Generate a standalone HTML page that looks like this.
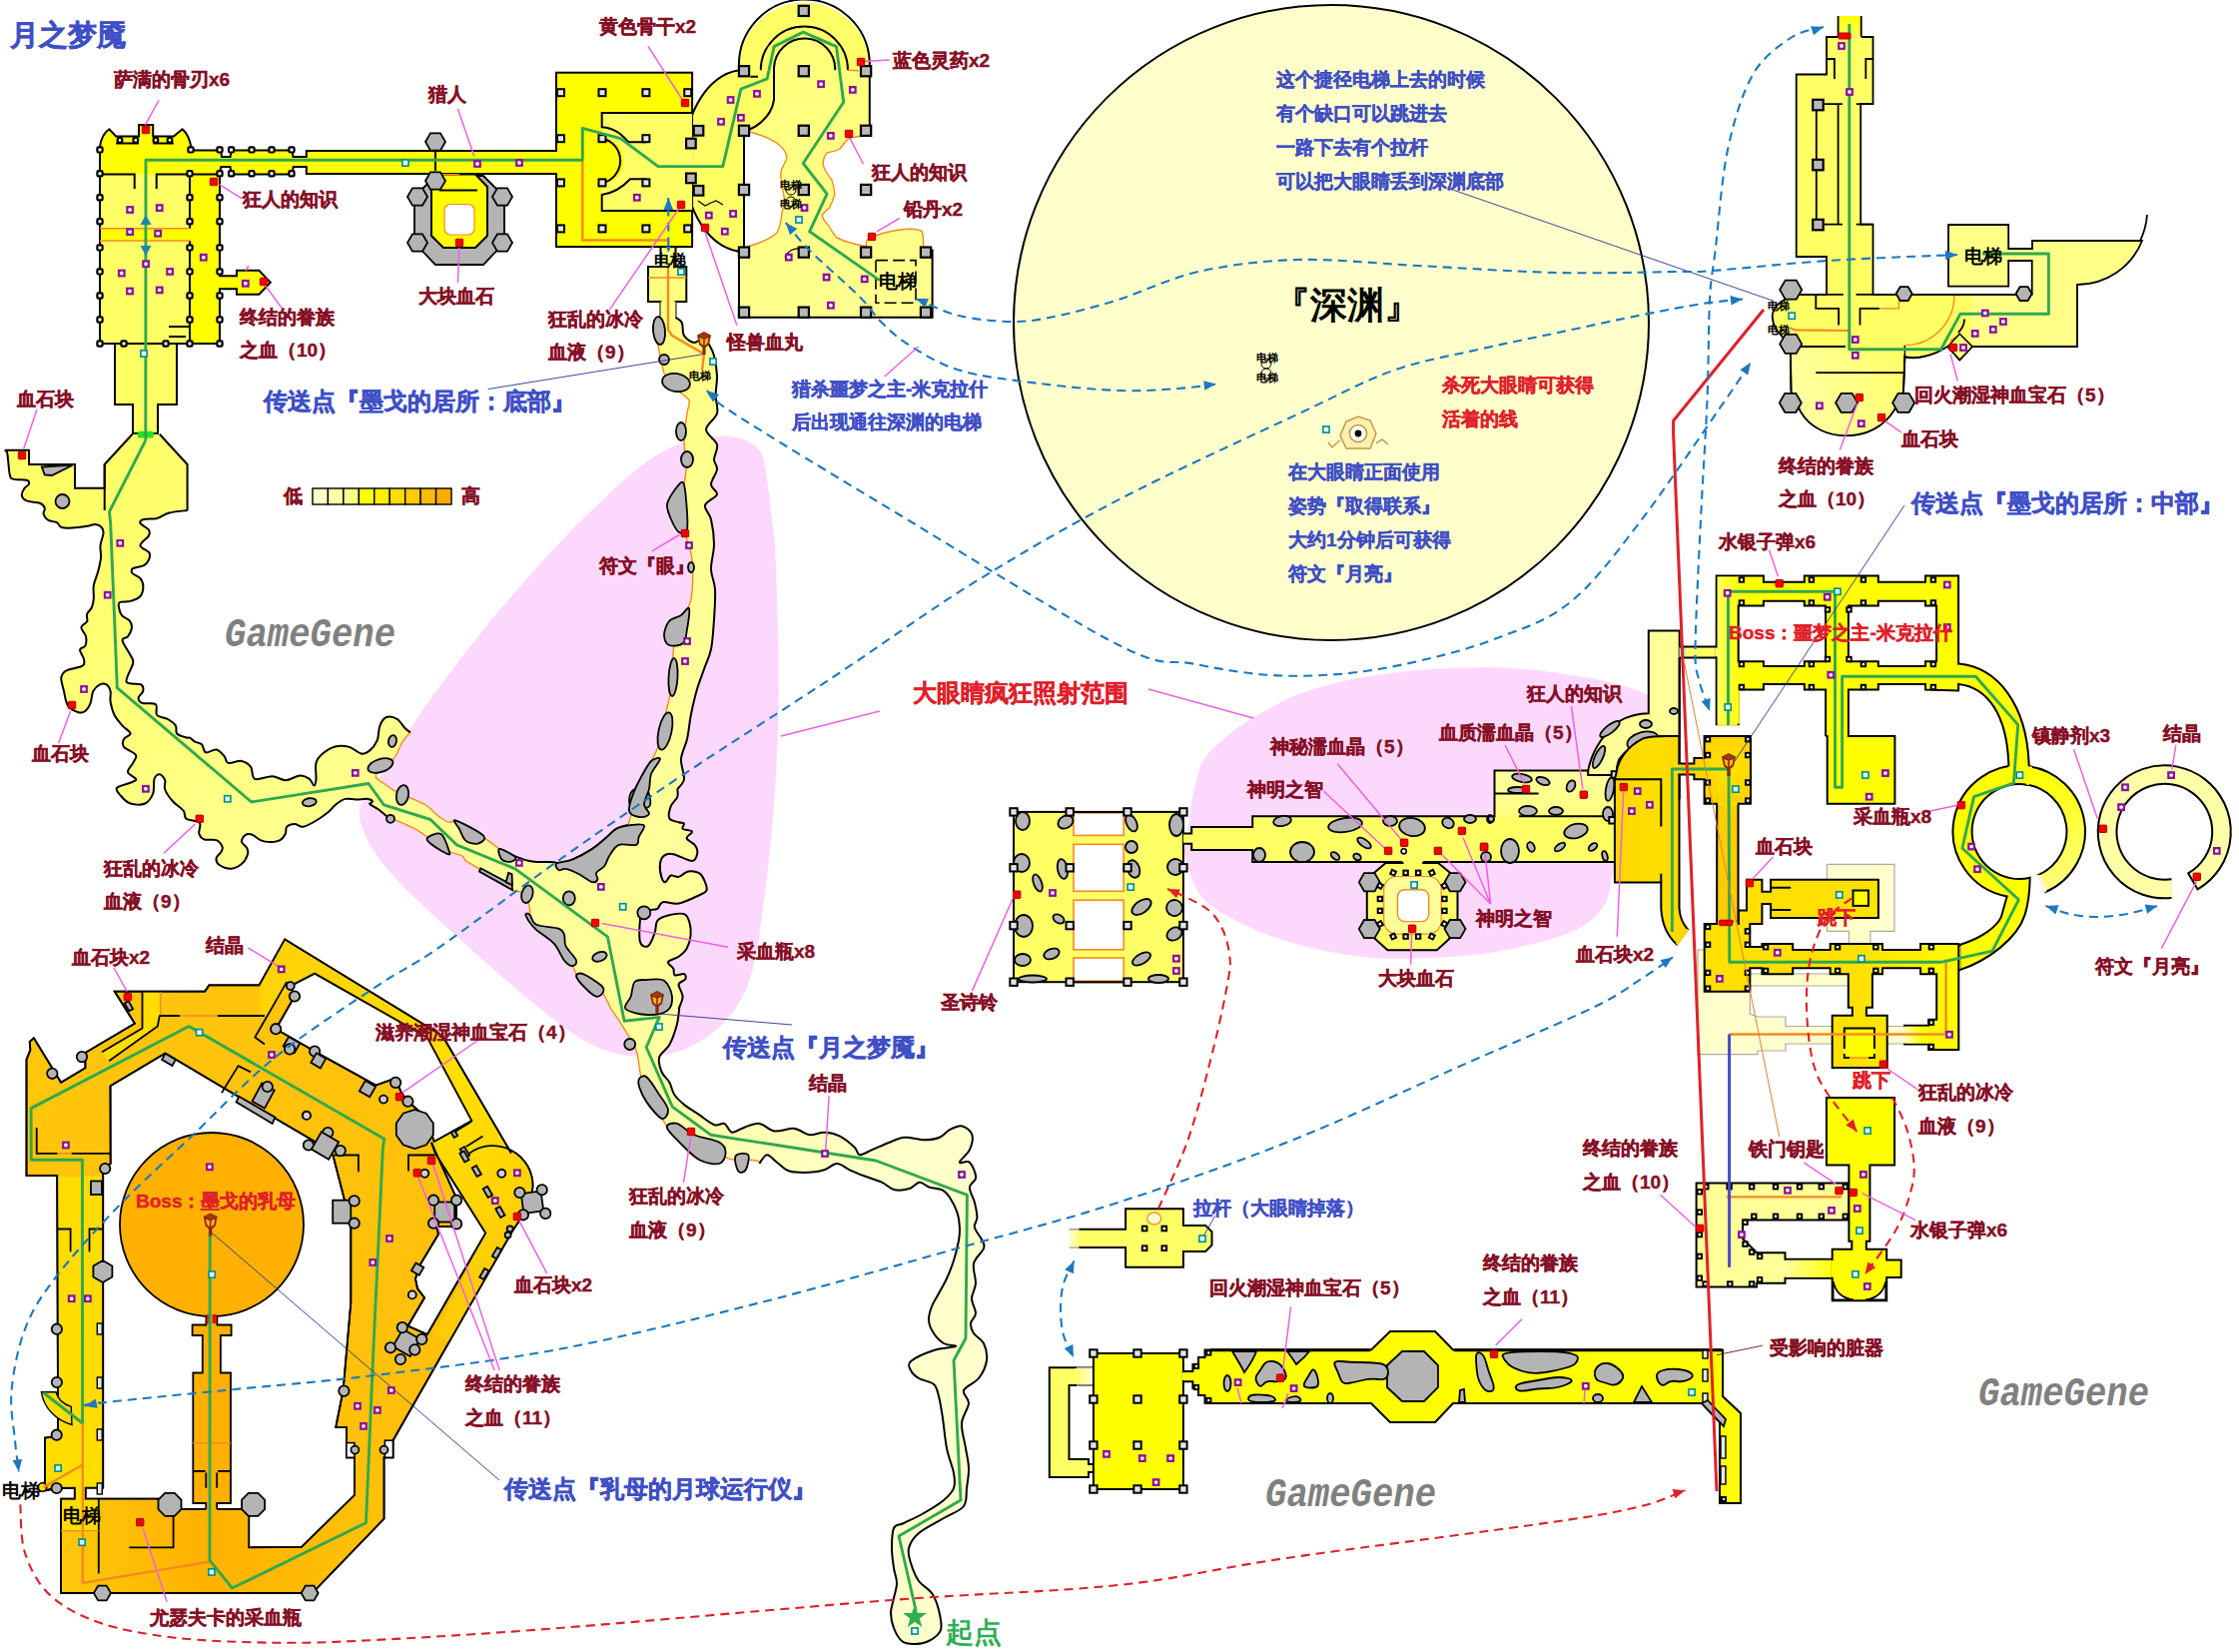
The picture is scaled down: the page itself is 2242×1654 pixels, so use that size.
<!DOCTYPE html>
<html><head><meta charset="utf-8"><title>月之梦魇</title>
<style>
html,body{margin:0;padding:0;background:#fff;}
body{width:2242px;height:1654px;overflow:hidden;font-family:"Liberation Sans",sans-serif;}
svg{display:block;position:absolute;left:0;top:0}
text{font-family:"Liberation Sans",sans-serif;font-weight:bold}
.lb{fill:#861026;font-size:19px;stroke:#861026;stroke-width:.45px}
.bl{fill:#3f4fc6;font-size:19px;stroke:#3f4fc6;stroke-width:.45px}
.bb{fill:#3f4fc6;font-size:24px;stroke:#3f4fc6;stroke-width:.55px}
.rd{fill:#e0202a;font-size:19px;stroke:#e0202a;stroke-width:.45px}
.w{stroke:#000;stroke-width:2;fill:none;stroke-linejoin:miter}
.y1{fill:#ffff00;stroke:#000;stroke-width:2}
.y2{fill:#ffff66;stroke:#000;stroke-width:2}
.y3{fill:#ffff99;stroke:#000;stroke-width:1.6}
.g{fill:#b4b4b4;stroke:#000;stroke-width:1.8}
.gp{stroke:#2fa84f;stroke-width:2.9;fill:none;stroke-linejoin:round}
.or{stroke:#f58a1f;stroke-width:2;fill:none}
.bd{stroke:#1c78c0;stroke-width:2.1;fill:none;stroke-dasharray:9 6}
.rdd{stroke:#e0202a;stroke-width:2.1;fill:none;stroke-dasharray:9 6}
.mg{stroke:#ee60e6;stroke-width:1.5;fill:none}
.nv{stroke:#27308f;stroke-width:0.9;fill:none}
</style></head><body>
<svg width="2242" height="1654" viewBox="0 0 2242 1654">
<!-- 00_base.svg -->
<rect x="0" y="0" width="2242" height="1654" fill="#ffffff"/>
<!-- pink blob 1 -->
<path fill="#fdd8fd" d="M716,437 C726,435 750,438 760,450 C768,460 770,500 775.6,540 C778,580 780,660 779.7,700 C779,740 777,800 770,860 C766,900 762,920 760,940 C757,960 752,978 748,988 C742,1002 736,1012 728,1020 C718,1032 705,1042 692,1047.5 C680,1053 670,1056 660,1057.5 C645,1059 632,1058 620,1055.5 C608,1053 598,1049 588,1043.5 C572,1035 560,1025 548,1015.5 C530,1002 515,988 500,975.6 C486,964 472,951 460,939.6 C442,924 426,909 412,895.6 C400,884 388,871 380,859.7 C372,849 367,840 364,831.7 C361,824 359,818 360,811.7 C361,805 364,800 368,795.7 C378,782 388,766 396,751.7 C402,742 406,736 412,727.8 C420,716 430,700 440,687.8 C452,672 466,653 480,635.8 C492,620 506,604 520,587.9 C532,574 546,558 560,543.9 C572,531 586,517 600,503.9 C612,492 626,479 640,468 C652,459 666,450 680,444 C692,439 704,437 716,437 Z"/>
<!-- pink blob 2 -->
<path fill="#fdd8fd" d="M1186,853 L1190,828 C1192,805 1196,785 1203,765 C1208,755 1213,750 1220,744.7 C1230,735 1242,726 1255,718.4 C1268,711 1282,703 1295,697 C1310,691 1328,686 1345,682 C1362,678 1382,675 1400,673.3 C1415,671.5 1430,670 1446,669.6 C1462,668.6 1480,668 1496,668.3 C1512,668.5 1530,670 1546,672 C1562,674 1580,676.5 1596,679.6 C1612,683 1628,687 1641,692 C1648,695 1652,697 1656,700 L1656,740 L1625,760 L1616,865 C1614,880 1612,893 1608.6,903 C1602,914 1594,922 1583.5,928 C1572,934 1560,938.5 1546,942 C1530,946.5 1512,950.5 1496,953.3 C1480,956 1462,957.6 1446,958.3 C1425,959.6 1404,960 1383,959.5 C1366,958.6 1350,956.5 1333,953.3 C1316,950 1300,946 1283,940.7 C1268,936 1254,930 1240,923 C1228,917 1217,910 1208,903 C1201,897 1196,888 1193,878 C1190,870 1187,862 1186,853 Z"/>
<!-- abyss circle -->
<circle cx="1333" cy="323" r="318" fill="#ffffcc" stroke="#000" stroke-width="2"/>

<!-- 10_tl.svg -->
<path class="y2" d="M115,344 L115,405 L133,405 L133,434 L158,434 L158,405 L177,405 L177,344 Z"/>
<path class="y1" d="M100,344 L100,147 C101,139 104,133 109.4,129.2 L116.1,136.5 L139,136.5 L139,125 L153.2,125 L153.2,136.5 L173.9,136.5 L182.6,129.2 C187,133 190,139 191.3,147 L191.3,150.4 L221,150.4 L222,157 L230.6,157 L231.6,150.4 L292.6,150.4 L293.5,157 L306.8,157 L306.8,151 L557,151 L557,174 L306.8,174 L306.8,167 L293.7,167 L292.6,174.4 L231.6,174.4 L230.5,167 L221.3,167 L220,174.4 L220,276.2 L237,276.2 L237,270.8 L259.4,270.8 L270.8,282.7 L259.4,294.7 L237,294.7 L237,289.2 L220,289.2 L220,344 Z"/>
<rect x="100" y="174.4" width="90" height="54.4" fill="#ffff66"/>
<rect x="100" y="241.1" width="90" height="102.9" fill="#ffff66"/>
<path class="w" d="M100,174.4 L134.7,174.4 L134.7,189 M156.7,189 L156.7,174.4 L220,174.4 M190,174.4 L190,228.8 M190,241.1 L190,344 M100,147 L100,344 L220,344 M116.1,143.5 L139,143.5 M153.2,143.5 L173.9,143.5 M169,327 L190,327 M169,337 L186,337"/>
<path class="or" style="stroke-width:1.5" d="M100,228.8 L190,228.8 M100,241.1 L190,241.1"/>
<rect x="97.4" y="147.3" width="5.2" height="5.2" rx="1.2" fill="#fff" stroke="#000" stroke-width="2.2"/>
<rect x="97.4" y="171.2" width="5.2" height="5.2" rx="1.2" fill="#fff" stroke="#000" stroke-width="2.2"/>
<rect x="187.4" y="171.2" width="5.2" height="5.2" rx="1.2" fill="#fff" stroke="#000" stroke-width="2.2"/>
<rect x="217.4" y="171.2" width="5.2" height="5.2" rx="1.2" fill="#fff" stroke="#000" stroke-width="2.2"/>
<rect x="97.4" y="195.2" width="5.2" height="5.2" rx="1.2" fill="#fff" stroke="#000" stroke-width="2.2"/>
<rect x="187.4" y="195.2" width="5.2" height="5.2" rx="1.2" fill="#fff" stroke="#000" stroke-width="2.2"/>
<rect x="217.4" y="195.2" width="5.2" height="5.2" rx="1.2" fill="#fff" stroke="#000" stroke-width="2.2"/>
<rect x="97.4" y="219.2" width="5.2" height="5.2" rx="1.2" fill="#fff" stroke="#000" stroke-width="2.2"/>
<rect x="187.4" y="219.2" width="5.2" height="5.2" rx="1.2" fill="#fff" stroke="#000" stroke-width="2.2"/>
<rect x="217.4" y="219.2" width="5.2" height="5.2" rx="1.2" fill="#fff" stroke="#000" stroke-width="2.2"/>
<rect x="97.4" y="245.3" width="5.2" height="5.2" rx="1.2" fill="#fff" stroke="#000" stroke-width="2.2"/>
<rect x="187.4" y="245.3" width="5.2" height="5.2" rx="1.2" fill="#fff" stroke="#000" stroke-width="2.2"/>
<rect x="217.4" y="245.3" width="5.2" height="5.2" rx="1.2" fill="#fff" stroke="#000" stroke-width="2.2"/>
<rect x="97.4" y="269.3" width="5.2" height="5.2" rx="1.2" fill="#fff" stroke="#000" stroke-width="2.2"/>
<rect x="187.4" y="269.3" width="5.2" height="5.2" rx="1.2" fill="#fff" stroke="#000" stroke-width="2.2"/>
<rect x="217.4" y="269.3" width="5.2" height="5.2" rx="1.2" fill="#fff" stroke="#000" stroke-width="2.2"/>
<rect x="97.4" y="293.4" width="5.2" height="5.2" rx="1.2" fill="#fff" stroke="#000" stroke-width="2.2"/>
<rect x="187.4" y="293.4" width="5.2" height="5.2" rx="1.2" fill="#fff" stroke="#000" stroke-width="2.2"/>
<rect x="217.4" y="293.4" width="5.2" height="5.2" rx="1.2" fill="#fff" stroke="#000" stroke-width="2.2"/>
<rect x="97.4" y="317.4" width="5.2" height="5.2" rx="1.2" fill="#fff" stroke="#000" stroke-width="2.2"/>
<rect x="187.4" y="317.4" width="5.2" height="5.2" rx="1.2" fill="#fff" stroke="#000" stroke-width="2.2"/>
<rect x="217.4" y="317.4" width="5.2" height="5.2" rx="1.2" fill="#fff" stroke="#000" stroke-width="2.2"/>
<rect x="97.4" y="341.4" width="5.2" height="5.2" rx="1.2" fill="#fff" stroke="#000" stroke-width="2.2"/>
<rect x="187.4" y="341.4" width="5.2" height="5.2" rx="1.2" fill="#fff" stroke="#000" stroke-width="2.2"/>
<rect x="217.4" y="341.4" width="5.2" height="5.2" rx="1.2" fill="#fff" stroke="#000" stroke-width="2.2"/>
<rect x="188.4" y="147.3" width="5.2" height="5.2" rx="1.2" fill="#fff" stroke="#000" stroke-width="2.2"/>
<rect x="217.4" y="147.3" width="5.2" height="5.2" rx="1.2" fill="#fff" stroke="#000" stroke-width="2.2"/>
<rect x="229.0" y="147.3" width="5.2" height="5.2" rx="1.2" fill="#fff" stroke="#000" stroke-width="2.2"/>
<rect x="229.0" y="171.2" width="5.2" height="5.2" rx="1.2" fill="#fff" stroke="#000" stroke-width="2.2"/>
<rect x="249.4" y="147.3" width="5.2" height="5.2" rx="1.2" fill="#fff" stroke="#000" stroke-width="2.2"/>
<rect x="249.4" y="171.2" width="5.2" height="5.2" rx="1.2" fill="#fff" stroke="#000" stroke-width="2.2"/>
<rect x="269.4" y="147.3" width="5.2" height="5.2" rx="1.2" fill="#fff" stroke="#000" stroke-width="2.2"/>
<rect x="269.4" y="171.2" width="5.2" height="5.2" rx="1.2" fill="#fff" stroke="#000" stroke-width="2.2"/>
<rect x="289.4" y="147.3" width="5.2" height="5.2" rx="1.2" fill="#fff" stroke="#000" stroke-width="2.2"/>
<rect x="289.4" y="171.2" width="5.2" height="5.2" rx="1.2" fill="#fff" stroke="#000" stroke-width="2.2"/>
<rect x="117.7" y="138.0" width="4.6" height="4.6" rx="1.2" fill="#fff" stroke="#000" stroke-width="2.2"/>
<rect x="133.5" y="138.0" width="4.6" height="4.6" rx="1.2" fill="#fff" stroke="#000" stroke-width="2.2"/>
<rect x="153.6" y="138.0" width="4.6" height="4.6" rx="1.2" fill="#fff" stroke="#000" stroke-width="2.2"/>
<rect x="167.7" y="138.0" width="4.6" height="4.6" rx="1.2" fill="#fff" stroke="#000" stroke-width="2.2"/>
<rect x="121.4" y="341.4" width="5.2" height="5.2" rx="1.2" fill="#fff" stroke="#000" stroke-width="2.2"/>
<rect x="163.4" y="341.4" width="5.2" height="5.2" rx="1.2" fill="#fff" stroke="#000" stroke-width="2.2"/>
<path class="g" d="M436,176 L484,176 L505,197 L505,243 L484,265 L436,265 L415,243 L415,197 Z"/>
<path class="y1" d="M440,174.5 L476,174.5 L488,187 L488,236 L476,248 L444,248 L432,236 L432,187 Z"/>
<rect x="445" y="204.5" width="30" height="30.5" rx="6" fill="#fff" stroke="#f58a1f" stroke-width="1.2"/>
<path class="w" d="M440,190.5 L478,190.5"/><path class="or" style="stroke-width:1.4" d="M440,174.6 L460,174.6"/>
<polygon class="g" points="446.0,142.0 441.0,150.7 431.0,150.7 426.0,142.0 431.0,133.3 441.0,133.3"/>
<polygon class="g" points="446.0,181.0 441.0,189.7 431.0,189.7 426.0,181.0 431.0,172.3 441.0,172.3"/>
<polygon class="g" points="428.0,197.0 423.0,205.7 413.0,205.7 408.0,197.0 413.0,188.3 423.0,188.3"/>
<polygon class="g" points="513.0,197.0 508.0,205.7 498.0,205.7 493.0,197.0 498.0,188.3 508.0,188.3"/>
<polygon class="g" points="428.0,243.0 423.0,251.7 413.0,251.7 408.0,243.0 413.0,234.3 423.0,234.3"/>
<polygon class="g" points="513.0,243.0 508.0,251.7 498.0,251.7 493.0,243.0 498.0,234.3 508.0,234.3"/>
<path class="w" d="M436,152 L436,171"/>
<!-- 11_sq.svg -->
<path fill="#ffff66" d="M870.8,68 A64.5,64.5 0 0 0 740,68 L745,70 A60,91 0 0 0 745,252 L745,131 C752.7,130 772,120 775,100 L775,68 A30.5,30.5 0 0 1 836,68 Z"/>
<defs><linearGradient id="lgB" x1="0" y1="0" x2="0" y2="1"><stop offset="0" stop-color="#ffff7a"/><stop offset="1" stop-color="#ffff90"/></linearGradient></defs>
<path fill="url(#lgB)" d="M775,68 A30.5,30.5 0 0 1 836,68 L870.8,68 L870.8,131 L859.3,136.8 L850.8,138 C846,142 843,146 841,149 C836,152 830,152 827.8,153.2 C825,157 824,160 824.3,165.4 C826,172 830,176 833,180.4 C835,186 836,190 835.6,195.4 C834,201 832,205 830.6,208 C828,211 824,213 823,215.5 C824,220 827,223 829.4,225.5 C832,230 835,235 838,238 C844,241 850,243 855.7,244.3 L867,246.8 L868,240.5 C874,237 880,234.5 885.7,233 C894,231 902,229.5 910.8,229.3 C916,229.2 921,230 923.3,231.8 C924.5,236 924.8,242 924.6,250.6 L933.6,250.6 L933.6,317.7 L740,317.7 L740,250.6 L748,246.8 C752,246 757,244.5 760.5,243 C768,240 774,237 778,233 C781,227 782.5,220 783,213 C784,208 785.5,204 785.5,200.5 C784.5,192 782,182 781.8,172.9 C783,167 787,162 788,157.9 C787,152 784,148 780.5,145.3 C774,140 765,136 753,132.8 L745,131 C752.7,130 772,120 775,100 Z"/>
<path class="w" d="M870.8,131 L870.8,62 A64.5,64.5 0 0 0 740,68 M745,70 A60,91 0 0 0 745,252 M745,131 L745,252 M761.8,70.2 A43,43 0 0 1 849,70.2 M745,131 C752.7,130 772,120 775,100 L775,68 A30.5,30.5 0 0 1 836.2,70.2 M751.5,76.7 L759,76.7 M748,250.6 L740,250.6 L740,317.7 L933.6,317.7 L933.6,250.6 L924.6,250.6"/>
<path class="or" style="stroke-width:1.4" d="M870.8,131 L859.3,136.8 L850.8,138 C846,142 843,146 841,149 C836,152 830,152 827.8,153.2 C825,157 824,160 824.3,165.4 C826,172 830,176 833,180.4 C835,186 836,190 835.6,195.4 C834,201 832,205 830.6,208 C828,211 824,213 823,215.5 C824,220 827,223 829.4,225.5 C832,230 835,235 838,238 C844,241 850,243 855.7,244.3 L867,246.8 L868,240.5 C874,237 880,234.5 885.7,233 C894,231 902,229.5 910.8,229.3 C916,229.2 921,230 923.3,231.8 C924.5,236 924.8,242 924.6,250.6 M748,246.8 C752,246 757,244.5 760.5,243 C768,240 774,237 778,233 C781,227 782.5,220 783,213 C784,208 785.5,204 785.5,200.5 C784.5,192 782,182 781.8,172.9 C783,167 787,162 788,157.9 C787,152 784,148 780.5,145.3 C774,140 765,136 753,132.8 L745,131 M849,70.2 L860,70.8"/>
<rect x="877" y="260.6" width="40" height="42.6" fill="none" stroke="#000" stroke-width="1.6" stroke-dasharray="12 5"/>
<circle cx="792" cy="190" r="5" fill="none" stroke="#000" stroke-width="1"/><circle cx="792" cy="202" r="5" fill="none" stroke="#000" stroke-width="1"/>
<path class="w" style="stroke-width:1.2" d="M786,258 C789,251 795,248 801,249 M699,201 L706,206 L712,203 L717,201 L724,205"/>
<rect x="739.9" y="66.1" width="10.2" height="10.2" fill="#b8b8b8" stroke="#000" stroke-width="2.2"/>
<rect x="739.9" y="125.7" width="10.2" height="10.2" fill="#b8b8b8" stroke="#000" stroke-width="2.2"/>
<rect x="739.9" y="184.9" width="10.2" height="10.2" fill="#b8b8b8" stroke="#000" stroke-width="2.2"/>
<rect x="799.7" y="66.1" width="10.2" height="10.2" fill="#b8b8b8" stroke="#000" stroke-width="2.2"/>
<rect x="799.7" y="125.7" width="10.2" height="10.2" fill="#b8b8b8" stroke="#000" stroke-width="2.2"/>
<rect x="799.7" y="184.9" width="10.2" height="10.2" fill="#b8b8b8" stroke="#000" stroke-width="2.2"/>
<rect x="862.0" y="66.1" width="10.2" height="10.2" fill="#b8b8b8" stroke="#000" stroke-width="2.2"/>
<rect x="862.0" y="125.7" width="10.2" height="10.2" fill="#b8b8b8" stroke="#000" stroke-width="2.2"/>
<rect x="862.0" y="184.9" width="10.2" height="10.2" fill="#b8b8b8" stroke="#000" stroke-width="2.2"/>
<rect x="799.7" y="5.8" width="10.2" height="10.2" fill="#b8b8b8" stroke="#000" stroke-width="2.2"/>
<rect x="739.9" y="247.5" width="10.2" height="10.2" fill="#b8b8b8" stroke="#000" stroke-width="2.2"/>
<rect x="739.9" y="307.6" width="10.2" height="10.2" fill="#b8b8b8" stroke="#000" stroke-width="2.2"/>
<rect x="799.7" y="247.5" width="10.2" height="10.2" fill="#b8b8b8" stroke="#000" stroke-width="2.2"/>
<rect x="799.7" y="307.6" width="10.2" height="10.2" fill="#b8b8b8" stroke="#000" stroke-width="2.2"/>
<rect x="862.0" y="247.5" width="10.2" height="10.2" fill="#b8b8b8" stroke="#000" stroke-width="2.2"/>
<rect x="862.0" y="307.6" width="10.2" height="10.2" fill="#b8b8b8" stroke="#000" stroke-width="2.2"/>
<rect x="921.9" y="247.5" width="10.2" height="10.2" fill="#b8b8b8" stroke="#000" stroke-width="2.2"/>
<rect x="921.9" y="307.6" width="10.2" height="10.2" fill="#b8b8b8" stroke="#000" stroke-width="2.2"/>
<path fill="#ffff80" d="M661.5,247 L676.5,247 L676.5,266.9 L687.3,266.9 L687.3,302 L676.5,302 L676.5,319 L661.5,319 L661.5,302 L649,302 L649,266.9 L661.5,266.9 Z"/>
<path class="w" d="M661.5,247 L661.5,266.9 L649,266.9 L649,302 L661.5,302 L661.5,318 M676.5,247 L676.5,266.9 L687.3,266.9 L687.3,302 L676.5,302 L676.5,318"/>
<path class="or" style="stroke-width:1.4" d="M649,278 L687.3,278"/>
<rect x="557" y="72.7" width="136.1" height="174.4" class="y1" style="stroke-width:2"/>
<rect x="602.7" y="112.9" width="90.4" height="98.2" fill="#ffff66"/>
<path fill="#ffff00" d="M601,138 L603,138 A22,23 0 0 1 603,184 L601,184 Z"/>
<path stroke="#ffff00" stroke-width="3" d="M557,152 L557,173"/><path stroke="#ffff66" stroke-width="3" d="M693.1,144 L693.1,178"/>
<path class="w" style="stroke-width:2" d="M693,112.9 L602.7,112.9 L602.7,127.2 C615,128 622,134 629.3,142.3 L646.9,142.3 M603,138.7 A22,22.5 0 0 1 603,183 M646.9,179.3 L631.1,179.3 C624,187 616,193 602.7,195 L602.7,211.1 L693,211.1"/>
<rect x="558.0" y="89.2" width="7" height="7" fill="#e4e4e4" stroke="#000" stroke-width="2"/>
<rect x="599.5" y="89.2" width="7" height="7" fill="#e4e4e4" stroke="#000" stroke-width="2"/>
<rect x="643.4" y="89.2" width="7" height="7" fill="#e4e4e4" stroke="#000" stroke-width="2"/>
<rect x="685.2" y="89.2" width="7" height="7" fill="#e4e4e4" stroke="#000" stroke-width="2"/>
<rect x="558.0" y="135.2" width="7" height="7" fill="#e4e4e4" stroke="#000" stroke-width="2"/>
<rect x="599.5" y="135.2" width="7" height="7" fill="#e4e4e4" stroke="#000" stroke-width="2"/>
<rect x="643.4" y="135.2" width="7" height="7" fill="#e4e4e4" stroke="#000" stroke-width="2"/>
<rect x="558.0" y="179.4" width="7" height="7" fill="#e4e4e4" stroke="#000" stroke-width="2"/>
<rect x="599.5" y="179.4" width="7" height="7" fill="#e4e4e4" stroke="#000" stroke-width="2"/>
<rect x="643.4" y="179.4" width="7" height="7" fill="#e4e4e4" stroke="#000" stroke-width="2"/>
<rect x="558.0" y="225.4" width="7" height="7" fill="#e4e4e4" stroke="#000" stroke-width="2"/>
<rect x="599.5" y="225.4" width="7" height="7" fill="#e4e4e4" stroke="#000" stroke-width="2"/>
<rect x="643.4" y="225.4" width="7" height="7" fill="#e4e4e4" stroke="#000" stroke-width="2"/>
<rect x="685.2" y="225.4" width="7" height="7" fill="#e4e4e4" stroke="#000" stroke-width="2"/>
<rect x="694.7" y="126.0" width="9.6" height="9.6" fill="#b8b8b8" stroke="#000" stroke-width="2.2"/>
<rect x="687.1" y="138.8" width="9.6" height="9.6" fill="#b8b8b8" stroke="#000" stroke-width="2.2"/>
<rect x="687.1" y="173.6" width="9.6" height="9.6" fill="#b8b8b8" stroke="#000" stroke-width="2.2"/>
<rect x="694.7" y="186.0" width="9.6" height="9.6" fill="#b8b8b8" stroke="#000" stroke-width="2.2"/>
<!-- 12_cave.svg -->
<defs><linearGradient id="cgA" gradientUnits="userSpaceOnUse" x1="100" y1="450" x2="470" y2="850"><stop offset="0" stop-color="#ffff66"/><stop offset="0.5" stop-color="#ffff80"/><stop offset="1" stop-color="#ffff99"/></linearGradient><linearGradient id="cgC" gradientUnits="userSpaceOnUse" x1="620" y1="1020" x2="900" y2="1200"><stop offset="0" stop-color="#ffff99"/><stop offset="1" stop-color="#ffffcc"/></linearGradient></defs>
<path fill="url(#cgA)" d="M132.5,434.8 L104.7,465.0 L104.7,488.7 L75.0,488.7 L75.0,465.0 L29.0,465.0 L29.0,450.8 L4.8,450.8 L7.3,454.0 L9.7,474.8 L13.3,479.6 L26.6,480.8 L29.0,484.5 L24.2,489.3 L21.8,496.0 L26.6,501.4 L40.0,503.8 L44.8,508.7 L43.6,514.7 L48.4,520.8 L56.9,523.2 L61.7,528.0 L72.6,528.6 L87.1,526.8 L95.6,525.0 L101.7,528.0 L103.5,534.0 L100.5,546.2 L101.0,558.3 L98.0,572.8 L93.8,586.0 L93.8,599.4 L92.0,608.0 L87.1,615.0 L87.1,622.4 L81.3,628.0 L86.0,637.3 L85.3,646.6 L80.0,650.6 L84.0,660.0 L82.6,666.6 L66.6,671.3 L61.3,678.6 L64.0,692.0 L68.0,706.6 L78.6,713.2 L85.3,712.0 L90.6,704.0 L93.3,692.0 L100.0,685.3 L106.6,685.3 L110.6,692.0 L110.6,702.6 L114.6,716.0 L122.6,726.6 L130.6,734.5 L124.0,740.0 L124.0,747.9 L136.0,755.9 L133.2,763.8 L128.0,773.2 L136.0,781.2 L117.3,788.5 L121.2,797.0 L130.6,804.5 L145.2,804.5 L153.2,794.5 L154.5,780.0 L160.0,775.2 L165.2,781.2 L165.2,790.5 L173.2,802.5 L183.8,811.8 L186.5,819.8 L199.8,823.8 L199.3,834.5 L204.6,840.5 L216.6,841.1 L222.6,847.8 L221.3,853.1 L216.6,859.1 L219.3,865.8 L231.3,869.8 L241.9,865.1 L247.9,855.8 L247.3,849.1 L241.9,842.5 L245.9,835.8 L252.6,835.8 L260.6,841.1 L269.9,843.1 L280.5,841.1 L285.9,834.5 L287.2,827.8 L295.2,825.1 L303.2,827.8 L315.1,822.5 L328.5,813.2 L336.5,805.2 L345.8,799.9 L356.4,800.5 L368.4,799.9 L373.1,802.5 L370.4,805.2 L379.1,810.5 L387.0,817.2 L397.7,821.8 L408.3,826.5 L419.0,831.8 L428.3,838.5 L440.0,849.9 L451.0,853.1 L463.0,857.1 L466.6,861.9 L480.0,869.9 L496.0,880.0 L513.2,891.2 L522.5,893.8 L529.2,904.5 L530.5,913.8 L526.5,916.5 L535.9,929.8 L554.5,944.4 L565.1,961.7 L573.1,967.1 L577.1,975.1 L586.5,989.7 L597.1,997.7 L603.8,995.0 L611.7,1010.0 L679.6,1010.0 L683.6,997.7 L679.6,985.7 L686.3,980.4 L685.0,975.1 L675.7,976.4 L674.3,969.7 L669.0,963.1 L679.6,957.8 L687.6,949.8 L691.6,936.4 L690.3,923.1 L685.0,915.1 L669.0,916.5 L658.3,921.8 L655.7,933.8 L649.0,947.1 L641.0,943.1 L641.0,920.5 L644.8,913.8 L650.3,911.2 L658.3,909.8 L663.7,903.2 L679.6,904.5 L699.6,896.5 L707.6,891.2 L704.9,880.5 L699.6,873.9 L689.0,872.5 L679.6,877.9 L671.7,876.5 L666.3,883.2 L662.3,877.9 L661.0,864.6 L665.0,856.6 L674.3,855.2 L693.0,861.9 L698.3,853.9 L695.6,845.9 L687.6,839.3 L693.0,832.6 L683.6,829.9 L685.0,824.6 L679.6,823.3 L670.3,819.3 L671.7,807.3 L678.3,798.0 L678.3,790.0 L685.0,780.0 L682.0,760.0 L688.0,740.0 L692.0,715.0 L698.0,690.0 L705.0,670.0 L712.0,650.0 L715.0,620.0 L716.0,590.0 L712.0,570.0 L715.0,545.0 L712.0,520.0 L706.0,506.0 L718.0,495.0 L712.0,485.0 L718.0,470.0 L715.0,460.0 L718.0,445.0 L707.0,430.0 L718.0,414.0 L716.6,396.0 L718.0,376.0 L715.0,356.0 L710.0,345.0 L705.0,338.0 L695.0,343.0 L685.0,336.0 L682.8,323.0 L676.5,318.0 L676.5,302.0 L661.5,302.0 L661.5,318.0 L656.5,323.0 L658.0,340.0 L660.0,351.0 L663.0,365.0 L667.0,378.0 L680.0,392.0 L690.0,401.0 L688.0,414.0 L685.0,440.0 L687.0,470.0 L683.0,500.0 L685.0,530.0 L693.0,560.0 L692.0,600.0 L682.0,620.0 L675.0,645.0 L672.0,690.0 L665.0,720.0 L660.0,745.0 L648.0,770.0 L635.7,790.0 L631.0,800.0 L633.0,810.0 L629.0,826.0 L617.1,829.9 L606.4,839.3 L593.1,849.9 L573.1,860.6 L557.2,864.6 L554.5,863.2 L533.2,862.6 L517.2,857.9 L500.0,850.0 L484.0,838.0 L470.0,827.8 L456.3,821.8 L449.6,823.2 L439.0,817.2 L427.0,806.5 L409.7,798.5 L397.7,793.2 L385.7,785.2 L376.4,775.9 L395.0,758.6 L403.0,742.6 L411.0,733.3 L405.7,729.3 L397.7,720.0 L387.0,718.0 L380.4,726.6 L377.7,741.3 L369.7,751.9 L361.7,754.6 L349.8,747.9 L336.5,747.3 L323.1,754.6 L316.5,763.9 L316.5,779.9 L314.5,786.5 L309.8,779.9 L300.5,776.6 L285.9,781.2 L272.5,777.2 L255.2,779.9 L251.2,767.9 L241.9,761.9 L228.6,763.9 L224.6,757.2 L216.6,750.6 L206.0,753.3 L202.0,745.3 L195.3,742.6 L190.0,738.6 L186.5,738.5 L177.2,734.5 L175.9,726.6 L167.9,720.0 L157.2,716.0 L155.9,705.2 L142.6,704.0 L138.6,698.6 L143.2,692.0 L141.2,685.3 L126.6,682.6 L133.2,664.0 L130.6,656.0 L122.6,641.3 L128.0,637.3 L132.0,628.0 L129.5,621.2 L122.2,616.4 L119.2,609.0 L119.8,603.0 L130.7,601.9 L140.4,597.0 L143.4,587.3 L140.4,578.9 L132.5,574.0 L133.1,569.2 L144.0,566.2 L148.9,560.7 L149.5,553.5 L140.4,546.2 L148.9,536.5 L148.9,530.5 L140.4,523.8 L144.0,520.0 L157.3,519.0 L169.5,513.5 L187.6,511.0 L187.6,465.0 L159.8,434.8 Z"/>
<path fill="url(#cgC)" d="M611.7,1010.0 L617.6,1018.4 L630.2,1038.5 L637.7,1053.5 L641.4,1076.0 L647.7,1103.6 L662.7,1120.0 L667.7,1127.4 L680.3,1143.7 L700.3,1161.2 L722.9,1158.7 L735.4,1161.2 L750.4,1161.2 L759.2,1162.5 L760.4,1165.0 L768.0,1156.2 L778.0,1163.7 L790.5,1172.5 L810.6,1173.8 L825.6,1171.3 L838.1,1165.0 L850.7,1171.3 L865.7,1177.5 L883.2,1183.8 L895.8,1191.3 L910.8,1190.0 L920.8,1183.8 L930.8,1188.8 L943.4,1191.3 L950.9,1198.8 L958.4,1213.9 L960.9,1228.9 L960.0,1242.0 L955.0,1262.0 L948.0,1280.0 L940.0,1295.0 L933.0,1308.0 L930.0,1322.0 L935.0,1335.0 L945.0,1345.0 L957.0,1348.0 L935.0,1352.0 L912.0,1363.0 L912.0,1372.0 L920.0,1380.0 L935.0,1386.0 L940.0,1398.0 L944.0,1420.0 L948.0,1450.0 L955.0,1475.0 L955.0,1490.0 L945.0,1502.0 L925.0,1515.0 L905.0,1525.0 L895.0,1530.0 L893.0,1550.0 L895.0,1570.0 L898.0,1585.0 L895.0,1600.0 L892.0,1615.0 L895.0,1630.0 L903.0,1643.0 L915.0,1646.0 L930.0,1643.0 L942.0,1632.0 L940.0,1612.0 L933.0,1595.0 L920.0,1583.0 L912.0,1565.0 L910.0,1550.0 L920.0,1535.0 L945.0,1520.0 L965.0,1508.0 L968.0,1490.0 L970.0,1470.0 L967.0,1450.0 L963.0,1425.0 L970.0,1405.0 L965.0,1392.0 L980.0,1380.0 L988.0,1362.0 L985.0,1345.0 L975.0,1335.0 L972.0,1325.0 L977.0,1315.0 L973.0,1300.0 L977.0,1285.0 L975.0,1265.0 L985.0,1250.0 L983.5,1242.0 L975.9,1228.9 L978.4,1218.9 L975.9,1203.8 L970.9,1188.8 L977.2,1178.8 L970.9,1163.7 L960.9,1163.7 L970.9,1151.2 L973.4,1136.2 L963.4,1127.4 L950.9,1131.2 L940.9,1138.7 L925.8,1141.2 L905.8,1138.7 L890.7,1143.7 L873.2,1151.2 L860.7,1156.2 L855.7,1148.7 L840.6,1137.4 L825.6,1133.7 L810.6,1136.2 L795.5,1129.9 L775.5,1132.4 L760.4,1124.9 L745.4,1128.7 L732.9,1133.7 L725.4,1124.9 L715.4,1126.2 L700.3,1116.2 L685.3,1106.1 L675.3,1096.0 L670.3,1083.6 L662.7,1073.5 L660.2,1058.5 L670.3,1046.0 L677.8,1025.9 L680.3,1008.4 Z"/>
<path class="w"  d="M132.5,434.8 L104.7,465.0 L104.7,488.7 L75.0,488.7 L75.0,465.0 L29.0,465.0 L29.0,450.8 L4.8,450.8"/>
<path class="w"  d="M187.6,511.0 L187.6,465.0 L159.8,434.8"/>
<path class="w"  d="M4.8,450.8 C5.2,451.3 6.5,450.0 7.3,454.0 C8.1,458.0 8.7,470.5 9.7,474.8 C10.7,479.1 10.5,478.6 13.3,479.6 C16.1,480.6 24.0,480.0 26.6,480.8 C29.2,481.6 29.4,483.1 29.0,484.5 C28.6,485.9 25.4,487.4 24.2,489.3 C23.0,491.2 21.4,494.0 21.8,496.0 C22.2,498.0 23.6,500.1 26.6,501.4 C29.6,502.7 37.0,502.6 40.0,503.8 C43.0,505.0 44.2,506.9 44.8,508.7 C45.4,510.5 43.0,512.7 43.6,514.7 C44.2,516.7 46.2,519.4 48.4,520.8 C50.6,522.2 54.7,522.0 56.9,523.2 C59.1,524.4 59.1,527.1 61.7,528.0 C64.3,528.9 68.4,528.8 72.6,528.6 C76.8,528.4 83.3,527.4 87.1,526.8 C90.9,526.2 93.2,524.8 95.6,525.0 C98.0,525.2 100.4,526.5 101.7,528.0 C103.0,529.5 103.7,531.0 103.5,534.0 C103.3,537.0 100.9,542.2 100.5,546.2 C100.1,550.2 101.4,553.9 101.0,558.3 C100.6,562.7 99.2,568.2 98.0,572.8 C96.8,577.4 94.5,581.6 93.8,586.0 C93.1,590.4 94.1,595.7 93.8,599.4 C93.5,603.1 93.1,605.4 92.0,608.0 C90.9,610.6 87.9,612.6 87.1,615.0 C86.3,617.4 88.1,620.2 87.1,622.4 C86.1,624.6 81.5,625.5 81.3,628.0 C81.1,630.5 85.3,634.2 86.0,637.3 C86.7,640.4 86.3,644.4 85.3,646.6 C84.3,648.8 80.2,648.4 80.0,650.6 C79.8,652.8 83.6,657.3 84.0,660.0 C84.4,662.7 85.5,664.7 82.6,666.6 C79.7,668.5 70.1,669.3 66.6,671.3 C63.0,673.3 61.7,675.1 61.3,678.6 C60.9,682.1 62.9,687.3 64.0,692.0 C65.1,696.7 65.6,703.1 68.0,706.6 C70.4,710.1 75.7,712.3 78.6,713.2 C81.5,714.1 83.3,713.5 85.3,712.0 C87.3,710.5 89.3,707.3 90.6,704.0 C91.9,700.7 91.7,695.1 93.3,692.0 C94.9,688.9 97.8,686.4 100.0,685.3 C102.2,684.2 104.8,684.2 106.6,685.3 C108.4,686.4 109.9,689.1 110.6,692.0 C111.3,694.9 109.9,698.6 110.6,702.6 C111.3,706.6 112.6,712.0 114.6,716.0 C116.6,720.0 119.9,723.5 122.6,726.6 C125.3,729.7 130.4,732.3 130.6,734.5 C130.8,736.7 125.1,737.8 124.0,740.0 C122.9,742.2 122.0,745.2 124.0,747.9 C126.0,750.5 134.5,753.2 136.0,755.9 C137.5,758.5 134.5,760.9 133.2,763.8 C131.9,766.7 127.5,770.3 128.0,773.2 C128.5,776.1 137.8,778.7 136.0,781.2 C134.2,783.8 119.8,785.9 117.3,788.5 C114.8,791.1 119.0,794.3 121.2,797.0 C123.4,799.7 126.6,803.2 130.6,804.5 C134.6,805.8 141.4,806.2 145.2,804.5 C149.0,802.8 151.6,798.6 153.2,794.5 C154.8,790.4 153.4,783.2 154.5,780.0 C155.6,776.8 158.2,775.0 160.0,775.2 C161.8,775.4 164.3,778.7 165.2,781.2 C166.1,783.8 163.9,787.0 165.2,790.5 C166.5,794.0 170.1,799.0 173.2,802.5 C176.3,806.0 181.6,808.9 183.8,811.8 C186.0,814.7 183.8,817.8 186.5,819.8 C189.2,821.8 197.7,821.3 199.8,823.8 C201.9,826.2 198.5,831.7 199.3,834.5 C200.1,837.3 201.7,839.4 204.6,840.5 C207.5,841.6 213.6,839.9 216.6,841.1 C219.6,842.3 221.8,845.8 222.6,847.8 C223.4,849.8 222.3,851.2 221.3,853.1 C220.3,855.0 216.9,857.0 216.6,859.1 C216.3,861.2 216.9,864.0 219.3,865.8 C221.8,867.6 227.5,869.9 231.3,869.8 C235.1,869.7 239.1,867.4 241.9,865.1 C244.7,862.8 247.0,858.5 247.9,855.8 C248.8,853.1 248.3,851.3 247.3,849.1 C246.3,846.9 242.1,844.7 241.9,842.5 C241.7,840.3 244.1,836.9 245.9,835.8 C247.7,834.7 250.1,834.9 252.6,835.8 C255.1,836.7 257.7,839.9 260.6,841.1 C263.5,842.3 266.6,843.1 269.9,843.1 C273.2,843.1 277.8,842.5 280.5,841.1 C283.2,839.7 284.8,836.7 285.9,834.5 C287.0,832.3 285.6,829.4 287.2,827.8 C288.8,826.2 292.5,825.1 295.2,825.1 C297.9,825.1 299.9,828.2 303.2,827.8 C306.5,827.4 310.9,824.9 315.1,822.5 C319.3,820.1 324.9,816.1 328.5,813.2 C332.1,810.3 333.6,807.4 336.5,805.2 C339.4,803.0 342.5,800.7 345.8,799.9 C349.1,799.1 352.6,800.5 356.4,800.5 C360.2,800.5 365.6,799.6 368.4,799.9 C371.2,800.2 372.8,801.6 373.1,802.5 C373.4,803.4 369.4,803.9 370.4,805.2 C371.4,806.5 376.3,808.5 379.1,810.5 C381.9,812.5 385.7,816.1 387.0,817.2 "/>
<path class="or" style="stroke-width:1.4" d="M387.0,817.2 C388.8,818.0 394.1,820.2 397.7,821.8 C401.2,823.3 404.8,824.8 408.3,826.5 C411.9,828.2 415.7,829.8 419.0,831.8 C422.3,833.8 424.8,835.5 428.3,838.5 C431.8,841.5 436.2,847.5 440.0,849.9 C443.8,852.3 447.2,851.9 451.0,853.1 C454.8,854.3 460.4,855.6 463.0,857.1 C465.6,858.6 463.8,859.8 466.6,861.9 C469.4,864.0 475.1,866.9 480.0,869.9 C484.9,872.9 490.5,876.5 496.0,880.0 C501.5,883.5 508.8,888.9 513.2,891.2 C517.6,893.5 519.8,891.6 522.5,893.8 C525.2,896.0 527.9,901.2 529.2,904.5 C530.5,907.8 531.0,911.8 530.5,913.8 C530.0,915.8 525.6,913.8 526.5,916.5 C527.4,919.2 531.2,925.1 535.9,929.8 C540.6,934.4 549.6,939.1 554.5,944.4 C559.4,949.7 562.0,957.9 565.1,961.7 C568.2,965.5 571.1,964.9 573.1,967.1 C575.1,969.3 574.9,971.3 577.1,975.1 C579.3,978.9 583.2,985.9 586.5,989.7 C589.8,993.5 594.2,996.8 597.1,997.7 C600.0,998.6 601.4,993.0 603.8,995.0 C606.2,997.0 610.4,1007.5 611.7,1010.0 "/>
<path class="w"  d="M679.6,1010.0 C680.3,1008.0 683.6,1001.8 683.6,997.7 C683.6,993.7 679.2,988.6 679.6,985.7 C680.0,982.8 685.4,982.2 686.3,980.4 C687.2,978.6 686.8,975.8 685.0,975.1 C683.2,974.4 677.5,977.3 675.7,976.4 C673.9,975.5 675.4,971.9 674.3,969.7 C673.2,967.5 668.1,965.1 669.0,963.1 C669.9,961.1 676.5,960.0 679.6,957.8 C682.7,955.6 685.6,953.4 687.6,949.8 C689.6,946.2 691.2,940.8 691.6,936.4 C692.0,932.0 691.4,926.6 690.3,923.1 C689.2,919.6 688.5,916.2 685.0,915.1 C681.5,914.0 673.5,915.4 669.0,916.5 C664.5,917.6 660.5,918.9 658.3,921.8 C656.1,924.7 657.2,929.6 655.7,933.8 C654.2,938.0 651.5,945.5 649.0,947.1 C646.5,948.7 642.3,947.5 641.0,943.1 C639.7,938.7 640.4,925.4 641.0,920.5 C641.6,915.6 643.2,915.3 644.8,913.8 C646.3,912.2 648.0,911.9 650.3,911.2 C652.5,910.5 656.1,911.1 658.3,909.8 C660.5,908.5 660.2,904.1 663.7,903.2 C667.2,902.3 673.6,905.6 679.6,904.5 C685.6,903.4 694.9,898.7 699.6,896.5 C704.3,894.3 706.7,893.9 707.6,891.2 C708.5,888.5 706.2,883.4 704.9,880.5 C703.6,877.6 702.2,875.2 699.6,873.9 C697.0,872.6 692.3,871.8 689.0,872.5 C685.7,873.2 682.5,877.2 679.6,877.9 C676.7,878.6 673.9,875.6 671.7,876.5 C669.5,877.4 667.9,883.0 666.3,883.2 C664.7,883.4 663.2,881.0 662.3,877.9 C661.4,874.8 660.5,868.1 661.0,864.6 C661.5,861.1 662.8,858.2 665.0,856.6 C667.2,855.0 669.6,854.3 674.3,855.2 C679.0,856.1 689.0,862.1 693.0,861.9 C697.0,861.7 697.9,856.6 698.3,853.9 C698.7,851.2 697.4,848.3 695.6,845.9 C693.8,843.5 688.0,841.5 687.6,839.3 C687.2,837.1 693.7,834.2 693.0,832.6 C692.3,831.0 684.9,831.2 683.6,829.9 C682.3,828.6 685.7,825.7 685.0,824.6 C684.3,823.5 682.1,824.2 679.6,823.3 C677.1,822.4 671.6,822.0 670.3,819.3 C669.0,816.6 670.4,810.8 671.7,807.3 C673.0,803.8 677.2,800.9 678.3,798.0 C679.4,795.1 678.3,791.3 678.3,790.0 "/>
<path class="w"  d="M678.3,790.0 C679.4,788.3 684.4,785.0 685.0,780.0 C685.6,775.0 681.5,766.7 682.0,760.0 C682.5,753.3 686.3,747.5 688.0,740.0 C689.7,732.5 690.3,723.3 692.0,715.0 C693.7,706.7 695.8,697.5 698.0,690.0 C700.2,682.5 702.7,676.7 705.0,670.0 C707.3,663.3 710.3,658.3 712.0,650.0 C713.7,641.7 714.3,630.0 715.0,620.0 C715.7,610.0 716.5,598.3 716.0,590.0 C715.5,581.7 712.2,577.5 712.0,570.0 C711.8,562.5 715.0,553.3 715.0,545.0 C715.0,536.7 713.5,526.5 712.0,520.0 C710.5,513.5 705.0,510.2 706.0,506.0 C707.0,501.8 717.0,498.5 718.0,495.0 C719.0,491.5 712.0,489.2 712.0,485.0 C712.0,480.8 717.5,474.2 718.0,470.0 C718.5,465.8 715.0,464.2 715.0,460.0 C715.0,455.8 719.3,450.0 718.0,445.0 C716.7,440.0 707.0,435.2 707.0,430.0 C707.0,424.8 716.4,419.7 718.0,414.0 C719.6,408.3 716.6,402.3 716.6,396.0 C716.6,389.7 718.3,382.7 718.0,376.0 C717.7,369.3 716.3,361.2 715.0,356.0 C713.7,350.8 711.7,348.0 710.0,345.0 C708.3,342.0 707.5,338.3 705.0,338.0 C702.5,337.7 698.3,343.3 695.0,343.0 C691.7,342.7 687.0,339.3 685.0,336.0 C683.0,332.7 684.2,326.0 682.8,323.0 C681.4,320.0 677.5,318.8 676.5,318.0 "/>
<path class="or" style="stroke-width:1.4" d="M661.5,318.0 C660.7,318.8 657.1,319.3 656.5,323.0 C655.9,326.7 657.4,335.3 658.0,340.0 C658.6,344.7 659.2,346.8 660.0,351.0 C660.8,355.2 661.8,360.5 663.0,365.0 C664.2,369.5 664.2,373.5 667.0,378.0 C669.8,382.5 676.2,388.2 680.0,392.0 C683.8,395.8 688.7,397.3 690.0,401.0 C691.3,404.7 688.8,407.5 688.0,414.0 C687.2,420.5 685.2,430.7 685.0,440.0 C684.8,449.3 687.3,460.0 687.0,470.0 C686.7,480.0 683.3,490.0 683.0,500.0 C682.7,510.0 683.3,520.0 685.0,530.0 C686.7,540.0 691.8,548.3 693.0,560.0 C694.2,571.7 693.8,590.0 692.0,600.0 C690.2,610.0 684.8,612.5 682.0,620.0 C679.2,627.5 676.7,633.3 675.0,645.0 C673.3,656.7 673.7,677.5 672.0,690.0 C670.3,702.5 667.0,710.8 665.0,720.0 C663.0,729.2 662.8,736.7 660.0,745.0 C657.2,753.3 652.0,762.5 648.0,770.0 C644.0,777.5 638.5,785.0 635.7,790.0 C632.9,795.0 631.5,796.7 631.0,800.0 C630.5,803.3 633.3,805.7 633.0,810.0 C632.7,814.3 629.7,823.3 629.0,826.0 "/>
<path class="w"  d="M629.0,826.0 C627.0,826.6 620.9,827.7 617.1,829.9 C613.3,832.1 610.4,836.0 606.4,839.3 C602.4,842.6 598.6,846.3 593.1,849.9 C587.6,853.5 579.1,858.1 573.1,860.6 C567.1,863.1 559.9,863.9 557.2,864.6 "/>
<path class="w"  d="M557.2,864.6 C556.8,864.4 558.5,863.5 554.5,863.2 C550.5,862.9 539.4,863.5 533.2,862.6 C527.0,861.7 522.7,860.0 517.2,857.9 C511.7,855.8 502.9,851.3 500.0,850.0 "/>
<path class="or" style="stroke-width:1.4" d="M500.0,850.0 C497.3,848.0 489.0,841.7 484.0,838.0 C479.0,834.3 474.6,830.5 470.0,827.8 C465.4,825.1 459.7,822.6 456.3,821.8 C452.9,821.0 452.5,824.0 449.6,823.2 C446.7,822.4 442.8,820.0 439.0,817.2 C435.2,814.4 431.9,809.6 427.0,806.5 C422.1,803.4 414.6,800.7 409.7,798.5 C404.8,796.3 401.7,795.4 397.7,793.2 C393.7,791.0 389.2,788.1 385.7,785.2 C382.1,782.3 374.8,780.3 376.4,775.9 C377.9,771.5 390.6,764.1 395.0,758.6 C399.4,753.1 400.3,746.8 403.0,742.6 C405.7,738.4 409.7,734.8 411.0,733.3 "/>
<path class="w"  d="M411.0,733.3 C410.1,732.6 407.9,731.5 405.7,729.3 C403.5,727.1 400.8,721.9 397.7,720.0 C394.6,718.1 389.9,716.9 387.0,718.0 C384.1,719.1 381.9,722.7 380.4,726.6 C378.8,730.5 379.5,737.1 377.7,741.3 C375.9,745.5 372.4,749.7 369.7,751.9 C367.0,754.1 365.0,755.3 361.7,754.6 C358.4,753.9 354.0,749.1 349.8,747.9 C345.6,746.7 340.9,746.2 336.5,747.3 C332.1,748.4 326.4,751.8 323.1,754.6 C319.8,757.4 317.6,759.7 316.5,763.9 C315.4,768.1 316.8,776.1 316.5,779.9 C316.2,783.7 315.6,786.5 314.5,786.5 C313.4,786.5 312.1,781.5 309.8,779.9 C307.5,778.2 304.5,776.4 300.5,776.6 C296.5,776.8 290.6,781.1 285.9,781.2 C281.2,781.3 277.6,777.4 272.5,777.2 C267.4,777.0 258.8,781.5 255.2,779.9 C251.6,778.3 253.4,770.9 251.2,767.9 C249.0,764.9 245.7,762.6 241.9,761.9 C238.1,761.2 231.5,764.7 228.6,763.9 C225.7,763.1 226.6,759.4 224.6,757.2 C222.6,755.0 219.7,751.2 216.6,750.6 C213.5,750.0 208.4,754.2 206.0,753.3 C203.6,752.4 203.8,747.1 202.0,745.3 C200.2,743.5 197.3,743.7 195.3,742.6 C193.3,741.5 191.5,739.3 190.0,738.6 C188.5,737.9 188.6,739.2 186.5,738.5 C184.4,737.8 179.0,736.5 177.2,734.5 C175.4,732.5 177.4,729.0 175.9,726.6 C174.4,724.2 171.0,721.8 167.9,720.0 C164.8,718.2 159.2,718.5 157.2,716.0 C155.2,713.5 158.3,707.2 155.9,705.2 C153.5,703.2 145.5,705.1 142.6,704.0 C139.7,702.9 138.5,700.6 138.6,698.6 C138.7,696.6 142.8,694.2 143.2,692.0 C143.6,689.8 144.0,686.9 141.2,685.3 C138.4,683.7 127.9,686.1 126.6,682.6 C125.3,679.1 132.5,668.4 133.2,664.0 C133.9,659.6 132.4,659.8 130.6,656.0 C128.8,652.2 123.0,644.4 122.6,641.3 C122.2,638.2 126.4,639.5 128.0,637.3 C129.6,635.1 131.8,630.7 132.0,628.0 C132.2,625.3 131.1,623.1 129.5,621.2 C127.9,619.3 123.9,618.4 122.2,616.4 C120.5,614.4 119.6,611.2 119.2,609.0 C118.8,606.8 117.9,604.2 119.8,603.0 C121.7,601.8 127.3,602.9 130.7,601.9 C134.1,600.9 138.3,599.4 140.4,597.0 C142.5,594.6 143.4,590.3 143.4,587.3 C143.4,584.3 142.2,581.1 140.4,578.9 C138.6,576.7 133.7,575.6 132.5,574.0 C131.3,572.4 131.2,570.5 133.1,569.2 C135.0,567.9 141.4,567.6 144.0,566.2 C146.6,564.8 148.0,562.8 148.9,560.7 C149.8,558.6 150.9,555.9 149.5,553.5 C148.1,551.1 140.5,549.0 140.4,546.2 C140.3,543.4 147.5,539.1 148.9,536.5 C150.3,533.9 150.3,532.6 148.9,530.5 C147.5,528.4 141.2,525.5 140.4,523.8 C139.6,522.0 141.2,520.8 144.0,520.0 C146.8,519.2 153.1,520.1 157.3,519.0 C161.6,517.9 164.4,514.8 169.5,513.5 C174.6,512.2 184.6,511.4 187.6,511.0 "/>
<path class="or" style="stroke-width:1.4" d="M611.7,1010.0 C612.7,1011.4 614.5,1013.6 617.6,1018.4 C620.7,1023.1 626.9,1032.7 630.2,1038.5 C633.6,1044.3 635.8,1047.2 637.7,1053.5 C639.6,1059.8 639.7,1067.7 641.4,1076.0 C643.1,1084.3 644.2,1096.3 647.7,1103.6 C651.2,1110.9 659.4,1116.0 662.7,1120.0 C666.0,1124.0 664.8,1123.5 667.7,1127.4 C670.6,1131.4 674.9,1138.1 680.3,1143.7 C685.7,1149.3 693.2,1158.7 700.3,1161.2 C707.4,1163.7 717.0,1158.7 722.9,1158.7 C728.8,1158.7 730.8,1160.8 735.4,1161.2 C740.0,1161.6 746.4,1161.0 750.4,1161.2 C754.4,1161.4 757.5,1161.9 759.2,1162.5 C760.9,1163.1 760.2,1164.6 760.4,1165.0 "/>
<path class="w"  d="M760.4,1165.0 C761.7,1163.5 765.1,1156.4 768.0,1156.2 C770.9,1156.0 774.2,1161.0 778.0,1163.7 C781.8,1166.4 785.1,1170.8 790.5,1172.5 C795.9,1174.2 804.8,1174.0 810.6,1173.8 C816.5,1173.6 821.0,1172.8 825.6,1171.3 C830.2,1169.8 833.9,1165.0 838.1,1165.0 C842.3,1165.0 846.1,1169.2 850.7,1171.3 C855.3,1173.4 860.3,1175.4 865.7,1177.5 C871.1,1179.6 878.2,1181.5 883.2,1183.8 C888.2,1186.1 891.2,1190.3 895.8,1191.3 C900.4,1192.3 906.6,1191.2 910.8,1190.0 C915.0,1188.8 917.5,1184.0 920.8,1183.8 C924.1,1183.6 927.0,1187.5 930.8,1188.8 C934.6,1190.0 940.0,1189.6 943.4,1191.3 C946.8,1193.0 948.4,1195.0 950.9,1198.8 C953.4,1202.6 956.7,1208.9 958.4,1213.9 C960.1,1218.9 960.6,1224.2 960.9,1228.9 C961.2,1233.6 961.0,1236.5 960.0,1242.0 C959.0,1247.5 957.0,1255.7 955.0,1262.0 C953.0,1268.3 950.5,1274.5 948.0,1280.0 C945.5,1285.5 942.5,1290.3 940.0,1295.0 C937.5,1299.7 934.7,1303.5 933.0,1308.0 C931.3,1312.5 929.7,1317.5 930.0,1322.0 C930.3,1326.5 932.5,1331.2 935.0,1335.0 C937.5,1338.8 941.3,1342.8 945.0,1345.0 C948.7,1347.2 958.7,1346.8 957.0,1348.0 C955.3,1349.2 942.5,1349.5 935.0,1352.0 C927.5,1354.5 915.8,1359.7 912.0,1363.0 C908.2,1366.3 910.7,1369.2 912.0,1372.0 C913.3,1374.8 916.2,1377.7 920.0,1380.0 C923.8,1382.3 931.7,1383.0 935.0,1386.0 C938.3,1389.0 938.5,1392.3 940.0,1398.0 C941.5,1403.7 942.7,1411.3 944.0,1420.0 C945.3,1428.7 946.2,1440.8 948.0,1450.0 C949.8,1459.2 953.8,1468.3 955.0,1475.0 C956.2,1481.7 956.7,1485.5 955.0,1490.0 C953.3,1494.5 950.0,1497.8 945.0,1502.0 C940.0,1506.2 931.7,1511.2 925.0,1515.0 C918.3,1518.8 910.0,1522.5 905.0,1525.0 C900.0,1527.5 897.0,1525.8 895.0,1530.0 C893.0,1534.2 893.0,1543.3 893.0,1550.0 C893.0,1556.7 894.2,1564.2 895.0,1570.0 C895.8,1575.8 898.0,1580.0 898.0,1585.0 C898.0,1590.0 896.0,1595.0 895.0,1600.0 C894.0,1605.0 892.0,1610.0 892.0,1615.0 C892.0,1620.0 893.2,1625.3 895.0,1630.0 C896.8,1634.7 899.7,1640.3 903.0,1643.0 C906.3,1645.7 910.5,1646.0 915.0,1646.0 C919.5,1646.0 925.5,1645.3 930.0,1643.0 C934.5,1640.7 940.3,1637.2 942.0,1632.0 C943.7,1626.8 941.5,1618.2 940.0,1612.0 C938.5,1605.8 936.3,1599.8 933.0,1595.0 C929.7,1590.2 923.5,1588.0 920.0,1583.0 C916.5,1578.0 913.7,1570.5 912.0,1565.0 C910.3,1559.5 908.7,1555.0 910.0,1550.0 C911.3,1545.0 914.2,1540.0 920.0,1535.0 C925.8,1530.0 937.5,1524.5 945.0,1520.0 C952.5,1515.5 961.2,1513.0 965.0,1508.0 C968.8,1503.0 967.2,1496.3 968.0,1490.0 C968.8,1483.7 970.2,1476.7 970.0,1470.0 C969.8,1463.3 968.2,1457.5 967.0,1450.0 C965.8,1442.5 962.5,1432.5 963.0,1425.0 C963.5,1417.5 969.7,1410.5 970.0,1405.0 C970.3,1399.5 963.3,1396.2 965.0,1392.0 C966.7,1387.8 976.2,1385.0 980.0,1380.0 C983.8,1375.0 987.2,1367.8 988.0,1362.0 C988.8,1356.2 987.2,1349.5 985.0,1345.0 C982.8,1340.5 977.2,1338.3 975.0,1335.0 C972.8,1331.7 971.7,1328.3 972.0,1325.0 C972.3,1321.7 976.8,1319.2 977.0,1315.0 C977.2,1310.8 973.0,1305.0 973.0,1300.0 C973.0,1295.0 976.7,1290.8 977.0,1285.0 C977.3,1279.2 973.7,1270.8 975.0,1265.0 C976.3,1259.2 983.6,1253.8 985.0,1250.0 C986.4,1246.2 985.0,1245.5 983.5,1242.0 C982.0,1238.5 976.8,1232.8 975.9,1228.9 C975.0,1225.1 978.4,1223.1 978.4,1218.9 C978.4,1214.7 977.1,1208.8 975.9,1203.8 C974.6,1198.8 970.7,1193.0 970.9,1188.8 C971.1,1184.6 977.2,1183.0 977.2,1178.8 C977.2,1174.6 973.6,1166.2 970.9,1163.7 C968.2,1161.2 960.9,1165.8 960.9,1163.7 C960.9,1161.6 968.8,1155.8 970.9,1151.2 C973.0,1146.6 974.6,1140.2 973.4,1136.2 C972.1,1132.2 967.1,1128.2 963.4,1127.4 C959.6,1126.6 954.6,1129.3 950.9,1131.2 C947.1,1133.1 945.1,1137.0 940.9,1138.7 C936.7,1140.4 931.6,1141.2 925.8,1141.2 C919.9,1141.2 911.6,1138.3 905.8,1138.7 C899.9,1139.1 896.1,1141.6 890.7,1143.7 C885.3,1145.8 878.2,1149.1 873.2,1151.2 C868.2,1153.3 863.6,1156.6 860.7,1156.2 C857.8,1155.8 859.1,1151.8 855.7,1148.7 C852.4,1145.6 845.6,1139.9 840.6,1137.4 C835.6,1134.9 830.6,1133.9 825.6,1133.7 C820.6,1133.5 815.6,1136.8 810.6,1136.2 C805.6,1135.6 801.4,1130.5 795.5,1129.9 C789.6,1129.3 781.4,1133.2 775.5,1132.4 C769.6,1131.6 765.4,1125.5 760.4,1124.9 C755.4,1124.3 750.0,1127.2 745.4,1128.7 C740.8,1130.2 736.2,1134.3 732.9,1133.7 C729.6,1133.1 728.3,1126.2 725.4,1124.9 C722.5,1123.7 719.6,1127.7 715.4,1126.2 C711.2,1124.8 705.3,1119.6 700.3,1116.2 C695.3,1112.8 689.5,1109.5 685.3,1106.1 C681.1,1102.7 677.8,1099.8 675.3,1096.0 C672.8,1092.2 672.4,1087.3 670.3,1083.6 C668.2,1079.8 664.4,1077.7 662.7,1073.5 C661.0,1069.3 658.9,1063.1 660.2,1058.5 C661.5,1053.9 667.4,1051.4 670.3,1046.0 C673.2,1040.6 676.1,1032.2 677.8,1025.9 C679.5,1019.6 679.9,1011.3 680.3,1008.4 "/>
<path class="w" d="M104.7,465 L104.7,511 M133,434.8 L133,405 M158,434.8 L158,405"/>
<rect x="138" y="431.8" width="15.7" height="6.7" rx="1.5" fill="#22e022"/>
<path class="g" d="M41.8,467.5 L72.6,465.7 L52.0,476.0 L44.8,475.4 Z"/>
<ellipse class="g" cx="62.5" cy="502" rx="7" ry="7" transform="rotate(0 62.5 502)"/>
<ellipse class="g" cx="393" cy="742" rx="4" ry="6" transform="rotate(10 393 742)"/>
<ellipse class="g" cx="381" cy="766.5" rx="13" ry="6.5" transform="rotate(-18 381 766.5)"/>
<ellipse class="g" cx="403" cy="796" rx="6" ry="10" transform="rotate(10 403 796)"/>
<ellipse class="g" cx="309.8" cy="803.2" rx="7" ry="4" transform="rotate(-8 309.8 803.2)"/>
<ellipse class="g" cx="391" cy="819.8" rx="4" ry="4" transform="rotate(0 391 819.8)"/>
<path class="g" d="M428.3,838.5 C430.1,836.9 438.1,832.9 441.6,835.1 C445.2,837.3 448.5,848.5 449.6,851.8 C450.7,855.1 451.4,856.3 448.3,855.1 C445.2,853.9 434.3,847.3 431.0,844.5 C427.7,841.7 426.5,840.1 428.3,838.5 "/>
<path class="g" d="M456.0,821.3 C460.0,822.4 480.2,832.7 484.0,836.6 C487.8,840.5 481.5,843.7 478.6,844.6 C475.7,845.5 469.7,844.3 466.6,841.9 C463.5,839.5 461.8,833.4 460.0,830.0 C458.2,826.6 452.0,820.2 456.0,821.3 "/>
<path class="g" d="M500.0,850.0 C502.2,849.5 513.9,855.8 515.9,857.9 C517.9,860.0 514.1,862.1 511.9,862.6 C509.7,863.1 504.6,862.7 502.6,860.6 C500.6,858.5 497.8,850.5 500.0,850.0 "/>
<path class="g" d="M557.2,864.6 C559.4,862.8 567.1,863.1 573.1,860.6 C579.1,858.1 587.6,853.5 593.1,849.9 C598.6,846.3 602.4,842.6 606.4,839.3 C610.4,836.0 612.7,832.1 617.1,829.9 C621.5,827.7 628.4,826.4 633.0,825.9 C637.6,825.4 643.9,824.6 645.0,826.6 C646.1,828.6 641.0,834.7 639.7,837.9 C638.4,841.1 640.3,844.6 637.0,845.9 C633.7,847.2 624.1,844.1 619.7,845.9 C615.3,847.7 612.8,853.0 610.4,856.6 C608.0,860.2 607.3,864.3 605.1,867.2 C602.9,870.1 598.2,871.7 597.1,873.9 C596.0,876.1 599.1,879.0 598.4,880.5 C597.7,882.0 596.2,884.1 593.1,883.2 C590.0,882.3 584.2,877.4 579.8,875.2 C575.4,873.0 569.8,870.6 566.5,869.9 C563.2,869.2 561.3,872.1 559.8,871.2 C558.2,870.3 555.0,866.4 557.2,864.6 "/>
<path class="g" d="M635.7,790.0 C638.6,788.7 645.3,787.1 647.7,790.0 C650.1,792.9 652.8,804.2 650.3,807.3 C647.8,810.4 636.3,810.1 633.0,808.6 C629.7,807.1 629.9,801.1 630.4,798.0 C630.9,794.9 632.8,791.3 635.7,790.0 "/>
<path class="g" d="M481.3,869.2 L512.6,885.9 L513.2,891.2 L480.0,872.5 Z"/>
<path class="g" d="M506.6,883.2 L509.2,873.9 L512.6,875.2 L513.0,886.0 Z"/>
<ellipse class="g" cx="527.9" cy="895.2" rx="5.5" ry="9" transform="rotate(15 527.9 895.2)"/>
<path class="g" d="M526.5,916.5 C525.6,914.2 528.7,914.2 530.5,915.8 C532.3,917.3 532.3,923.5 537.2,925.8 C542.1,928.1 555.1,928.0 559.8,929.8 C564.4,931.6 564.0,933.5 565.1,936.4 C566.2,939.3 564.5,942.9 566.5,947.1 C568.5,951.3 576.0,958.4 577.1,961.7 C578.2,965.0 575.1,967.1 573.1,967.1 C571.1,967.1 568.2,965.5 565.1,961.7 C562.0,957.9 559.4,949.7 554.5,944.4 C549.6,939.1 540.6,934.4 535.9,929.8 C531.2,925.1 527.4,918.8 526.5,916.5 "/>
<path class="g" d="M577.1,977.7 C576.6,975.3 579.6,973.6 583.8,975.1 C588.0,976.6 599.1,983.9 602.4,987.0 C605.7,990.1 604.7,991.9 603.8,993.7 C602.9,995.5 600.0,998.4 597.1,997.7 C594.2,997.0 589.8,993.0 586.5,989.7 C583.2,986.4 577.6,980.1 577.1,977.7 "/>
<ellipse class="g" cx="569.8" cy="899.4" rx="6" ry="7" transform="rotate(0 569.8 899.4)"/>
<ellipse class="g" cx="600.4" cy="957.8" rx="7.5" ry="4.5" transform="rotate(-20 600.4 957.8)"/>
<ellipse class="g" cx="644.8" cy="913.8" rx="6.5" ry="6.5" transform="rotate(0 644.8 913.8)"/>
<path class="g" d="M626.4,1010.0 C623.7,1007.0 630.2,1002.2 631.7,997.7 C633.2,993.2 633.0,985.8 635.7,983.0 C638.4,980.2 642.8,981.2 647.7,981.0 C652.6,980.8 660.8,978.9 665.0,981.7 C669.2,984.5 672.5,992.7 673.0,997.7 C673.5,1002.8 672.2,1009.0 668.0,1012.0 C663.8,1015.0 654.9,1016.3 648.0,1016.0 C641.1,1015.7 629.1,1013.0 626.4,1010.0 "/>
<ellipse class="g" cx="660" cy="331" rx="6" ry="14" transform="rotate(-5 660 331)"/>
<ellipse class="g" cx="665" cy="360" rx="5" ry="5" transform="rotate(0 665 360)"/>
<ellipse class="g" cx="677" cy="383" rx="14" ry="9" transform="rotate(10 677 383)"/>
<ellipse class="g" cx="682" cy="432" rx="5" ry="9" transform="rotate(0 682 432)"/>
<ellipse class="g" cx="688" cy="460" rx="6" ry="8" transform="rotate(0 688 460)"/>
<path class="g" d="M684.0,483.0 C685.8,484.7 686.3,492.2 687.0,500.0 C687.7,507.8 689.2,524.5 688.0,530.0 C686.8,535.5 682.7,534.7 680.0,533.0 C677.3,531.3 674.0,524.7 672.0,520.0 C670.0,515.3 667.3,510.0 668.0,505.0 C668.7,500.0 673.3,493.7 676.0,490.0 C678.7,486.3 682.2,481.3 684.0,483.0 "/>
<ellipse class="g" cx="692" cy="568" rx="3" ry="5" transform="rotate(0 692 568)"/>
<path class="g" d="M690.0,609.0 C691.0,611.3 689.0,624.2 688.0,630.0 C687.0,635.8 687.0,641.3 684.0,644.0 C681.0,646.7 673.2,647.3 670.0,646.0 C666.8,644.7 665.0,640.0 665.0,636.0 C665.0,632.0 667.2,625.3 670.0,622.0 C672.8,618.7 678.7,618.2 682.0,616.0 C685.3,613.8 689.0,606.7 690.0,609.0 "/>
<ellipse class="g" cx="674" cy="678" rx="4.5" ry="19" transform="rotate(3 674 678)"/>
<ellipse class="g" cx="666" cy="732" rx="6.5" ry="19" transform="rotate(12 666 732)"/>
<path class="g" d="M661.0,760.0 C661.0,762.2 653.8,770.0 652.0,775.0 C650.2,780.0 651.2,785.0 650.0,790.0 C648.8,795.0 645.0,800.8 645.0,805.0 C645.0,809.2 650.8,812.8 650.0,815.0 C649.2,817.2 643.3,818.5 640.0,818.0 C636.7,817.5 631.0,815.8 630.0,812.0 C629.0,808.2 632.0,800.7 634.0,795.0 C636.0,789.3 639.0,783.5 642.0,778.0 C645.0,772.5 648.8,765.0 652.0,762.0 C655.2,759.0 661.0,757.8 661.0,760.0 "/>
<ellipse class="g" cx="630.7" cy="1045.5" rx="5.5" ry="5.5" transform="rotate(0 630.7 1045.5)"/>
<path class="g" d="M640.2,1079.8 C641.5,1078.1 644.4,1075.8 647.7,1078.5 C651.0,1081.2 656.7,1090.6 660.2,1096.0 C663.8,1101.4 668.6,1107.0 669.0,1111.0 C669.4,1115.0 666.2,1121.1 662.7,1119.9 C659.2,1118.7 651.5,1108.8 647.7,1103.6 C644.0,1098.4 641.5,1092.6 640.2,1088.6 C639.0,1084.6 639.0,1081.5 640.2,1079.8 "/>
<path class="g" d="M667.7,1128.7 C667.3,1125.6 673.2,1123.7 677.8,1124.9 C682.4,1126.2 688.2,1133.1 695.3,1136.2 C702.4,1139.3 715.2,1140.8 720.4,1143.7 C725.6,1146.6 726.6,1150.2 726.6,1153.7 C726.6,1157.2 724.8,1163.8 720.4,1165.0 C716.0,1166.2 707.0,1164.8 700.3,1161.2 C693.6,1157.7 685.7,1149.1 680.3,1143.7 C674.9,1138.3 668.1,1131.8 667.7,1128.7 "/>
<path class="g" d="M736.6,1157.5 C738.3,1154.8 747.5,1153.9 749.2,1156.2 C750.9,1158.5 748.4,1168.6 746.7,1171.3 C745.0,1174.0 740.9,1174.8 739.2,1172.5 C737.5,1170.2 734.9,1160.2 736.6,1157.5 "/>
<!-- 13_orange.svg -->
<defs><linearGradient id="ogA" gradientUnits="userSpaceOnUse" x1="60" y1="1000" x2="520" y2="1300"><stop offset="0" stop-color="#ffc60c"/><stop offset="1" stop-color="#ffbf0a"/></linearGradient><linearGradient id="ogB" gradientUnits="userSpaceOnUse" x1="60" y1="1540" x2="380" y2="1540"><stop offset="0" stop-color="#ffc80c"/><stop offset="0.45" stop-color="#ffb200"/><stop offset="1" stop-color="#ffc208"/></linearGradient></defs>
<path fill="url(#ogA)" fill-rule="evenodd" stroke="#000" stroke-width="1.8" stroke-linejoin="miter" d="M114.7,992.6 L205.2,992.6 L209.3,986.4 L259.5,986.4 L285.2,940.4 L443.2,1037.2 L511.4,1153.7 L512.5,1152.1 L517.2,1155.0 L521.4,1158.6 L525.1,1162.7 L528.2,1167.2 L530.6,1172.2 L532.3,1177.4 L533.3,1182.9 L533.5,1188.4 L532.3,1195.0 L521.1,1220.5 L512.8,1233.0 L393.5,1442.2 L393.5,1459.3 L384.5,1459.3 L384.5,1520.6 L315.0,1592.5 L315.0,1595.0 L61.0,1595.0 L61.0,1500.6 L74.8,1500.6 L74.8,1489.7 L56.7,1490.0 L47.0,1492.0 L40.0,1493.0 L38.0,1488.0 L45.0,1484.0 L45.0,1439.6 L58.1,1438.0 L57.2,1177.0 L26.5,1177.0 L26.5,1061.0 L30.4,1051.1 L29.7,1042.8 L33.9,1039.3 L61.1,1083.8 L85.4,1069.2 L85.4,1053.9 L134.9,1024.7 Z M110.5,1087.3 L165.5,1054.6 L274.8,1119.3 L320.0,1145.8 L333.2,1155.8 L351.3,1226.1 L351.3,1304.0 L343.6,1392.3 L336.2,1429.1 L346.9,1429.1 L346.9,1459.3 L355.0,1459.3 L355.0,1496.9 L301.9,1548.9 L249.2,1549.3 L249.2,1510.8 L179.5,1510.8 L170.0,1500.6 L85.7,1500.6 L85.7,1489.7 L103.2,1489.7 L103.2,1170.0 L110.7,1165.0 Z M290.8,987.1 L315.1,974.6 L427.8,1038.6 L472.4,1122.1 L434.8,1143.0 L426.0,1118.0 L408.4,1102.7 L401.4,1092.9 L395.8,1079.7 L376.3,1086.6 L324.8,1058.1 L315.0,1052.5 L276.2,1030.2 L295.0,997.5 Z M432.0,1143.9 L436.2,1155.1 L486.3,1234.4 L427.8,1336.1 L408.4,1327.7 L425.1,1299.2 L418.0,1290.0 L416.0,1280.4 L420.2,1267.1 L439.0,1235.8 L437.0,1228.0 L457.0,1228.0 L457.1,1199.6 Z"/>
<path fill="url(#ogB)" d="M61,1533 L98.8,1533 L98.8,1501.5 L169,1501.5 L179.5,1511.7 L249.2,1511.7 L249.2,1550 L301.9,1550 L355,1497.5 L355,1460 L383.6,1460 L383.6,1520.3 L314.6,1592 L314.6,1594.1 L61.9,1594.1 Z"/>
<defs><linearGradient id="ogL" gradientUnits="userSpaceOnUse" x1="285" y1="960" x2="500" y2="1300"><stop offset="0" stop-color="#ffd208"/><stop offset="0.5" stop-color="#ffe000"/><stop offset="1" stop-color="#ffca08"/></linearGradient></defs>
<path fill="url(#ogL)" d="M285.2,941.6 L442.5,1037.9 L510.5,1154.0 L512.5,1152.1 L517.2,1155.0 L521.4,1158.6 L525.1,1162.7 L528.2,1167.2 L530.6,1172.2 L532.3,1177.4 L533.3,1182.9 L533.5,1188.4 L531.0,1195.0 L520.0,1220.5 L511.7,1233.6 L450.0,1343.0 L436.0,1336.0 L485.2,1234.4 L437.0,1155.6 L434.0,1144.0 L471.4,1122.5 L427.2,1039.4 L315.1,975.8 L290.8,988.1 L265.5,1017.5 L260.0,1016.0 L260.0,987.5 Z"/>
<path fill="#ffdd00" d="M58.1,1178 L102.3,1178 L102.3,1489 L85,1489 L85,1500 L98,1500 L98,1532 L61.9,1532 L61.9,1501.5 L75.7,1501.5 L75.7,1489 L58,1489 L46,1484 L46,1440.5 L59,1439 Z"/>
<path fill="#ffdd00" d="M143.4,993.5 L159.8,993.5 L159.8,1017 L157,1028 L109,1063 L102.5,1054 L143.4,1030 Z"/>
<path fill="none" stroke="#000" stroke-width="1.8" d="M114.7,992.6 L205.2,992.6 L209.3,986.4 L259.5,986.4 L285.2,940.4 L443.2,1037.2 L511.4,1153.7 L512.5,1152.1 L517.2,1155.0 L521.4,1158.6 L525.1,1162.7 L528.2,1167.2 L530.6,1172.2 L532.3,1177.4 L533.3,1182.9 L533.5,1188.4 L532.3,1195.0 L521.1,1220.5 L512.8,1233.0 L393.5,1442.2 L393.5,1459.3 L384.5,1459.3 L384.5,1520.6 L315.0,1592.5 L315.0,1595.0 L61.0,1595.0 L61.0,1500.6 L74.8,1500.6 L74.8,1489.7 L56.7,1490.0 L47.0,1492.0 L40.0,1493.0 L38.0,1488.0 L45.0,1484.0 L45.0,1439.6 L58.1,1438.0 L57.2,1177.0 L26.5,1177.0 L26.5,1061.0 L30.4,1051.1 L29.7,1042.8 L33.9,1039.3 L61.1,1083.8 L85.4,1069.2 L85.4,1053.9 L134.9,1024.7 Z M110.5,1087.3 L165.5,1054.6 L274.8,1119.3 L320.0,1145.8 L333.2,1155.8 L351.3,1226.1 L351.3,1304.0 L343.6,1392.3 L336.2,1429.1 L346.9,1429.1 L346.9,1459.3 L355.0,1459.3 L355.0,1496.9 L301.9,1548.9 L249.2,1549.3 L249.2,1510.8 L179.5,1510.8 L170.0,1500.6 L85.7,1500.6 L85.7,1489.7 L103.2,1489.7 L103.2,1170.0 L110.7,1165.0 Z M290.8,987.1 L315.1,974.6 L427.8,1038.6 L472.4,1122.1 L434.8,1143.0 L426.0,1118.0 L408.4,1102.7 L401.4,1092.9 L395.8,1079.7 L376.3,1086.6 L324.8,1058.1 L315.0,1052.5 L276.2,1030.2 L295.0,997.5 Z M432.0,1143.9 L436.2,1155.1 L486.3,1234.4 L427.8,1336.1 L408.4,1327.7 L425.1,1299.2 L418.0,1290.0 L416.0,1280.4 L420.2,1267.1 L439.0,1235.8 L437.0,1228.0 L457.0,1228.0 L457.1,1199.6 Z"/>
<circle cx="212" cy="1226" r="92" fill="#ffb000" stroke="#000" stroke-width="1.8"/>
<path fill="#ffb000" d="M206.4,1316 L206.4,1326.5 L192.6,1326.5 L192.6,1337 L202.8,1337 L202.8,1374.5 L193.3,1374.5 L193.3,1505 L206.3,1505 L206.3,1512 L217.2,1512 L217.2,1505 L231,1505 L231,1374.5 L220.9,1374.5 L220.9,1337 L231.6,1337 L231.6,1326.5 L217.4,1326.5 L217.4,1316 Z"/>
<path fill="none" stroke="#000" stroke-width="1.8" d="M206.4,1317 L206.4,1326.5 L192.6,1326.5 L192.6,1337 L202.8,1337 L202.8,1374.5 L193.3,1374.5 L193.3,1505 L206.3,1505 L206.3,1511 M217.2,1511 L217.2,1505 L231,1505 L231,1374.5 L220.9,1374.5 L220.9,1337 L231.6,1337 L231.6,1326.5 L217.4,1326.5 L217.4,1317"/>
<rect x="206.5" y="1316" width="4" height="9" fill="#e01010"/><rect x="212.5" y="1316" width="4.5" height="9" fill="#e01010"/>
<path class="w" style="stroke-width:1.8" d="M142.5,993.3 L142.5,1029.5 L102.1,1053.2 M159.9,1016.3 L157.8,1027.5 L109.1,1062.3 M159.9,1017.0 L180.0,1017.0 M217.7,1017.0 L265.0,1017.0 M287.3,982.9 L255.3,1038.6 L265.0,1045.5 M251.1,1073.4 L238.6,1067.1 L221.9,1094.3 M36.7,1129.1 L36.7,1154.8 L57.6,1154.8 M71.5,1154.8 L110.5,1154.8 M57.2,1230.5 L70.6,1230.5 L70.6,1253.3 M102.9,1230.5 L89.5,1230.5 L89.5,1253.3 M334.6,1156.5 L358.9,1156.5 L358.9,1173.2 M409.0,1172.5 L409.0,1156.5 L435.5,1156.5 M98.8,1500.6 L98.8,1575.4 M129.3,1549.3 L173.6,1549.3 L173.6,1516.6 M193.3,1473.0 L205.6,1473.0 M218.0,1473.0 L231.0,1473.0 M206.3,1474.4 L206.3,1489.7 M217.2,1474.4 L217.2,1489.7 M452.9,1134.7 L472.0,1123.0 M466.8,1147.9 L483.5,1137.5"/>
<path class="or" style="stroke-width:1.4" d="M180,1017 L217.7,1017 M160.6,993.3 L160.6,1016.3 M57.6,1154.8 L71.5,1154.8 M61,1532.6 L98.8,1532.6 M193.3,1444.7 L231,1444.7"/>
<path class="w" style="stroke-width:1.8" d="M469.6,1155 A39.5,39.5 0 0 1 512.5,1152"/>
<rect x="346.9" y="1444.6" width="8.1" height="14.7" fill="#fff" stroke="#000" stroke-width="1.6"/><rect x="385.4" y="1442.2" width="8.1" height="17.1" fill="#fff" stroke="#000" stroke-width="1.6"/>
<path fill="#ffdd00" stroke="#000" stroke-width="1.4" d="M41.4,1393.8 L56,1393.8 C58,1401 63,1406 71.2,1408.3 L72,1426.5 C56,1422 44,1410 41.4,1393.8 Z"/>
<polygon class="g" points="239.3,1097.8 275.5,1118.6 272.7,1124.9 236.5,1103.3"/>
<polygon class="g" points="262.2,1084.5 274.8,1091.5 265,1109.6 252.5,1102.6"/>
<circle cx="267.8" cy="1088" r="5.2" class="g" style="stroke-width:1.8"/>
<rect x="163.0" y="1057.4" width="12" height="7" class="g" transform="rotate(30 169 1060.9)"/>
<rect x="126.7" y="1002.8" width="4.5" height="9" class="g" transform="rotate(-30 128.9 1007.3)"/>
<circle cx="82" cy="1058.1" r="5.2" class="g" style="stroke-width:1.8"/>
<circle cx="52.3" cy="1074.8" r="5.2" class="g" style="stroke-width:1.8"/>
<circle cx="295" cy="997.5" r="5.2" class="g" style="stroke-width:1.8"/>
<circle cx="276.2" cy="1030.2" r="5.2" class="g" style="stroke-width:1.8"/>
<circle cx="315.1" cy="1052.5" r="5.2" class="g" style="stroke-width:1.8"/>
<circle cx="308.9" cy="1146.5" r="5.2" class="g" style="stroke-width:1.8"/>
<circle cx="396.1" cy="1083.9" r="5.2" class="g" style="stroke-width:1.8"/>
<circle cx="408.4" cy="1102.7" r="5.2" class="g" style="stroke-width:1.8"/>
<circle cx="328.3" cy="1134" r="5.2" class="g" style="stroke-width:1.8"/>
<circle cx="340.8" cy="1152.1" r="5.2" class="g" style="stroke-width:1.8"/>
<circle cx="105.2" cy="1170" r="5.2" class="g" style="stroke-width:1.8"/>
<circle cx="56.9" cy="1330.7" r="5.2" class="g" style="stroke-width:1.8"/>
<circle cx="56.9" cy="1384" r="5.2" class="g" style="stroke-width:1.8"/>
<circle cx="56.7" cy="1436.7" r="5.2" class="g" style="stroke-width:1.8"/>
<circle cx="56.7" cy="1490" r="5.2" class="g" style="stroke-width:1.8"/>
<circle cx="344.4" cy="1392.6" r="5.2" class="g" style="stroke-width:1.8"/>
<circle cx="290.8" cy="987.1" r="4" class="g" style="stroke-width:1.8"/>
<rect x="285.5" y="1040.5" width="13" height="11" class="g" transform="rotate(30 292 1046)"/>
<circle cx="290.1" cy="1050.4" r="5.2" class="g" style="stroke-width:1.8"/>
<circle cx="306.8" cy="1116.6" r="4" fill="#d0d0d0" stroke="#000" stroke-width="1.8"/>
<circle cx="384" cy="1100.6" r="4" fill="#d0d0d0" stroke="#000" stroke-width="1.8"/>
<circle cx="307" cy="1116.9" r="4" fill="#d0d0d0" stroke="#000" stroke-width="1.8"/>
<circle cx="425.3" cy="1174.8" r="4" fill="#d0d0d0" stroke="#000" stroke-width="1.8"/>
<circle cx="502.3" cy="1174.8" r="4" fill="#d0d0d0" stroke="#000" stroke-width="1.8"/>
<circle cx="412.8" cy="1296.4" r="4" fill="#d0d0d0" stroke="#000" stroke-width="1.8"/>
<rect x="313.3" y="1056.4" width="11" height="11" class="g" transform="rotate(30 318.8 1061.9)"/>
<rect x="362.0" y="1084.1" width="12" height="12" class="g" transform="rotate(30 368 1090.1)"/>
<polygon class="g" points="433.8,1136.5 426.8,1146.3 415.3,1150.0 403.8,1146.3 396.8,1136.5 396.8,1124.5 403.8,1114.7 415.3,1111.0 426.8,1114.7 433.8,1124.5"/>
<rect x="315.5" y="1137.0" width="20" height="20" class="g" transform="rotate(30 325.5 1147)"/>
<rect x="435.2" y="1203.5" width="20" height="20" class="g" transform="rotate(0 445.2 1213.5)"/>
<circle cx="434.1" cy="1201.7" r="5.2" class="g" style="stroke-width:1.8"/>
<circle cx="457.1" cy="1201.7" r="5.2" class="g" style="stroke-width:1.8"/>
<circle cx="434.1" cy="1224.7" r="5.2" class="g" style="stroke-width:1.8"/>
<circle cx="457.1" cy="1225.4" r="5.2" class="g" style="stroke-width:1.8"/>
<rect x="523.0" y="1193.8" width="20" height="20" class="g" transform="rotate(-8 533 1203.8)"/>
<circle cx="520.4" cy="1194" r="5.2" class="g" style="stroke-width:1.8"/>
<circle cx="542.7" cy="1191.3" r="5.2" class="g" style="stroke-width:1.8"/>
<circle cx="546.2" cy="1214.9" r="5.2" class="g" style="stroke-width:1.8"/>
<circle cx="523.9" cy="1216.3" r="5.2" class="g" style="stroke-width:1.8"/>
<rect x="397.0" y="1334.4" width="20" height="20" class="g" transform="rotate(30 407 1344.4)"/>
<circle cx="402.8" cy="1329.1" r="5.2" class="g" style="stroke-width:1.8"/>
<circle cx="422.3" cy="1340.9" r="5.2" class="g" style="stroke-width:1.8"/>
<circle cx="391" cy="1349.3" r="5.2" class="g" style="stroke-width:1.8"/>
<circle cx="415.3" cy="1351.4" r="5.2" class="g" style="stroke-width:1.8"/>
<circle cx="401" cy="1361" r="5.2" class="g" style="stroke-width:1.8"/>
<rect x="333.2" y="1201.7" width="18.1" height="23" class="g"/>
<circle cx="354.7" cy="1202.4" r="5.2" class="g" style="stroke-width:1.8"/>
<circle cx="354.7" cy="1224.7" r="5.2" class="g" style="stroke-width:1.8"/>
<rect x="462.9" y="1148.7" width="5" height="10" class="g" transform="rotate(-30 465.4 1153.7)"/>
<rect x="474.8" y="1167.5" width="5" height="10" class="g" transform="rotate(-30 477.3 1172.5)"/>
<rect x="485.9" y="1188.4" width="5" height="10" class="g" transform="rotate(-30 488.4 1193.4)"/>
<rect x="498.4" y="1208.5" width="5" height="10" class="g" transform="rotate(-30 500.9 1213.5)"/>
<rect x="495.0" y="1249.6" width="5" height="10" class="g" transform="rotate(30 497.5 1254.6)"/>
<rect x="482.4" y="1270.5" width="5" height="10" class="g" transform="rotate(30 484.9 1275.5)"/>
<rect x="453.0" y="1132.4" width="4" height="6" class="g" transform="rotate(-30 455 1135.4)"/>
<rect x="462.5" y="1153.0" width="5" height="10" class="g" transform="rotate(-30 465 1158)"/>
<rect x="413.6" y="1266.1" width="9" height="9" class="g" transform="rotate(30 418.1 1270.6)"/>
<circle cx="510.7" cy="1230.3" r="3" class="g" style="stroke-width:1.8"/>
<circle cx="508.6" cy="1236.5" r="3" class="g" style="stroke-width:1.8"/>
<rect x="91" y="1182.5" width="11" height="13.5" class="g"/>
<polygon class="g" points="112.4,1278.5 102.9,1284.0 93.4,1278.5 93.4,1267.5 102.9,1262.0 112.4,1267.5"/>
<rect x="97.3" y="1325" width="5" height="11" fill="#e8e8e8" stroke="#000" stroke-width="1.4"/>
<rect x="97.3" y="1379" width="5" height="11" fill="#e8e8e8" stroke="#000" stroke-width="1.4"/>
<rect x="97.3" y="1431" width="5" height="11" fill="#e8e8e8" stroke="#000" stroke-width="1.4"/>
<rect x="97.3" y="1485" width="5" height="11" fill="#e8e8e8" stroke="#000" stroke-width="1.4"/>
<polygon class="g" points="181.5,1511.2 174.8,1517.9 165.2,1517.9 158.5,1511.2 158.5,1501.6 165.2,1494.9 174.8,1494.9 181.5,1501.6"/>
<polygon class="g" points="265.1,1511.2 258.4,1517.9 248.8,1517.9 242.1,1511.2 242.1,1501.6 248.8,1494.9 258.4,1494.9 265.1,1501.6"/>
<polygon class="g" points="110.9,1595.0 106.7,1602.4 98.2,1602.4 93.9,1595.0 98.2,1587.6 106.7,1587.6"/>
<polygon class="g" points="318.6,1595.0 314.4,1602.4 305.9,1602.4 301.6,1595.0 305.9,1587.6 314.4,1587.6"/>
<circle cx="355.4" cy="1451.6" r="4" class="g" style="stroke-width:1.8"/>
<circle cx="384.5" cy="1451.6" r="4" class="g" style="stroke-width:1.8"/>
<circle cx="42.5" cy="1489" r="4.2" fill="#ffdd00" stroke="#000" stroke-width="1.6"/>
<!-- 14_tr.svg -->
<defs><linearGradient id="trS" x1="0" y1="0" x2="0" y2="1"><stop offset="0" stop-color="#ffff00"/><stop offset="1" stop-color="#ffff66"/></linearGradient><linearGradient id="trL" gradientUnits="userSpaceOnUse" x1="1800" y1="400" x2="1910" y2="350"><stop offset="0" stop-color="#ffffa0"/><stop offset="1" stop-color="#ffff66"/></linearGradient></defs>
<path fill="#ffff88" stroke="#000" stroke-width="1.8" d="M1951,225 L2011.2,225 L2011.2,249 L2035,249 L2035,241 L2145,241 A70,70 0 0 1 2080,285 L2080,347 L1975,347 L1962.3,360.4 L1950.3,347 L1940,347 L1940,294.8 L2034.7,294.8 L2034.7,261 L2011.2,261 L2011.2,286.7 L1951,286.7 Z"/>
<path class="w" style="stroke-width:1.8" d="M2150,215 A70,70 0 0 1 2143,241"/>
<path fill="url(#trL)" stroke="#000" stroke-width="1.8" d="M1792.8,347 L1793.5,392 L1802.9,412 C1812,428 1830,436.5 1849.8,436.2 C1868,436 1886,428 1896.7,410.7 L1906,392 L1907.4,357.1 C1915,360 1935,358 1950.3,346.4 L1950,340 L1800,340 Z"/>
<path fill="#ffff66" stroke="#000" stroke-width="1.8" d="M1840.6,37 L1829,37 L1829,74.5 L1798.7,74.5 L1798.7,257 L1829,257 L1829,294.8 L1802.9,294.8 C1788,297 1775,305 1774.7,316.9 C1775,328 1782,334 1792,345.5 L1803,347 L1907.4,347 L1907.4,357.1 C1920,360 1938,355 1950.3,346.4 L1962.3,334.3 L1975,347 L1960,347 L1960,294.8 L1875.5,294.8 L1875.5,224.6 L1863.2,224.6 L1863.2,104.2 L1875.5,104.2 L1875.5,37 L1863.7,37"/>
<rect x="1840.6" y="16" width="23.1" height="22" fill="url(#trS)"/><path class="w" style="stroke-width:1.8" d="M1840.6,16 L1840.6,37 M1863.7,16 L1863.7,37"/>
<rect x="1908.4" y="296" width="66" height="50" fill="#ffff66"/>
<path fill="#ffff66" d="M1908.3,346 L1950,346 C1938,354 1920,358.5 1908.3,356 Z"/>
<rect x="1848" y="340" width="58.5" height="14" fill="#ffff66"/>
<path class="w" style="stroke-width:1.8" d="M1829,59 L1836.9,59 L1836.9,79 M1875.5,59 L1868.3,59 L1868.3,79 M1818.8,105 L1818.8,225 M1840.6,104.2 L1840.6,224.6 M1826.8,104.2 L1844.9,104.2 M1858.7,104.2 L1875.5,104.2 M1826.8,224.6 L1844.9,224.6 M1858.7,224.6 L1875.5,224.6 M1802.9,294.8 L1845.8,294.8 M1858.5,294.8 L2034.7,294.8 M1818.3,294.8 L1818.3,308.9 L1841.1,308.9 L1841.1,325.6 M1862.5,325.6 L1862.5,308.9 L1881.9,308.9 M1803,347 L1847,347 M1818.3,373.2 L1907.4,373.2 M1967,319.6 C1967,325 1964,330 1961,333 M1792.8,347 L1793.5,392 M1907.4,357.1 L1906,392 M1975,347 L2080,347"/>
<path class="or" style="stroke-width:1.4" d="M1881.9,308.9 L1901.4,308.9 L1901.4,300.1 M1957,296.1 A50,50 0 0 1 1907.4,345.7 M1953,341 C1957,339 1960,337 1962.3,334.3"/>
<path class="or" style="stroke-width:2.2" d="M1792.2,328.3 L1797.5,330.3 L1852.5,331"/>
<polygon points="1962.3,334.3 1975,347 1962.3,360.4 1950.3,347" fill="#ffff80" stroke="#000" stroke-width="1.6"/>
<rect x="1815.2" y="99.8" width="10.5" height="10.5" fill="#b8b8b8" stroke="#000" stroke-width="2.2"/>
<rect x="1815.2" y="159.8" width="10.5" height="10.5" fill="#b8b8b8" stroke="#000" stroke-width="2.2"/>
<rect x="1815.2" y="219.8" width="10.5" height="10.5" fill="#b8b8b8" stroke="#000" stroke-width="2.2"/>
<polygon class="g" points="1804.2,290.1 1798.7,299.6 1787.7,299.6 1782.2,290.1 1787.7,280.6 1798.7,280.6"/>
<polygon class="g" points="1804.2,344.4 1798.7,353.9 1787.7,353.9 1782.2,344.4 1787.7,334.9 1798.7,334.9"/>
<polygon class="g" points="1914.7,294.1 1910.7,301.0 1902.7,301.0 1898.7,294.1 1902.7,287.2 1910.7,287.2"/>
<polygon class="g" points="2034.6,294.1 2030.6,301.0 2022.6,301.0 2018.6,294.1 2022.6,287.2 2030.6,287.2"/>
<polygon class="g" points="1803.8,403.3 1798.3,412.8 1787.3,412.8 1781.8,403.3 1787.3,393.8 1798.3,393.8"/>
<polygon class="g" points="1860.1,403.3 1854.6,412.8 1843.6,412.8 1838.1,403.3 1843.6,393.8 1854.6,393.8"/>
<polygon class="g" points="1917.1,403.3 1911.6,412.8 1900.6,412.8 1895.1,403.3 1900.6,393.8 1911.6,393.8"/>
<!-- 15_mid.svg -->
<rect x="1015" y="812.9" width="169.9" height="170.3" fill="#ffff66" stroke="#000" stroke-width="2"/>
<rect x="1075" y="813.9" width="50.2" height="22.5" fill="#fff" stroke="#f58a1f" stroke-width="1.6"/>
<rect x="1075" y="845.3" width="50.2" height="47.0" fill="#fff" stroke="#f58a1f" stroke-width="1.6"/>
<rect x="1075" y="901.2" width="50.2" height="49.6" fill="#fff" stroke="#f58a1f" stroke-width="1.6"/>
<rect x="1075" y="959" width="50.2" height="23.2" fill="#fff" stroke="#f58a1f" stroke-width="1.6"/>
<path class="w" style="stroke-width:2" d="M1071,812.9 L1129,812.9 M1071,983.2 L1129,983.2"/>
<ellipse class="g" cx="1024" cy="822" rx="7" ry="9" transform="rotate(0 1024 822)"/>
<ellipse class="g" cx="1067" cy="823" rx="8" ry="6" transform="rotate(-30 1067 823)"/>
<ellipse class="g" cx="1133" cy="824" rx="5" ry="9" transform="rotate(-25 1133 824)"/>
<ellipse class="g" cx="1178" cy="826" rx="7" ry="11" transform="rotate(0 1178 826)"/>
<ellipse class="g" cx="1133" cy="848" rx="6" ry="6" transform="rotate(0 1133 848)"/>
<ellipse class="g" cx="1023" cy="864" rx="8" ry="9" transform="rotate(0 1023 864)"/>
<ellipse class="g" cx="1064" cy="870" rx="5" ry="10" transform="rotate(-10 1064 870)"/>
<ellipse class="g" cx="1135" cy="870" rx="6" ry="9" transform="rotate(-20 1135 870)"/>
<ellipse class="g" cx="1177" cy="868" rx="8" ry="8" transform="rotate(0 1177 868)"/>
<ellipse class="g" cx="1039" cy="884" rx="4" ry="9" transform="rotate(-20 1039 884)"/>
<ellipse class="g" cx="1143" cy="908" rx="11" ry="6" transform="rotate(-35 1143 908)"/>
<ellipse class="g" cx="1176" cy="909" rx="8" ry="8" transform="rotate(20 1176 909)"/>
<ellipse class="g" cx="1025" cy="927" rx="9" ry="11" transform="rotate(0 1025 927)"/>
<ellipse class="g" cx="1060" cy="920" rx="6" ry="4" transform="rotate(30 1060 920)"/>
<ellipse class="g" cx="1176" cy="935" rx="8" ry="6" transform="rotate(-30 1176 935)"/>
<ellipse class="g" cx="1053" cy="955" rx="8" ry="5" transform="rotate(-20 1053 955)"/>
<ellipse class="g" cx="1024" cy="961" rx="8" ry="6" transform="rotate(0 1024 961)"/>
<ellipse class="g" cx="1143" cy="960" rx="10" ry="5" transform="rotate(-30 1143 960)"/>
<ellipse class="g" cx="1034" cy="980" rx="14" ry="3.5" transform="rotate(0 1034 980)"/>
<ellipse class="g" cx="1160" cy="980" rx="10" ry="4" transform="rotate(0 1160 980)"/>
<rect x="1011.3" y="809.2" width="7.4" height="7.4" fill="#e4e4e4" stroke="#000" stroke-width="2"/>
<rect x="1011.3" y="865.1" width="7.4" height="7.4" fill="#e4e4e4" stroke="#000" stroke-width="2"/>
<rect x="1011.3" y="922.9" width="7.4" height="7.4" fill="#e4e4e4" stroke="#000" stroke-width="2"/>
<rect x="1011.3" y="979.5" width="7.4" height="7.4" fill="#e4e4e4" stroke="#000" stroke-width="2"/>
<rect x="1067.5" y="809.2" width="7.4" height="7.4" fill="#e4e4e4" stroke="#000" stroke-width="2"/>
<rect x="1067.5" y="865.1" width="7.4" height="7.4" fill="#e4e4e4" stroke="#000" stroke-width="2"/>
<rect x="1067.5" y="922.9" width="7.4" height="7.4" fill="#e4e4e4" stroke="#000" stroke-width="2"/>
<rect x="1067.5" y="979.5" width="7.4" height="7.4" fill="#e4e4e4" stroke="#000" stroke-width="2"/>
<rect x="1125.3" y="809.2" width="7.4" height="7.4" fill="#e4e4e4" stroke="#000" stroke-width="2"/>
<rect x="1125.3" y="865.1" width="7.4" height="7.4" fill="#e4e4e4" stroke="#000" stroke-width="2"/>
<rect x="1125.3" y="922.9" width="7.4" height="7.4" fill="#e4e4e4" stroke="#000" stroke-width="2"/>
<rect x="1125.3" y="979.5" width="7.4" height="7.4" fill="#e4e4e4" stroke="#000" stroke-width="2"/>
<rect x="1181.2" y="809.2" width="7.4" height="7.4" fill="#e4e4e4" stroke="#000" stroke-width="2"/>
<rect x="1181.2" y="865.1" width="7.4" height="7.4" fill="#e4e4e4" stroke="#000" stroke-width="2"/>
<rect x="1181.2" y="922.9" width="7.4" height="7.4" fill="#e4e4e4" stroke="#000" stroke-width="2"/>
<rect x="1181.2" y="979.5" width="7.4" height="7.4" fill="#e4e4e4" stroke="#000" stroke-width="2"/>
<defs><linearGradient id="mcU" x1="0" y1="0" x2="0" y2="1"><stop offset="0" stop-color="#ffffa0"/><stop offset="1" stop-color="#ffff80"/></linearGradient></defs>
<path fill="url(#mcU)" d="M1496.5,771.6 L1590.2,770.8 L1616.9,775 L1616.9,818 L1496.5,818 Z"/>
<path fill="#ffff66" d="M1184.9,834.5 L1193.2,834.5 L1193.2,828.1 L1254.2,828.1 L1254.2,817.3 L1496.5,817.3 L1496.5,817.3 L1616.9,817.3 L1616.9,862.9 L1425.1,862.9 L1425.1,866.0 L1404.5,866.0 L1404.5,862.9 L1254.2,862.9 L1254.2,851.0 L1193.2,851.0 L1193.2,844.7 L1184.9,844.7 Z"/>
<path class="w" style="stroke-width:2" d="M1184.9,834.5 L1193.2,834.5 L1193.2,828.1 L1254.2,828.1 L1254.2,817.3 L1496.5,817.3 L1496.5,771.6 L1590.2,771.6 M1184.9,844.7 L1193.2,844.7 L1193.2,851 L1254.2,851 L1254.2,862.9 L1404.5,862.9 M1425.1,862.9 L1616.9,862.9 M1520.9,817.2 L1615.3,817.2 M1495.7,794.4 L1540.6,794.4"/>
<path fill="#ffff99" stroke="#000" stroke-width="2" d="M1590.2,771.6 C1594,752 1604,736 1621.6,722 C1632,716 1642,714.2 1650.8,714.2 L1650.8,631.6 L1681.7,631.6 L1681.7,737 L1668.9,737 C1650,737 1632,745 1621.6,759.8 C1619,765 1618.5,770 1618.5,776 L1590.2,776 Z"/>
<ellipse class="g" cx="1284" cy="822" rx="9" ry="5" transform="rotate(-10 1284 822)"/>
<ellipse class="g" cx="1347" cy="826" rx="17" ry="7" transform="rotate(-8 1347 826)"/>
<ellipse class="g" cx="1392" cy="822" rx="7" ry="5" transform="rotate(0 1392 822)"/>
<ellipse class="g" cx="1414" cy="828" rx="13" ry="9" transform="rotate(10 1414 828)"/>
<ellipse class="g" cx="1450" cy="824" rx="6" ry="5" transform="rotate(30 1450 824)"/>
<ellipse class="g" cx="1472" cy="820" rx="6" ry="4" transform="rotate(0 1472 820)"/>
<ellipse class="g" cx="1492" cy="820" rx="3" ry="4" transform="rotate(0 1492 820)"/>
<ellipse class="g" cx="1261" cy="856" rx="6" ry="7" transform="rotate(0 1261 856)"/>
<ellipse class="g" cx="1304" cy="853" rx="12" ry="10" transform="rotate(0 1304 853)"/>
<ellipse class="g" cx="1366" cy="844" rx="8" ry="3.5" transform="rotate(35 1366 844)"/>
<ellipse class="g" cx="1337" cy="857" rx="5" ry="3" transform="rotate(40 1337 857)"/>
<ellipse class="g" cx="1359" cy="858" rx="4" ry="3" transform="rotate(30 1359 858)"/>
<ellipse class="g" cx="1488" cy="858" rx="5" ry="5" transform="rotate(0 1488 858)"/>
<ellipse class="g" cx="1512" cy="852" rx="9" ry="12" transform="rotate(0 1512 852)"/>
<ellipse class="g" cx="1524" cy="779" rx="10" ry="4" transform="rotate(10 1524 779)"/>
<ellipse class="g" cx="1520" cy="791" rx="10" ry="3" transform="rotate(0 1520 791)"/>
<ellipse class="g" cx="1545" cy="782" rx="7" ry="3.5" transform="rotate(20 1545 782)"/>
<ellipse class="g" cx="1573" cy="787" rx="4" ry="6" transform="rotate(25 1573 787)"/>
<ellipse class="g" cx="1530" cy="812" rx="9" ry="5" transform="rotate(0 1530 812)"/>
<ellipse class="g" cx="1558" cy="812" rx="7" ry="4" transform="rotate(0 1558 812)"/>
<ellipse class="g" cx="1493" cy="820" rx="3" ry="3" transform="rotate(0 1493 820)"/>
<ellipse class="g" cx="1578" cy="832" rx="12" ry="7" transform="rotate(-15 1578 832)"/>
<ellipse class="g" cx="1533" cy="848" rx="3.5" ry="5" transform="rotate(-25 1533 848)"/>
<ellipse class="g" cx="1562" cy="848" rx="6" ry="3" transform="rotate(-35 1562 848)"/>
<ellipse class="g" cx="1595" cy="848" rx="5" ry="3" transform="rotate(-40 1595 848)"/>
<ellipse class="g" cx="1607" cy="857" rx="2.5" ry="5" transform="rotate(-15 1607 857)"/>
<ellipse class="g" cx="1610" cy="815" rx="5" ry="7" transform="rotate(0 1610 815)"/>
<ellipse class="g" cx="1601" cy="758" rx="4" ry="12" transform="rotate(25 1601 758)"/>
<ellipse class="g" cx="1612" cy="730" rx="12" ry="4" transform="rotate(-38 1612 730)"/>
<ellipse class="g" cx="1612" cy="790" rx="4" ry="12" transform="rotate(10 1612 790)"/>
<ellipse class="g" cx="1645" cy="742" rx="16" ry="9" transform="rotate(-15 1645 742)"/>
<ellipse class="g" cx="1648" cy="725" rx="6" ry="4" transform="rotate(0 1648 725)"/>
<ellipse class="g" cx="1676" cy="712" rx="4" ry="3" transform="rotate(0 1676 712)"/>
<circle cx="1405.7" cy="852.3" r="2.6" fill="#fff" stroke="#000" stroke-width="1.6"/>
<rect x="1613.7" y="772.2" width="6.5" height="6.5" fill="#e4e4e4" stroke="#000" stroke-width="2"/>
<rect x="1611.3" y="818.0" width="6.5" height="6.5" fill="#e4e4e4" stroke="#000" stroke-width="2"/>
<path fill="#ffff66" stroke="#000" stroke-width="2" d="M1404.5,862.9 L1404.5,864 L1387.6,864 L1368.8,880 L1368.8,932.6 L1389.4,951.3 L1438.8,951.3 L1459.5,932.6 L1459.5,880 L1440.1,864 L1425.1,864 L1425.1,862.9"/>
<rect x="1385.7" y="877.5" width="57.5" height="57.6" rx="13" fill="#ffff99" stroke="#f58a1f" stroke-width="1.2"/>
<rect x="1399.5" y="890.7" width="31.2" height="31.9" rx="7" fill="#fff" stroke="#f58a1f" stroke-width="1.4"/>
<polygon class="g" points="1381.8,883.2 1376.5,892.3 1366.0,892.3 1360.8,883.2 1366.0,874.1 1376.5,874.1"/>
<polygon class="g" points="1467.5,883.2 1462.2,892.3 1451.8,892.3 1446.5,883.2 1451.8,874.1 1462.2,874.1"/>
<polygon class="g" points="1381.8,930.1 1376.5,939.2 1366.0,939.2 1360.8,930.1 1366.0,921.0 1376.5,921.0"/>
<polygon class="g" points="1467.5,930.1 1462.2,939.2 1451.8,939.2 1446.5,930.1 1451.8,921.0 1462.2,921.0"/>
<rect x="1392.9" y="871.6" width="4.4" height="4.4" fill="#fff" stroke="#000" stroke-width="2" transform="rotate(25 1395.1 873.8)"/>
<rect x="1392.9" y="935.4" width="4.4" height="4.4" fill="#fff" stroke="#000" stroke-width="2" transform="rotate(-25 1395.1 937.6)"/>
<rect x="1405.4" y="871.6" width="4.4" height="4.4" fill="#fff" stroke="#000" stroke-width="2" transform="rotate(0 1407.6 873.8)"/>
<rect x="1405.4" y="935.4" width="4.4" height="4.4" fill="#fff" stroke="#000" stroke-width="2" transform="rotate(0 1407.6 937.6)"/>
<rect x="1417.9" y="871.6" width="4.4" height="4.4" fill="#fff" stroke="#000" stroke-width="2" transform="rotate(0 1420.1 873.8)"/>
<rect x="1417.9" y="935.4" width="4.4" height="4.4" fill="#fff" stroke="#000" stroke-width="2" transform="rotate(0 1420.1 937.6)"/>
<rect x="1431.6" y="871.6" width="4.4" height="4.4" fill="#fff" stroke="#000" stroke-width="2" transform="rotate(-25 1433.8 873.8)"/>
<rect x="1431.6" y="935.4" width="4.4" height="4.4" fill="#fff" stroke="#000" stroke-width="2" transform="rotate(25 1433.8 937.6)"/>
<rect x="1379.7" y="884.7" width="4.4" height="4.4" fill="#fff" stroke="#000" stroke-width="2" transform="rotate(30 1381.9 886.9)"/>
<rect x="1444.2" y="884.7" width="4.4" height="4.4" fill="#fff" stroke="#000" stroke-width="2" transform="rotate(-30 1446.4 886.9)"/>
<rect x="1379.7" y="897.8" width="4.4" height="4.4" fill="#fff" stroke="#000" stroke-width="2" transform="rotate(0 1381.9 900)"/>
<rect x="1444.2" y="897.8" width="4.4" height="4.4" fill="#fff" stroke="#000" stroke-width="2" transform="rotate(0 1446.4 900)"/>
<rect x="1379.7" y="909.7" width="4.4" height="4.4" fill="#fff" stroke="#000" stroke-width="2" transform="rotate(0 1381.9 911.9)"/>
<rect x="1444.2" y="909.7" width="4.4" height="4.4" fill="#fff" stroke="#000" stroke-width="2" transform="rotate(0 1446.4 911.9)"/>
<rect x="1379.7" y="922.9" width="4.4" height="4.4" fill="#fff" stroke="#000" stroke-width="2" transform="rotate(-30 1381.9 925.1)"/>
<rect x="1444.2" y="922.9" width="4.4" height="4.4" fill="#fff" stroke="#000" stroke-width="2" transform="rotate(30 1446.4 925.1)"/>
<defs><linearGradient id="orR" gradientUnits="userSpaceOnUse" x1="1617" y1="0" x2="1682" y2="0"><stop offset="0" stop-color="#ffd400"/><stop offset="0.6" stop-color="#ffe000"/><stop offset="1" stop-color="#ffd800"/></linearGradient></defs>
<path fill="url(#orR)" stroke="#000" stroke-width="2" d="M1616.9,780.3 L1618.5,774 C1620,760 1630,747 1645.3,739.3 C1652,737.5 1660,737 1668.9,737 L1681.5,737 L1681.5,909.3 C1682,918 1685,925 1690,930.6 L1679,945.5 C1668,936 1664,922 1663.3,909.3 L1663.3,883.4 L1616.9,883.4 Z"/>
<path class="w" style="stroke-width:2" d="M1616.9,780.3 L1663.3,780.3 L1663.3,827.5 M1663.3,874.7 L1663.3,883.4"/>
<path d="M1679,945.5 L1690,930.6" stroke="#ffd800" stroke-width="2.6"/>
<defs><radialGradient id="lnB" gradientUnits="userSpaceOnUse" cx="1730" cy="770" r="45"><stop offset="0" stop-color="#ffe400"/><stop offset="1" stop-color="#ffcc00"/></radialGradient></defs>
<path fill="url(#lnB)" stroke="#000" stroke-width="2" d="M1706.6,737 L1753,737 L1753,804.7 L1740.5,804.7 L1740.5,925 L1719.2,925 L1719.2,804.7 L1706.6,804.7 L1706.6,780.3 L1696.4,780.3 L1696.4,775.5 L1681.5,775.5 L1681.5,764.5 L1696.4,764.5 L1696.4,759 L1706.6,759 Z"/>
<path stroke="#ffd800" stroke-width="3" d="M1681.5,765.5 L1681.5,774.5"/>
<path stroke="#ffe000" stroke-width="2.4" d="M1720.2,804.7 L1739.5,804.7"/>
<rect x="1707.8" y="738.0" width="4.4" height="4.4" fill="#fff" stroke="#000" stroke-width="2" transform="rotate(0 1710 740.2)"/>
<rect x="1707.8" y="753.8" width="4.4" height="4.4" fill="#fff" stroke="#000" stroke-width="2" transform="rotate(0 1710 756)"/>
<rect x="1707.8" y="781.3" width="4.4" height="4.4" fill="#fff" stroke="#000" stroke-width="2" transform="rotate(0 1710 783.5)"/>
<rect x="1707.8" y="799.4" width="4.4" height="4.4" fill="#fff" stroke="#000" stroke-width="2" transform="rotate(0 1710 801.6)"/>
<rect x="1748.0" y="738.0" width="4.4" height="4.4" fill="#fff" stroke="#000" stroke-width="2" transform="rotate(0 1750.2 740.2)"/>
<rect x="1748.0" y="753.8" width="4.4" height="4.4" fill="#fff" stroke="#000" stroke-width="2" transform="rotate(0 1750.2 756)"/>
<rect x="1748.0" y="781.3" width="4.4" height="4.4" fill="#fff" stroke="#000" stroke-width="2" transform="rotate(0 1750.2 783.5)"/>
<rect x="1748.0" y="799.4" width="4.4" height="4.4" fill="#fff" stroke="#000" stroke-width="2" transform="rotate(0 1750.2 801.6)"/>
<rect x="1723" y="921.5" width="13" height="5.5" fill="#e01010"/>
<!-- 16_rb.svg -->
<rect x="1681.7" y="647.4" width="37" height="11" fill="#ffff66"/><rect x="1681.7" y="647.4" width="6" height="11" fill="#a0f0d0"/>
<path class="w" style="stroke-width:2" d="M1681.7,647.4 L1718.7,647.4 M1681.7,658.4 L1718.7,658.4 M1681.7,658.4 L1681.7,764.5 M1681.7,775.5 L1681.7,800"/>
<defs><linearGradient id="rbL" gradientUnits="userSpaceOnUse" x1="1718" y1="0" x2="1745" y2="0"><stop offset="0" stop-color="#ffff66"/><stop offset="1" stop-color="#ffff00"/></linearGradient></defs>
<path fill="#ffff00" stroke="#000" stroke-width="2" d="M1718.7,576.5 L1765.9,576.5 L1765.9,582.8 L1806.8,582.8 L1806.8,576.5 L1880.8,576.5 L1880.8,582.8 L1928.0,582.8 L1928.0,576.5 L1961.1,576.5 L1961.1,691.4 L1928.0,690.6 L1928.0,685.1 L1880.8,685.1 L1880.8,690.6 L1850.9,690.6 L1850.9,737.1 L1897.4,737.1 L1897.4,804.8 L1829.7,804.8 L1829.7,737.1 L1828.1,736.3 L1828.1,690.6 L1806.8,690.6 L1806.8,685.1 L1765.9,685.1 L1765.9,690.6 L1740.7,690.6 L1740.7,725.3 L1718.7,725.3 Z"/>
<rect x="1719.7" y="577.5" width="22" height="147" fill="url(#rbL)"/>
<path stroke="#ffff30" stroke-width="2.4" d="M1719.7,725.3 L1739.7,725.3"/><path stroke="#ffff66" stroke-width="2.6" d="M1718.7,648.6 L1718.7,657.2"/>
<path fill="#fff" stroke="#000" stroke-width="2" d="M1740.7,606.4 L1765.9,606.4 L1765.9,601.7 L1806.8,601.7 L1806.8,606.4 L1828.1,606.4 L1828.1,662.3 L1806.8,662.3 L1806.8,667.0 L1765.9,667.0 L1765.9,662.3 L1740.7,662.3 Z M1850.9,606.4 L1880.8,606.4 L1880.8,601.7 L1928.0,601.7 L1928.0,606.4 L1939.1,606.4 L1939.1,662.3 L1928.0,662.3 L1928.0,667.0 L1880.8,667.0 L1880.8,662.3 L1850.9,662.3 Z"/>
<rect x="1741.7" y="578.3" width="4.4" height="4.4" fill="#fff" stroke="#000" stroke-width="2" transform="rotate(0 1743.9 580.5)"/>
<rect x="1811.7" y="578.3" width="4.4" height="4.4" fill="#fff" stroke="#000" stroke-width="2" transform="rotate(0 1813.9 580.5)"/>
<rect x="1863.7" y="578.3" width="4.4" height="4.4" fill="#fff" stroke="#000" stroke-width="2" transform="rotate(0 1865.9 580.5)"/>
<rect x="1933.7" y="578.3" width="4.4" height="4.4" fill="#fff" stroke="#000" stroke-width="2" transform="rotate(0 1935.9 580.5)"/>
<rect x="1741.7" y="601.3" width="4.4" height="4.4" fill="#fff" stroke="#000" stroke-width="2" transform="rotate(0 1743.9 603.5)"/>
<rect x="1741.7" y="662.8" width="4.4" height="4.4" fill="#fff" stroke="#000" stroke-width="2" transform="rotate(0 1743.9 665)"/>
<rect x="1741.7" y="685.8" width="4.4" height="4.4" fill="#fff" stroke="#000" stroke-width="2" transform="rotate(0 1743.9 688)"/>
<rect x="1811.7" y="601.3" width="4.4" height="4.4" fill="#fff" stroke="#000" stroke-width="2" transform="rotate(0 1813.9 603.5)"/>
<rect x="1811.7" y="662.8" width="4.4" height="4.4" fill="#fff" stroke="#000" stroke-width="2" transform="rotate(0 1813.9 665)"/>
<rect x="1811.7" y="685.8" width="4.4" height="4.4" fill="#fff" stroke="#000" stroke-width="2" transform="rotate(0 1813.9 688)"/>
<rect x="1863.7" y="601.3" width="4.4" height="4.4" fill="#fff" stroke="#000" stroke-width="2" transform="rotate(0 1865.9 603.5)"/>
<rect x="1863.7" y="662.8" width="4.4" height="4.4" fill="#fff" stroke="#000" stroke-width="2" transform="rotate(0 1865.9 665)"/>
<rect x="1863.7" y="685.8" width="4.4" height="4.4" fill="#fff" stroke="#000" stroke-width="2" transform="rotate(0 1865.9 688)"/>
<rect x="1933.7" y="601.3" width="4.4" height="4.4" fill="#fff" stroke="#000" stroke-width="2" transform="rotate(0 1935.9 603.5)"/>
<rect x="1933.7" y="662.8" width="4.4" height="4.4" fill="#fff" stroke="#000" stroke-width="2" transform="rotate(0 1935.9 665)"/>
<rect x="1933.7" y="685.8" width="4.4" height="4.4" fill="#fff" stroke="#000" stroke-width="2" transform="rotate(0 1935.9 688)"/>
<rect x="1827.8" y="608.2" width="4.4" height="4.4" fill="#fff" stroke="#000" stroke-width="2" transform="rotate(0 1830 610.4)"/>
<rect x="1827.8" y="657.8" width="4.4" height="4.4" fill="#fff" stroke="#000" stroke-width="2" transform="rotate(0 1830 660)"/>
<rect x="1849.3" y="608.2" width="4.4" height="4.4" fill="#fff" stroke="#000" stroke-width="2" transform="rotate(0 1851.5 610.4)"/>
<rect x="1849.3" y="657.8" width="4.4" height="4.4" fill="#fff" stroke="#000" stroke-width="2" transform="rotate(0 1851.5 660)"/>
<defs><linearGradient id="rg1" gradientUnits="userSpaceOnUse" x1="2030" y1="770" x2="2062" y2="890"><stop offset="0" stop-color="#ffff00"/><stop offset="0.3" stop-color="#ffff20"/><stop offset="1" stop-color="#ffff80"/></linearGradient></defs>
<path fill="url(#rg1)" stroke="#000" stroke-width="2" d="M2028.9,766.9 A66,66 0 0 1 2048.2,893.1 L2040.9,876.1 A47.5,47.5 0 0 0 2027.0,785.3"/>
<path stroke="#fff" stroke-width="2.6" d="M2048.2,893.1 L2040.9,876.1"/>
<path fill="#ffff00" stroke="#000" stroke-width="2" d="M2033.5,767.5 A66,66 0 1 0 2009.7,897.4 L2003.8,918.4 C1999,928 1985,939 1962.4,946 L1962.4,971.1 C1990,962 2020,940 2027.6,915.9 C2031,905 2032.5,892 2032.7,878.8 A47.5,47.5 0 1 1 2030.2,785.7 Z"/>
<path stroke="#ffff00" stroke-width="3.2" d="M2033.5,767.5 L2030.2,785.7"/>
<path stroke="#ffff00" stroke-width="3" d="M1961.8,947.5 L1961.8,969.8"/>
<path fill="#ffff00" d="M1961.1,664.6 C2000,668 2030,705 2031.7,767.1 L2031.7,771 L2011.4,771 L2011.4,767.1 C2010,715 1990,688 1961.1,684.9 Z"/>
<path class="w" style="stroke-width:2" d="M1961.1,664.6 C2000,668 2030,705 2031.7,767.1 M2011.4,767.1 C2010,715 1990,688 1961.1,684.9"/>
<path stroke="#ffff00" stroke-width="3" d="M1961.1,665.8 L1961.1,683.8"/>
<path fill="#ffffa8" stroke="#000" stroke-width="2" d="M2200.6,890.4 A66.5,66.5 0 1 0 2175.8,898.8 L2175.8,879.9 A47.9,47.9 0 1 1 2191.2,874.3 Z"/>
<path stroke="#fff" stroke-width="2.8" d="M2175.8,899.8 L2175.8,878.9"/>
<path fill="#ffffcc" stroke="#aaa" stroke-width="1.2" d="M1829.4,865.4 L1897,865.4 L1897,932.4 L1872.9,932.4 L1872.9,946 L1851.5,946 L1851.5,932.4 L1829.4,932.4 Z"/>
<path fill="#ffffcc" stroke="#aaa" stroke-width="1.2" d="M1700,951 L1752.3,951 L1752.3,975 L1850.8,975 L1850.8,987 L1752.3,987 L1752.3,1015 L1760,1018 L1788,1018 L1788,1027.5 L1834.7,1027.5 L1834.7,1045 L1788,1045 L1788,1052 L1760,1052 L1760,1055.6 L1700,1055.6 Z"/>
<rect x="1889.7" y="1027.5" width="20" height="17.5" fill="#ffffcc"/><path stroke="#aaa" stroke-width="1.2" d="M1889.7,1027.5 L1908,1027.5 M1889.7,1045 L1908,1045"/>
<defs><linearGradient id="armR" gradientUnits="userSpaceOnUse" x1="1905" y1="0" x2="1925" y2="0"><stop offset="0" stop-color="#ffffcc"/><stop offset="1" stop-color="#ffff00"/></linearGradient></defs>
<defs><linearGradient id="lrG" gradientUnits="userSpaceOnUse" x1="1860" y1="0" x2="1962" y2="0"><stop offset="0" stop-color="#ffe000"/><stop offset="0.6" stop-color="#fff000"/><stop offset="1" stop-color="#ffff00"/></linearGradient></defs>
<path fill="url(#lrG)" stroke="#000" stroke-width="2" d="M1719.2,925.0 L1706.7,925.0 L1706.7,992.7 L1752.3,992.7 L1752.3,969.2 L1764.4,969.2 L1764.4,975.2 L1795.2,975.2 L1795.2,969.2 L1832.7,969.2 L1832.7,975.2 L1850.8,975.2 L1850.8,1008.7 L1854.8,1008.7 L1854.8,1016.8 L1834.7,1016.8 L1834.7,1069.0 L1889.7,1069.0 L1889.7,1016.8 L1868.9,1016.8 L1868.9,1008.7 L1874.9,1008.7 L1874.9,975.2 L1885.0,975.2 L1885.0,969.2 L1923.1,969.2 L1923.1,975.2 L1939.2,975.2 L1939.2,1020.8 L1931.2,1020.8 L1931.2,1026.8 L1907.1,1026.8 L1907.1,1045.6 L1931.2,1045.6 L1931.2,1050.9 L1961.3,1050.9 L1961.3,945.1 L1923.1,945.1 L1923.1,951.1 L1885.0,951.1 L1885.0,945.1 L1832.7,945.1 L1832.7,951.1 L1795.2,951.1 L1795.2,945.1 L1764.4,945.1 L1764.4,948.0 L1752.3,948.0 L1752.3,925.0 L1764.4,925.0 L1764.4,904.9 L1773.1,904.9 L1773.1,919.0 L1880.9,919.0 L1880.9,880.8 L1773.1,880.8 L1773.1,892.8 L1764.4,892.8 L1764.4,880.8 L1749.0,880.8 L1749.0,911.6 L1740.9,911.6 L1740.9,925.0 Z"/>
<rect x="1906" y="1027.8" width="26" height="16.8" fill="url(#armR)"/>
<path stroke="#ffe000" stroke-width="2.6" d="M1720.2,925 L1739.9,925"/>
<rect x="1855.5" y="891.5" width="15.4" height="15.4" fill="#ffff00" stroke="#000" stroke-width="2"/>
<rect x="1846.8" y="1029.5" width="30.1" height="29.5" fill="#ffff00"/><path class="w" style="stroke-width:2" d="M1846.8,1050 L1846.8,1029.5 L1876.9,1029.5 L1876.9,1050 M1846.8,1055 L1846.8,1059 L1852,1059 M1871,1059 L1876.9,1059 L1876.9,1055"/><path class="or" style="stroke-width:1.4" d="M1852,1059 L1871,1059"/>
<path class="w" style="stroke-width:2" d="M1773.1,888.8 L1793.2,888.8 M1773.1,910.9 L1793.2,910.9"/>
<rect x="1747.7" y="930.2" width="4.4" height="4.4" fill="#fff" stroke="#000" stroke-width="2" transform="rotate(0 1749.9 932.4)"/>
<rect x="1747.7" y="943.6" width="4.4" height="4.4" fill="#fff" stroke="#000" stroke-width="2" transform="rotate(0 1749.9 945.8)"/>
<rect x="1765.9" y="946.0" width="4.4" height="4.4" fill="#fff" stroke="#000" stroke-width="2" transform="rotate(0 1768.1 948.2)"/>
<rect x="1837.9" y="946.0" width="4.4" height="4.4" fill="#fff" stroke="#000" stroke-width="2" transform="rotate(0 1840.1 948.2)"/>
<rect x="1876.1" y="946.0" width="4.4" height="4.4" fill="#fff" stroke="#000" stroke-width="2" transform="rotate(0 1878.3 948.2)"/>
<rect x="1931.7" y="946.0" width="4.4" height="4.4" fill="#fff" stroke="#000" stroke-width="2" transform="rotate(0 1933.9 948.2)"/>
<rect x="1765.9" y="969.7" width="4.4" height="4.4" fill="#fff" stroke="#000" stroke-width="2" transform="rotate(0 1768.1 971.9)"/>
<rect x="1837.9" y="969.7" width="4.4" height="4.4" fill="#fff" stroke="#000" stroke-width="2" transform="rotate(0 1840.1 971.9)"/>
<rect x="1876.1" y="969.7" width="4.4" height="4.4" fill="#fff" stroke="#000" stroke-width="2" transform="rotate(0 1878.3 971.9)"/>
<rect x="1931.7" y="969.7" width="4.4" height="4.4" fill="#fff" stroke="#000" stroke-width="2" transform="rotate(0 1933.9 971.9)"/>
<rect x="1707.9" y="925.7" width="4.4" height="4.4" fill="#fff" stroke="#000" stroke-width="2" transform="rotate(0 1710.1 927.9)"/>
<rect x="1707.9" y="943.6" width="4.4" height="4.4" fill="#fff" stroke="#000" stroke-width="2" transform="rotate(0 1710.1 945.8)"/>
<rect x="1707.9" y="971.7" width="4.4" height="4.4" fill="#fff" stroke="#000" stroke-width="2" transform="rotate(0 1710.1 973.9)"/>
<rect x="1707.9" y="987.5" width="4.4" height="4.4" fill="#fff" stroke="#000" stroke-width="2" transform="rotate(0 1710.1 989.7)"/>
<rect x="1747.7" y="971.7" width="4.4" height="4.4" fill="#fff" stroke="#000" stroke-width="2" transform="rotate(0 1749.9 973.9)"/>
<rect x="1747.7" y="987.5" width="4.4" height="4.4" fill="#fff" stroke="#000" stroke-width="2" transform="rotate(0 1749.9 989.7)"/>
<rect x="1931.7" y="1021.5" width="4.4" height="4.4" fill="#fff" stroke="#000" stroke-width="2" transform="rotate(0 1933.9 1023.7)"/>
<rect x="1931.7" y="1045.8" width="4.4" height="4.4" fill="#fff" stroke="#000" stroke-width="2" transform="rotate(0 1933.9 1048)"/>
<defs><linearGradient id="brP" gradientUnits="userSpaceOnUse" x1="1787" y1="0" x2="1840" y2="0"><stop offset="0" stop-color="#ffff99"/><stop offset="1" stop-color="#ffff00"/></linearGradient></defs>
<path fill="#ffff99" stroke="#000" stroke-width="2" d="M1698.6,1184.6 L1851.4,1184.6 L1851.4,1221.6 L1752.6,1221.6 L1745.0,1221.6 L1745.0,1240.0 L1759.0,1254.3 L1787.5,1254.3 L1787.5,1260.8 L1834.7,1260.8 L1834.7,1279.7 L1787.5,1279.7 L1787.5,1284.8 L1759.0,1284.8 L1759.0,1288.4 L1698.6,1288.4 Z"/>
<rect x="1788.5" y="1261.8" width="47" height="16.9" fill="url(#brP)"/>
<path fill="#ffff00" stroke="#000" stroke-width="2" d="M1828.9,1098.9 L1897.1,1098.9 L1897.1,1166.4 L1872.4,1166.4 L1872.4,1242.7 L1868.8,1242.7 L1868.8,1250.7 L1889.2,1250.7 L1889.2,1261.6 L1903.7,1261.6 L1903.7,1279.0 L1889.2,1279.0 L1889.2,1302.2 L1834.7,1302.2 L1834.7,1250.7 L1854.3,1250.7 L1854.3,1242.7 L1851.4,1242.7 L1851.4,1166.4 L1828.9,1166.4 Z"/>
<path stroke="#ffff00" stroke-width="2.6" d="M1834.7,1262 L1834.7,1278.6"/>
<path fill="#fff" stroke="#000" stroke-width="1.6" d="M1835.7,1283 C1838,1294 1845,1300 1856,1301.2 L1835.7,1301.2 Z M1888.2,1283 C1886,1294 1879,1300 1868,1301.2 L1888.2,1301.2 Z"/>
<rect x="1706.1" y="1186.0" width="4.4" height="4.4" fill="#fff" stroke="#000" stroke-width="2" transform="rotate(0 1708.3 1188.2)"/>
<rect x="1729.4" y="1186.0" width="4.4" height="4.4" fill="#fff" stroke="#000" stroke-width="2" transform="rotate(0 1731.6 1188.2)"/>
<rect x="1751.9" y="1186.0" width="4.4" height="4.4" fill="#fff" stroke="#000" stroke-width="2" transform="rotate(0 1754.1 1188.2)"/>
<rect x="1775.8" y="1186.0" width="4.4" height="4.4" fill="#fff" stroke="#000" stroke-width="2" transform="rotate(0 1778 1188.2)"/>
<rect x="1799.8" y="1186.0" width="4.4" height="4.4" fill="#fff" stroke="#000" stroke-width="2" transform="rotate(0 1802 1188.2)"/>
<rect x="1821.6" y="1186.0" width="4.4" height="4.4" fill="#fff" stroke="#000" stroke-width="2" transform="rotate(0 1823.8 1188.2)"/>
<rect x="1845.6" y="1186.0" width="4.4" height="4.4" fill="#fff" stroke="#000" stroke-width="2" transform="rotate(0 1847.8 1188.2)"/>
<rect x="1754.1" y="1215.6" width="4.4" height="4.4" fill="#fff" stroke="#000" stroke-width="2" transform="rotate(0 1756.3 1217.8)"/>
<rect x="1775.8" y="1215.6" width="4.4" height="4.4" fill="#fff" stroke="#000" stroke-width="2" transform="rotate(0 1778 1217.8)"/>
<rect x="1799.8" y="1215.6" width="4.4" height="4.4" fill="#fff" stroke="#000" stroke-width="2" transform="rotate(0 1802 1217.8)"/>
<rect x="1821.6" y="1215.6" width="4.4" height="4.4" fill="#fff" stroke="#000" stroke-width="2" transform="rotate(0 1823.8 1217.8)"/>
<rect x="1845.6" y="1215.6" width="4.4" height="4.4" fill="#fff" stroke="#000" stroke-width="2" transform="rotate(0 1847.8 1217.8)"/>
<rect x="1699.6" y="1191.1" width="4.4" height="4.4" fill="#fff" stroke="#000" stroke-width="2" transform="rotate(0 1701.8 1193.3)"/>
<rect x="1699.6" y="1211.4" width="4.4" height="4.4" fill="#fff" stroke="#000" stroke-width="2" transform="rotate(0 1701.8 1213.6)"/>
<rect x="1699.6" y="1233.9" width="4.4" height="4.4" fill="#fff" stroke="#000" stroke-width="2" transform="rotate(0 1701.8 1236.1)"/>
<rect x="1699.6" y="1255.7" width="4.4" height="4.4" fill="#fff" stroke="#000" stroke-width="2" transform="rotate(0 1701.8 1257.9)"/>
<rect x="1699.6" y="1277.5" width="4.4" height="4.4" fill="#fff" stroke="#000" stroke-width="2" transform="rotate(0 1701.8 1279.7)"/>
<rect x="1705.4" y="1283.3" width="4.4" height="4.4" fill="#fff" stroke="#000" stroke-width="2" transform="rotate(0 1707.6 1285.5)"/>
<rect x="1730.1" y="1283.3" width="4.4" height="4.4" fill="#fff" stroke="#000" stroke-width="2" transform="rotate(0 1732.3 1285.5)"/>
<rect x="1751.9" y="1283.3" width="4.4" height="4.4" fill="#fff" stroke="#000" stroke-width="2" transform="rotate(0 1754.1 1285.5)"/>
<rect x="1745.3" y="1221.6" width="4.4" height="4.4" fill="#fff" stroke="#000" stroke-width="2" transform="rotate(0 1747.5 1223.8)"/>
<rect x="1745.3" y="1243.4" width="4.4" height="4.4" fill="#fff" stroke="#000" stroke-width="2" transform="rotate(0 1747.5 1245.6)"/>
<rect x="1751.9" y="1251.4" width="4.4" height="4.4" fill="#fff" stroke="#000" stroke-width="2" transform="rotate(0 1754.1 1253.6)"/>
<rect x="1759.9" y="1255.7" width="4.4" height="4.4" fill="#fff" stroke="#000" stroke-width="2" transform="rotate(0 1762.1 1257.9)"/>
<rect x="1759.9" y="1279.0" width="4.4" height="4.4" fill="#fff" stroke="#000" stroke-width="2" transform="rotate(0 1762.1 1281.2)"/>
<!-- 17_bot.svg -->
<defs><linearGradient id="lvA" gradientUnits="userSpaceOnUse" x1="1070" y1="0" x2="1084" y2="0"><stop offset="0" stop-color="#ffffd8"/><stop offset="1" stop-color="#ffff66"/></linearGradient></defs>
<rect x="1070.5" y="1230.7" width="58" height="18.4" fill="url(#lvA)"/>
<path fill="#ffff66" stroke="#000" stroke-width="2" d="M1080,1230.7 L1127.1,1230.7 L1127.1,1210.3 L1184.9,1210.3 L1184.9,1226.9 L1207.1,1226.9 L1213.5,1233.2 L1213.5,1246.6 L1207.1,1252.9 L1184.9,1252.9 L1184.9,1268.8 L1127.1,1268.8 L1127.1,1249.1 L1080,1249.1"/>
<path stroke="#999" stroke-width="1.4" d="M1070.5,1230.7 L1081,1230.7 M1070.5,1249.1 L1081,1249.1"/>
<path stroke="#ffff66" stroke-width="2.6" d="M1184.9,1234 L1184.9,1245.5"/>
<rect x="1143.8" y="1227.7" width="4.6" height="4.6" fill="#fff" stroke="#000" stroke-width="2" transform="rotate(0 1146.1 1230)"/>
<rect x="1143.8" y="1247.4" width="4.6" height="4.6" fill="#fff" stroke="#000" stroke-width="2" transform="rotate(0 1146.1 1249.7)"/>
<rect x="1163.5" y="1227.7" width="4.6" height="4.6" fill="#fff" stroke="#000" stroke-width="2" transform="rotate(0 1165.8 1230)"/>
<rect x="1163.5" y="1247.4" width="4.6" height="4.6" fill="#fff" stroke="#000" stroke-width="2" transform="rotate(0 1165.8 1249.7)"/>
<ellipse cx="1155.7" cy="1219.9" rx="7" ry="6" fill="#ffffd0" stroke="#f58a1f" stroke-width="1.3"/>
<defs><linearGradient id="anx" gradientUnits="userSpaceOnUse" x1="1076" y1="0" x2="1094" y2="0"><stop offset="0" stop-color="#ffff66"/><stop offset="1" stop-color="#ffffcc"/></linearGradient></defs>
<path fill="#ffff66" stroke="#000" stroke-width="2" d="M1094.9,1369.2 L1050.8,1369.2 L1050.8,1479 L1090,1479 L1090,1474 L1094.9,1474 L1094.9,1466 L1090,1466 L1090,1461 L1070.5,1461 L1070.5,1387 L1094.9,1387"/>
<rect x="1076" y="1370.2" width="19" height="15.8" fill="url(#anx)"/><path stroke="#aaa" stroke-width="1.4" d="M1078,1369.2 L1094.9,1369.2 M1078,1387 L1094.9,1387"/>
<path fill="#ffff00" stroke="#000" stroke-width="2" d="M1094.9,1355 L1184.9,1355 L1184.9,1491 L1094.9,1491 Z"/>
<rect x="1091.2" y="1351.3" width="7.4" height="7.4" fill="#e4e4e4" stroke="#000" stroke-width="2"/>
<rect x="1091.2" y="1397.3" width="7.4" height="7.4" fill="#e4e4e4" stroke="#000" stroke-width="2"/>
<rect x="1091.2" y="1443.3" width="7.4" height="7.4" fill="#e4e4e4" stroke="#000" stroke-width="2"/>
<rect x="1091.2" y="1487.3" width="7.4" height="7.4" fill="#e4e4e4" stroke="#000" stroke-width="2"/>
<rect x="1135.3" y="1351.3" width="7.4" height="7.4" fill="#e4e4e4" stroke="#000" stroke-width="2"/>
<rect x="1135.3" y="1397.3" width="7.4" height="7.4" fill="#e4e4e4" stroke="#000" stroke-width="2"/>
<rect x="1135.3" y="1443.3" width="7.4" height="7.4" fill="#e4e4e4" stroke="#000" stroke-width="2"/>
<rect x="1135.3" y="1487.3" width="7.4" height="7.4" fill="#e4e4e4" stroke="#000" stroke-width="2"/>
<rect x="1181.2" y="1351.3" width="7.4" height="7.4" fill="#e4e4e4" stroke="#000" stroke-width="2"/>
<rect x="1181.2" y="1397.3" width="7.4" height="7.4" fill="#e4e4e4" stroke="#000" stroke-width="2"/>
<rect x="1181.2" y="1443.3" width="7.4" height="7.4" fill="#e4e4e4" stroke="#000" stroke-width="2"/>
<rect x="1181.2" y="1487.3" width="7.4" height="7.4" fill="#e4e4e4" stroke="#000" stroke-width="2"/>
<path fill="#ffff00" stroke="#000" stroke-width="2" d="M1184.9,1373.0 L1194.4,1373.0 L1194.4,1366.0 L1200.0,1366.0 L1200.0,1359.0 L1206.5,1359.0 L1206.5,1351.4 L1373.0,1351.4 L1392.0,1333.0 L1437.0,1333.0 L1455.0,1351.4 L1725.0,1351.4 L1725.0,1398.0 L1743.0,1415.0 L1743.0,1505.0 L1722.0,1505.0 L1722.0,1424.0 L1704.0,1405.0 L1455.0,1405.0 L1437.0,1424.0 L1392.0,1424.0 L1373.0,1405.0 L1206.5,1405.0 L1206.5,1397.0 L1200.0,1397.0 L1200.0,1390.0 L1194.4,1390.0 L1194.4,1383.2 L1184.9,1383.2 Z"/>
<path stroke="#ffff00" stroke-width="2.6" d="M1184.9,1374.2 L1184.9,1382"/>
<path stroke="#000" stroke-width="3" d="M1212,1351.8 L1372,1351.8 M1456,1351.8 L1724,1351.8"/>
<polygon class="g" points="1404,1353 1426,1353 1440,1367 1440,1389 1426,1403 1404,1403 1389,1389 1389,1367"/>
<path class="g" d="M1234,1353 L1258,1353 C1255,1362 1250,1368 1246,1374 C1242,1366 1238,1360 1234,1353 Z"/>
<path class="g" d="M1289,1353 L1311,1353 C1306,1360 1300,1364 1298,1366 C1295,1361 1292,1357 1289,1353 Z"/>
<path class="g" d="M1265.0,1367.0 Q1268.0,1362.0 1275.0,1363.0 Q1282.0,1364.0 1286.0,1372.0 Q1290.0,1380.0 1285.0,1382.0 Q1280.0,1384.0 1274.0,1383.0 Q1268.0,1382.0 1265.0,1386.0 Q1262.0,1390.0 1259.0,1385.0 Q1256.0,1380.0 1259.0,1376.0 Q1262.0,1372.0 1265.0,1367.0 Z"/>
<path class="g" d="M1313.0,1373.0 Q1316.0,1368.0 1319.0,1378.0 Q1322.0,1388.0 1317.0,1389.0 Q1312.0,1390.0 1308.0,1389.0 Q1304.0,1388.0 1307.0,1383.0 Q1310.0,1378.0 1313.0,1373.0 Z"/>
<ellipse class="g" cx="1229" cy="1385" rx="3.5" ry="8" transform="rotate(0 1229 1385)"/>
<path class="g" d="M1250.0,1400.5 Q1250.0,1397.0 1256.0,1396.5 Q1262.0,1396.0 1269.0,1397.0 Q1276.0,1398.0 1277.0,1401.0 Q1278.0,1404.0 1264.0,1404.0 Q1250.0,1404.0 1250.0,1400.5 Z"/>
<path class="g" d="M1288.0,1402.0 Q1288.0,1400.0 1294.0,1398.5 Q1300.0,1397.0 1302.0,1400.5 Q1304.0,1404.0 1296.0,1404.0 Q1288.0,1404.0 1288.0,1402.0 Z"/>
<ellipse class="g" cx="1332" cy="1400" rx="3" ry="5" transform="rotate(0 1332 1400)"/>
<path class="g" d="M1337.0,1368.0 Q1334.0,1362.0 1343.0,1363.0 Q1352.0,1364.0 1362.0,1364.0 Q1372.0,1364.0 1381.0,1365.0 Q1390.0,1366.0 1390.0,1374.0 Q1390.0,1382.0 1381.0,1381.0 Q1372.0,1380.0 1364.0,1382.0 Q1356.0,1384.0 1350.0,1385.0 Q1344.0,1386.0 1342.0,1380.0 Q1340.0,1374.0 1337.0,1368.0 Z"/>
<path class="g" d="M1478.0,1359.5 Q1478.0,1353.0 1482.0,1354.5 Q1486.0,1356.0 1488.0,1364.0 Q1490.0,1372.0 1494.0,1382.0 Q1498.0,1392.0 1493.0,1393.0 Q1488.0,1394.0 1484.0,1388.0 Q1480.0,1382.0 1479.0,1374.0 Q1478.0,1366.0 1478.0,1359.5 Z"/>
<path class="g" d="M1504.5,1357.5 Q1503.0,1353.0 1541.5,1353.0 Q1580.0,1353.0 1580.0,1359.5 Q1580.0,1366.0 1570.0,1369.0 Q1560.0,1372.0 1547.5,1374.0 Q1535.0,1376.0 1525.0,1373.0 Q1515.0,1370.0 1510.5,1366.0 Q1506.0,1362.0 1504.5,1357.5 Z"/>
<path class="g" d="M1518.0,1390.0 Q1516.0,1386.0 1528.0,1384.0 Q1540.0,1382.0 1551.0,1380.0 Q1562.0,1378.0 1570.0,1380.0 Q1578.0,1382.0 1569.0,1386.0 Q1560.0,1390.0 1550.0,1390.0 Q1540.0,1390.0 1530.0,1392.0 Q1520.0,1394.0 1518.0,1390.0 Z"/>
<path class="g" d="M1461,1404 L1462,1392 L1466,1391 L1467,1404 Z"/>
<path class="g" d="M1597.0,1377.0 Q1596.0,1372.0 1600.0,1368.0 Q1604.0,1364.0 1610.0,1365.0 Q1616.0,1366.0 1622.0,1372.0 Q1628.0,1378.0 1623.0,1383.0 Q1618.0,1388.0 1612.0,1386.0 Q1606.0,1384.0 1602.0,1383.0 Q1598.0,1382.0 1597.0,1377.0 Z"/>
<path class="g" d="M1659.0,1379.0 Q1658.0,1374.0 1665.0,1372.0 Q1672.0,1370.0 1681.0,1371.0 Q1690.0,1372.0 1693.5,1375.0 Q1697.0,1378.0 1691.5,1381.0 Q1686.0,1384.0 1679.0,1383.0 Q1672.0,1382.0 1669.0,1385.0 Q1666.0,1388.0 1663.0,1386.0 Q1660.0,1384.0 1659.0,1379.0 Z"/>
<path class="g" d="M1636,1404 L1644,1388 L1654,1404 Z"/>
<ellipse class="g" cx="1600" cy="1400" rx="5" ry="4" transform="rotate(0 1600 1400)"/>
<rect x="1208.2" y="1352.4" width="4.2" height="4.2" fill="#fff" stroke="#000" stroke-width="2" transform="rotate(0 1210.3 1354.5)"/>
<rect x="1195.9" y="1365.8" width="4.2" height="4.2" fill="#fff" stroke="#000" stroke-width="2" transform="rotate(0 1198 1367.9)"/>
<rect x="1195.9" y="1386.9" width="4.2" height="4.2" fill="#fff" stroke="#000" stroke-width="2" transform="rotate(0 1198 1389)"/>
<rect x="1208.2" y="1399.9" width="4.2" height="4.2" fill="#fff" stroke="#000" stroke-width="2" transform="rotate(0 1210.3 1402)"/>
<rect x="1705" y="1352" width="5" height="8" fill="#e8e8e8" stroke="#000" stroke-width="1.4"/>
<rect x="1705" y="1371" width="5" height="12" fill="#e8e8e8" stroke="#000" stroke-width="1.4"/>
<rect x="1705" y="1395" width="5" height="10" fill="#e8e8e8" stroke="#000" stroke-width="1.4"/>
<path class="g" d="M1704,1405 L1710,1402 L1728,1421 L1726,1428 Z"/>
<rect x="1723" y="1438" width="5" height="22" fill="#e8e8e8" stroke="#000" stroke-width="1.4"/>
<rect x="1723" y="1468" width="5" height="18" fill="#e8e8e8" stroke="#000" stroke-width="1.4"/>
<rect x="1724.0" y="1499.0" width="4" height="4" fill="#fff" stroke="#000" stroke-width="2" transform="rotate(0 1726 1501)"/>
<!-- 50_overlay.svg -->
<rect x="313.0" y="489" width="15.45" height="16" fill="#ffffcc" stroke="#000" stroke-width="1.4"/>
<rect x="328.4" y="489" width="15.45" height="16" fill="#ffffaa" stroke="#000" stroke-width="1.4"/>
<rect x="343.9" y="489" width="15.45" height="16" fill="#ffff88" stroke="#000" stroke-width="1.4"/>
<rect x="359.4" y="489" width="15.45" height="16" fill="#ffff00" stroke="#000" stroke-width="1.4"/>
<rect x="374.8" y="489" width="15.45" height="16" fill="#ffee00" stroke="#000" stroke-width="1.4"/>
<rect x="390.2" y="489" width="15.45" height="16" fill="#ffdd00" stroke="#000" stroke-width="1.4"/>
<rect x="405.7" y="489" width="15.45" height="16" fill="#ffcc00" stroke="#000" stroke-width="1.4"/>
<rect x="421.1" y="489" width="15.45" height="16" fill="#ffbb00" stroke="#000" stroke-width="1.4"/>
<rect x="436.6" y="489" width="15.45" height="16" fill="#ffaa00" stroke="#000" stroke-width="1.4"/>
<path class="or" style="stroke-width:2.4" d="M583.3,160.3 L583.3,240.5 L669.0,240.5 M669.0,268.0 L669.0,330.0 L672.8,335.8 L705.0,354.5 L703.0,371.0 M82.8,1425.0 L82.8,1584.9 L209.2,1563.8 M82.8,1466.5 L43.6,1489.0 M1731.5,1035.5 L1948.6,1035.5 L1948.6,960.5 M1728.7,1198.4 L1844.1,1198.4"/>
<path stroke="#4848c8" stroke-width="3" d="M1731.6,1035.5 L1731.6,1268.8"/>
<path class="gp" d="M145.8,440.9 L146.0,160.3 L583.3,160.3 L583.3,128.4 L621.4,138.7 L659.0,166.6 L723.8,166.6 L741.9,89.1 L768.2,78.8 L775.1,46.6 L804.2,32.1 L837.5,46.6 L844.7,102.3 L804.2,163.5 L828.1,194.2 L810.6,231.8 L880.7,280.6 M145.8,440.9 L109.5,512.3 L110.7,524.4 L115.0,629.7 L117.3,688.6 L251.8,803.0 L369.0,784.5 L384.4,805.8 L431.0,820.5 L457.3,845.9 L515.9,869.9 L608.4,937.8 L625.1,1022.2 L660.2,1018.4 L647.2,1048.5 L673.3,1108.1 L711.6,1136.2 L877.0,1162.0 L968.4,1196.3 L967.0,1340.0 L955.0,1362.0 L962.0,1502.0 L900.0,1538.0 L917.0,1612.0 M82.6,1425.0 L82.4,1161.2 L31.2,1161.2 L31.1,1109.6 L189.2,1027.5 L384.7,1140.2 L383.3,1150.9 L373.5,1360.0 L366.5,1524.7 L232.5,1590.0 L210.0,1562.4 L210.2,1232.0 M43.6,1394.5 L82.8,1425.0 M1851.8,24.0 L1851.8,349.7 L1943.6,349.7 L1963.0,314.2 L2051.4,314.2 L2051.4,254.0 L1985.0,254.0 M1730.5,726.0 L1730.5,592.3 L1837.5,592.3 L1837.5,788.2 L1844.6,788.2 L1844.6,677.3 L1978.3,677.3 L2020.7,725.6 L2016.4,784.1 L1976.6,797.6 L1964.9,849.3 L2021.4,900.8 L1995.0,952.2 L1943.6,963.3 L1731.8,963.3 L1731.0,770.0 M1674.4,932.9 L1674.4,770.0 L1730.2,770.0"/>
<polygon fill="#1c84b4" points="146,215 151.5,225 140.5,225"/><polygon fill="#1c84b4" points="146,256 151.5,246 140.5,246"/>
<path class="nv" d="M1455.8,190.4 L1775.0,301.0 M488.6,389.6 L705.0,354.5 M1907.0,506.0 L1735.0,765.0 M660.0,1015.0 L793.0,1026.0 M212.2,1234.4 L500.0,1482.0 M1204.0,1239.6 L1216.7,1217.3"/>
<path stroke="#601020" stroke-width="0.9" d="M1764.9,1347.2 L1719,1356.7"/>
<path stroke="#e08030" stroke-width="1" d="M1686.6,664 L1781.7,1138"/>
<path stroke="#e0202a" stroke-width="3" fill="none" stroke-linejoin="round" d="M1766,310 L1675.6,421.2 L1675.6,434 L1719,1493"/>
<path class="bd" d="M917.0,299.0 C924.2,301.8 943.7,312.2 960.0,316.0 C976.3,319.8 998.3,322.0 1015.0,322.0 C1031.7,322.0 1042.5,319.7 1060.0,316.0 C1077.5,312.3 1096.7,307.3 1120.0,300.0 C1143.3,292.7 1170.0,278.7 1200.0,272.0 C1230.0,265.3 1263.3,261.0 1300.0,260.0 C1336.7,259.0 1376.7,263.8 1420.0,266.0 C1463.3,268.2 1516.7,272.0 1560.0,273.0 C1603.3,274.0 1654.2,272.3 1680.0,272.0 C1705.8,271.7 1690.0,272.8 1715.0,271.0 C1740.0,269.2 1789.2,263.7 1830.0,261.0 C1870.8,258.3 1938.3,256.0 1960.0,255.0 "/>
<polygon fill="#1c78c0" points="917.0,299.0 926.4,307.9 929.9,298.9"/>
<polygon fill="#1c78c0" points="1960.0,255.0 1947.8,250.8 1948.2,260.3"/>
<path class="bd" d="M1826.0,27.0 C1820.5,28.8 1804.8,30.0 1793.0,38.0 C1781.2,46.0 1765.5,56.3 1755.0,75.0 C1744.5,93.7 1736.2,120.7 1730.0,150.0 C1723.8,179.3 1720.6,226.0 1717.6,251.0 C1714.6,276.0 1713.3,275.2 1712.0,300.0 C1710.7,324.8 1711.0,363.3 1709.5,400.0 C1708.0,436.7 1705.0,478.8 1703.0,520.0 C1701.0,561.2 1697.9,620.3 1697.6,647.0 C1697.3,673.7 1698.6,669.2 1701.0,680.0 C1703.4,690.8 1710.2,706.7 1712.0,712.0 "/>
<polygon fill="#1c78c0" points="1826.0,27.0 1813.1,26.2 1816.1,35.3"/>
<polygon fill="#1c78c0" points="1712.0,712.0 1712.6,699.1 1703.6,702.2"/>
<path class="bd" d="M786.8,223.0 C790.8,227.6 798.3,238.3 810.6,250.6 C822.9,262.9 848.6,284.9 860.7,297.0 C872.8,309.1 874.6,314.9 883.0,323.0 C891.4,331.1 897.8,337.8 910.8,345.8 C923.8,353.8 940.0,364.5 960.9,370.8 C981.8,377.1 1009.5,380.0 1036.0,383.4 C1062.5,386.8 1096.0,390.1 1120.0,391.0 C1144.0,391.9 1163.7,390.1 1180.0,389.0 C1196.3,387.9 1211.4,385.3 1217.7,384.6 "/>
<polygon fill="#1c78c0" points="786.8,223.0 791.0,235.2 798.3,229.0"/>
<polygon fill="#1c78c0" points="1217.7,384.6 1205.2,381.2 1206.3,390.8"/>
<path class="bd" d="M1745.0,299.5 C1738.3,300.2 1721.3,301.5 1705.0,304.0 C1688.7,306.5 1671.2,309.9 1647.0,314.7 C1622.8,319.5 1587.8,327.1 1560.0,333.0 C1532.2,338.9 1507.4,343.7 1480.0,350.0 C1452.6,356.3 1425.1,360.3 1395.6,370.8 C1366.1,381.3 1348.9,391.4 1303.0,413.0 C1257.1,434.6 1174.9,471.8 1120.0,500.4 C1065.1,529.0 1020.8,555.0 973.4,584.4 C926.0,613.8 883.6,645.3 835.6,677.0 C787.6,708.7 731.2,744.1 685.3,774.8 C639.4,805.5 600.9,832.1 560.0,861.0 C519.1,889.9 470.7,927.2 440.0,948.4 C409.3,969.6 403.2,970.0 375.8,988.4 C348.4,1006.8 306.7,1033.2 275.6,1058.5 C244.5,1083.8 215.3,1115.4 189.4,1140.0 C163.5,1164.6 142.2,1183.2 120.2,1206.0 C98.2,1228.8 73.0,1256.5 57.2,1277.0 C41.5,1297.5 33.3,1309.8 25.7,1328.9 C18.1,1348.0 13.4,1373.0 11.6,1391.8 C9.8,1410.6 13.8,1428.4 15.0,1442.0 C16.2,1455.6 18.2,1468.2 18.8,1473.4 "/>
<polygon fill="#1c78c0" points="1745.0,299.5 1732.5,296.1 1733.6,305.6"/>
<polygon fill="#1c78c0" points="18.8,1473.4 22.1,1460.9 12.6,1462.1"/>
<path class="bd" d="M707.8,391.0 C712.3,394.8 703.0,393.3 735.0,414.0 C767.0,434.7 835.8,476.4 900.0,515.0 C964.2,553.6 1070.8,620.9 1120.0,645.8 C1169.2,670.7 1170.0,659.6 1195.0,664.6 C1220.0,669.6 1245.0,674.1 1270.0,675.8 C1295.0,677.5 1320.0,676.9 1345.0,674.6 C1370.0,672.3 1394.8,667.8 1420.0,662.0 C1445.2,656.2 1470.8,649.7 1496.0,640.0 C1521.2,630.3 1547.0,623.1 1571.0,604.0 C1595.0,584.9 1613.8,559.4 1640.0,525.4 C1666.2,491.4 1709.2,427.1 1728.0,400.0 C1746.8,372.9 1748.8,369.2 1753.0,363.0 "/>
<polygon fill="#1c78c0" points="707.8,391.0 713.9,402.4 720.1,395.1"/>
<polygon fill="#1c78c0" points="1753.0,363.0 1742.3,370.3 1750.3,375.6"/>
<path class="bd" d="M85.0,1407.8 C87.5,1407.3 76.7,1407.2 100.0,1404.6 C123.3,1402.0 179.2,1396.6 225.0,1392.0 C270.8,1387.4 319.2,1383.9 375.0,1377.0 C430.8,1370.1 495.8,1362.9 560.0,1350.8 C624.2,1338.7 693.3,1321.4 760.0,1304.5 C826.7,1287.6 900.0,1266.3 960.0,1249.5 C1020.0,1232.7 1064.2,1221.8 1120.0,1203.8 C1175.8,1185.8 1236.5,1164.6 1295.0,1141.2 C1353.5,1117.8 1420.6,1085.6 1470.8,1063.5 C1521.0,1041.4 1566.8,1022.6 1596.0,1008.4 C1625.2,994.2 1632.8,986.6 1646.0,978.3 C1659.2,969.9 1670.2,961.6 1675.0,958.3 "/>
<polygon fill="#1c78c0" points="85.0,1407.8 97.7,1410.0 95.7,1400.6"/>
<polygon fill="#1c78c0" points="1675.0,958.3 1662.4,961.2 1667.8,969.1"/>
<path class="bd" d="M669.3,246.5 L669.3,198.0"/>
<polygon fill="#1c78c0" points="669.3,198.0 664.5,210.0 674.1,210.0"/>
<polygon fill="#1c78c0" points="669.3,253.0 671.7,247.0 666.9,247.0"/>
<path class="bd" d="M2048.6,907.0 C2052.5,908.3 2063.5,913.2 2072.0,915.0 C2080.5,916.8 2089.8,918.0 2099.5,918.0 C2109.2,918.0 2119.8,916.8 2130.0,915.0 C2140.2,913.2 2155.4,908.3 2160.5,907.0 "/>
<polygon fill="#1c78c0" points="2048.6,907.0 2058.4,915.4 2061.5,906.3"/>
<polygon fill="#1c78c0" points="2160.5,907.0 2147.7,905.4 2150.1,914.7"/>
<path class="bd" d="M1075.6,1262.4 C1073.8,1266.2 1067.3,1277.0 1065.0,1285.0 C1062.7,1293.0 1062.0,1302.0 1062.0,1310.7 C1062.0,1319.4 1062.8,1329.0 1065.0,1337.0 C1067.2,1345.0 1073.3,1355.3 1075.0,1359.0 "/>
<polygon fill="#1c78c0" points="1075.6,1262.4 1066.2,1271.2 1074.9,1275.3"/>
<polygon fill="#1c78c0" points="1075.0,1359.0 1074.4,1346.1 1065.7,1350.1"/>
<path class="rdd" d="M20.3,1506.4 C21.1,1514.5 20.1,1539.6 25.0,1554.7 C29.9,1569.8 37.5,1585.3 50.0,1597.0 C62.5,1608.7 79.2,1617.6 100.0,1624.7 C120.8,1631.8 145.8,1636.4 175.0,1639.7 C204.2,1643.0 241.7,1644.3 275.0,1644.7 C308.3,1645.1 327.5,1644.5 375.0,1642.0 C422.5,1639.5 473.7,1636.7 560.0,1630.0 C646.3,1623.3 799.4,1609.2 892.7,1602.0 C986.0,1594.8 1053.8,1594.0 1120.0,1587.0 C1186.2,1580.0 1210.0,1571.4 1290.0,1559.7 C1370.0,1548.0 1533.8,1528.2 1600.0,1517.0 C1666.2,1505.8 1672.9,1496.4 1687.5,1492.3 "/>
<polygon fill="#e0202a" points="1687.5,1492.3 1674.6,1490.9 1677.3,1500.2"/>
<path class="rdd" d="M1160.0,1210.0 C1165.0,1198.3 1180.8,1166.7 1190.0,1140.0 C1199.2,1113.3 1208.3,1076.7 1215.0,1050.0 C1221.7,1023.3 1227.3,995.8 1230.0,980.0 C1232.7,964.2 1232.0,963.3 1231.0,955.0 C1230.0,946.7 1227.5,937.3 1224.0,930.0 C1220.5,922.7 1216.5,916.5 1210.0,911.0 C1203.5,905.5 1191.8,900.5 1185.0,897.0 C1178.2,893.5 1171.7,891.2 1169.0,890.0 "/>
<polygon fill="#e0202a" points="1169.0,890.0 1178.1,899.2 1181.9,890.4"/>
<path class="rdd" d="M1854.0,899.5 C1851.2,901.6 1842.0,907.2 1837.0,912.0 C1832.0,916.8 1828.0,920.2 1824.0,928.0 C1820.0,935.8 1815.5,948.0 1813.0,959.0 C1810.5,970.0 1809.4,981.5 1809.0,994.0 C1808.6,1006.5 1809.3,1021.5 1810.6,1034.0 C1811.9,1046.5 1813.8,1058.8 1817.0,1069.0 C1820.2,1079.2 1822.9,1084.3 1830.0,1095.0 C1837.1,1105.7 1854.5,1126.7 1859.4,1133.0 "/>
<polygon fill="#e0202a" points="1859.4,1133.0 1855.9,1120.6 1848.3,1126.4"/>
<path class="rdd" d="M1895.0,1098.9 C1897.4,1104.2 1905.9,1119.4 1909.5,1130.8 C1913.1,1142.2 1916.2,1156.2 1916.7,1167.1 C1917.2,1178.0 1915.5,1185.3 1912.4,1196.2 C1909.3,1207.1 1905.4,1219.2 1897.9,1232.5 C1890.4,1245.8 1872.5,1268.8 1867.4,1276.0 "/>
<polygon fill="#e0202a" points="1867.4,1276.0 1878.2,1268.9 1870.4,1263.4"/>
<path class="mg" d="M145.3,125.3 L159.1,100.2 M458.5,109.0 L474.8,156.6 M219.6,184.7 L242.5,198.9 M265.6,285.6 L281.9,308.2 M246.0,271.0 L249.0,266.0 M459.8,248.0 L458.5,283.0 M23.8,449.0 L37.0,410.0 M649.0,46.4 L682.8,99.0 M864.4,61.4 L890.7,60.0 M850.7,137.8 L864.4,164.0 M878.0,231.8 L900.8,218.5 M705.3,230.5 L737.9,325.7 M680.3,208.0 L610.0,310.7 M885.7,377.0 L919.6,347.0 M680.3,535.5 L652.7,551.8 M782.0,737.0 L881.0,712.0 M1150.0,690.0 L1255.0,719.0 M70.6,711.9 L58.6,743.9 M195.4,825.0 L164.0,854.3 M248.3,948.8 L279.0,967.6 M114.0,969.0 L127.2,992.6 M403.5,1093.6 L480.8,1040.0 M602.6,924.5 L729.1,948.3 M830.1,1097.4 L826.8,1151.2 M1014.8,898.2 L973.4,992.1 M691.5,1138.7 L684.5,1183.8 M417.8,1176.0 L495.2,1372.0 M433.4,1164.8 L500.2,1372.0 M519.7,1221.9 L547.6,1274.8 M143.1,1530.4 L167.1,1603.8 M1573.5,707.2 L1584.8,789.8 M1507.1,746.0 L1525.9,783.6 M1339.2,764.8 L1403.0,840.5 M1325.5,792.3 L1388.0,850.5 M1492.6,905.0 L1443.2,855.0 M1492.6,905.0 L1465.1,838.8 M1492.6,905.0 L1487.0,853.8 M1413.7,933.2 L1412.7,965.8 M1625.6,792.9 L1619.3,937.7 M1953.0,354.4 L1960.3,381.2 M1887.3,421.4 L1904.0,432.8 M1859.8,404.0 L1842.4,450.2 M1780.4,577.2 L1771.6,550.8 M2100.3,819.7 L2076.6,750.2 M2174.9,770.5 L2178.8,745.9 M2199.5,882.4 L2164.4,949.7 M1959.5,806.3 L1926.5,813.4 M1755.3,879.5 L1775.4,858.0 M1888.3,1069.0 L1919.7,1090.3 M1806.4,1164.2 L1838.3,1185.3 M1864.5,1194.7 L1918.2,1221.6 M1662.5,1196.3 L1697.4,1228.0 M1292.6,1308.3 L1283.9,1377.0 M1239.0,1390.0 L1243.0,1405.0 M1290.0,1395.0 L1284.0,1410.0 M1524.0,1320.8 L1497.7,1347.0 M1587.0,1392.0 L1586.0,1405.0"/>
<rect x="142.3" y="126.3" width="7.4" height="7.4" rx="0.8" fill="#f00505" stroke="#b00000" stroke-width="1"/>
<rect x="210.3" y="178.3" width="7.4" height="7.4" rx="0.8" fill="#f00505" stroke="#b00000" stroke-width="1"/>
<rect x="260.3" y="278.3" width="7.4" height="7.4" rx="0.8" fill="#f00505" stroke="#b00000" stroke-width="1"/>
<rect x="456.3" y="239.3" width="7.4" height="7.4" rx="0.8" fill="#f00505" stroke="#b00000" stroke-width="1"/>
<rect x="18.3" y="452.3" width="7.4" height="7.4" rx="0.8" fill="#f00505" stroke="#b00000" stroke-width="1"/>
<rect x="68.3" y="702.3" width="7.4" height="7.4" rx="0.8" fill="#f00505" stroke="#b00000" stroke-width="1"/>
<rect x="196.1" y="816.1" width="7.4" height="7.4" rx="0.8" fill="#f00505" stroke="#b00000" stroke-width="1"/>
<rect x="682.3" y="99.3" width="7.4" height="7.4" rx="0.8" fill="#f00505" stroke="#b00000" stroke-width="1"/>
<rect x="678.3" y="201.3" width="7.4" height="7.4" rx="0.8" fill="#f00505" stroke="#b00000" stroke-width="1"/>
<rect x="702.3" y="224.3" width="7.4" height="7.4" rx="0.8" fill="#f00505" stroke="#b00000" stroke-width="1"/>
<rect x="846.3" y="130.3" width="7.4" height="7.4" rx="0.8" fill="#f00505" stroke="#b00000" stroke-width="1"/>
<rect x="869.3" y="233.3" width="7.4" height="7.4" rx="0.8" fill="#f00505" stroke="#b00000" stroke-width="1"/>
<rect x="858.3" y="58.3" width="7.4" height="7.4" rx="0.8" fill="#f00505" stroke="#b00000" stroke-width="1"/>
<rect x="682.3" y="530.3" width="7.4" height="7.4" rx="0.8" fill="#f00505" stroke="#b00000" stroke-width="1"/>
<rect x="592.3" y="920.3" width="7.4" height="7.4" rx="0.8" fill="#f00505" stroke="#b00000" stroke-width="1"/>
<rect x="688.3" y="1129.3" width="7.4" height="7.4" rx="0.8" fill="#f00505" stroke="#b00000" stroke-width="1"/>
<rect x="1014.5" y="892.0" width="7.4" height="7.4" rx="0.8" fill="#f00505" stroke="#b00000" stroke-width="1"/>
<rect x="124.2" y="994.5" width="7.4" height="7.4" rx="0.8" fill="#f00505" stroke="#b00000" stroke-width="1"/>
<rect x="396.3" y="1094.5" width="7.4" height="7.4" rx="0.8" fill="#f00505" stroke="#b00000" stroke-width="1"/>
<rect x="428.3" y="1158.3" width="7.4" height="7.4" rx="0.8" fill="#f00505" stroke="#b00000" stroke-width="1"/>
<rect x="414.1" y="1170.6" width="7.4" height="7.4" rx="0.8" fill="#f00505" stroke="#b00000" stroke-width="1"/>
<rect x="514.2" y="1214.3" width="7.4" height="7.4" rx="0.8" fill="#f00505" stroke="#b00000" stroke-width="1"/>
<rect x="136.5" y="1520.4" width="7.4" height="7.4" rx="0.8" fill="#f00505" stroke="#b00000" stroke-width="1"/>
<rect x="1952.2" y="344.3" width="7.4" height="7.4" rx="0.8" fill="#f00505" stroke="#b00000" stroke-width="1"/>
<rect x="1858.1" y="394.3" width="7.4" height="7.4" rx="0.8" fill="#f00505" stroke="#b00000" stroke-width="1"/>
<rect x="1880.3" y="414.3" width="7.4" height="7.4" rx="0.8" fill="#f00505" stroke="#b00000" stroke-width="1"/>
<rect x="1524.3" y="786.3" width="7.4" height="7.4" rx="0.8" fill="#f00505" stroke="#b00000" stroke-width="1"/>
<rect x="1582.1" y="792.0" width="7.4" height="7.4" rx="0.8" fill="#f00505" stroke="#b00000" stroke-width="1"/>
<rect x="1482.3" y="844.3" width="7.4" height="7.4" rx="0.8" fill="#f00505" stroke="#b00000" stroke-width="1"/>
<rect x="1622.2" y="784.4" width="7.4" height="7.4" rx="0.8" fill="#f00505" stroke="#b00000" stroke-width="1"/>
<rect x="1386.4" y="848.2" width="7.4" height="7.4" rx="0.8" fill="#f00505" stroke="#b00000" stroke-width="1"/>
<rect x="1402.4" y="840.1" width="7.4" height="7.4" rx="0.8" fill="#f00505" stroke="#b00000" stroke-width="1"/>
<rect x="1436.2" y="848.2" width="7.4" height="7.4" rx="0.8" fill="#f00505" stroke="#b00000" stroke-width="1"/>
<rect x="1460.2" y="828.2" width="7.4" height="7.4" rx="0.8" fill="#f00505" stroke="#b00000" stroke-width="1"/>
<rect x="1482.4" y="844.2" width="7.4" height="7.4" rx="0.8" fill="#f00505" stroke="#b00000" stroke-width="1"/>
<rect x="1410.4" y="926.1" width="7.4" height="7.4" rx="0.8" fill="#f00505" stroke="#b00000" stroke-width="1"/>
<rect x="1778.0" y="580.5" width="7.4" height="7.4" rx="0.8" fill="#f00505" stroke="#b00000" stroke-width="1"/>
<rect x="1960.2" y="802.4" width="7.4" height="7.4" rx="0.8" fill="#f00505" stroke="#b00000" stroke-width="1"/>
<rect x="2102.2" y="826.1" width="7.4" height="7.4" rx="0.8" fill="#f00505" stroke="#b00000" stroke-width="1"/>
<rect x="2196.1" y="874.1" width="7.4" height="7.4" rx="0.8" fill="#f00505" stroke="#b00000" stroke-width="1"/>
<rect x="1748.2" y="880.4" width="7.4" height="7.4" rx="0.8" fill="#f00505" stroke="#b00000" stroke-width="1"/>
<rect x="1882.2" y="1062.0" width="7.4" height="7.4" rx="0.8" fill="#f00505" stroke="#b00000" stroke-width="1"/>
<rect x="1837.8" y="1188.4" width="7.4" height="7.4" rx="0.8" fill="#f00505" stroke="#b00000" stroke-width="1"/>
<rect x="1852.0" y="1190.3" width="7.4" height="7.4" rx="0.8" fill="#f00505" stroke="#b00000" stroke-width="1"/>
<rect x="1698.4" y="1226.2" width="7.4" height="7.4" rx="0.8" fill="#f00505" stroke="#b00000" stroke-width="1"/>
<rect x="1278.4" y="1375.9" width="7.4" height="7.4" rx="0.8" fill="#f00505" stroke="#b00000" stroke-width="1"/>
<rect x="1492.3" y="1352.1" width="7.4" height="7.4" rx="0.8" fill="#f00505" stroke="#b00000" stroke-width="1"/>
<rect x="1841.0" y="33.0" width="12" height="6" rx="0.8" fill="#f00505" stroke="#b00000" stroke-width="1"/>
<rect x="1721.7" y="921.2" width="13" height="5.5" rx="0.8" fill="#f00505" stroke="#b00000" stroke-width="1"/>
<rect x="126.2" y="206.1" width="7.8" height="7.8" fill="#8a149a"/><rect x="128.4" y="208.3" width="3.4" height="3.4" rx="1.2" fill="#fff"/>
<rect x="155.8" y="204.2" width="7.8" height="7.8" fill="#8a149a"/><rect x="158.0" y="206.4" width="3.4" height="3.4" rx="1.2" fill="#fff"/>
<rect x="126.2" y="228.2" width="7.8" height="7.8" fill="#8a149a"/><rect x="128.4" y="230.4" width="3.4" height="3.4" rx="1.2" fill="#fff"/>
<rect x="154.2" y="229.8" width="7.8" height="7.8" fill="#8a149a"/><rect x="156.4" y="232.0" width="3.4" height="3.4" rx="1.2" fill="#fff"/>
<rect x="199.9" y="253.8" width="7.8" height="7.8" fill="#8a149a"/><rect x="202.1" y="256.0" width="3.4" height="3.4" rx="1.2" fill="#fff"/>
<rect x="142.2" y="260.3" width="7.8" height="7.8" fill="#8a149a"/><rect x="144.4" y="262.5" width="3.4" height="3.4" rx="1.2" fill="#fff"/>
<rect x="117.9" y="269.6" width="7.8" height="7.8" fill="#8a149a"/><rect x="120.1" y="271.8" width="3.4" height="3.4" rx="1.2" fill="#fff"/>
<rect x="166.2" y="268.0" width="7.8" height="7.8" fill="#8a149a"/><rect x="168.4" y="270.2" width="3.4" height="3.4" rx="1.2" fill="#fff"/>
<rect x="241.9" y="279.9" width="7.8" height="7.8" fill="#8a149a"/><rect x="244.1" y="282.1" width="3.4" height="3.4" rx="1.2" fill="#fff"/>
<rect x="126.1" y="287.6" width="7.8" height="7.8" fill="#8a149a"/><rect x="128.3" y="289.8" width="3.4" height="3.4" rx="1.2" fill="#fff"/>
<rect x="155.8" y="286.5" width="7.8" height="7.8" fill="#8a149a"/><rect x="158.0" y="288.7" width="3.4" height="3.4" rx="1.2" fill="#fff"/>
<rect x="474.1" y="160.1" width="7.8" height="7.8" fill="#8a149a"/><rect x="476.3" y="162.3" width="3.4" height="3.4" rx="1.2" fill="#fff"/>
<rect x="516.1" y="159.1" width="7.8" height="7.8" fill="#8a149a"/><rect x="518.3" y="161.3" width="3.4" height="3.4" rx="1.2" fill="#fff"/>
<rect x="633.9" y="193.9" width="7.8" height="7.8" fill="#8a149a"/><rect x="636.1" y="196.1" width="3.4" height="3.4" rx="1.2" fill="#fff"/>
<rect x="727.7" y="96.1" width="7.8" height="7.8" fill="#8a149a"/><rect x="729.9" y="98.3" width="3.4" height="3.4" rx="1.2" fill="#fff"/>
<rect x="754.1" y="90.0" width="7.8" height="7.8" fill="#8a149a"/><rect x="756.3" y="92.2" width="3.4" height="3.4" rx="1.2" fill="#fff"/>
<rect x="718.1" y="117.9" width="7.8" height="7.8" fill="#8a149a"/><rect x="720.3" y="120.1" width="3.4" height="3.4" rx="1.2" fill="#fff"/>
<rect x="738.0" y="114.0" width="7.8" height="7.8" fill="#8a149a"/><rect x="740.2" y="116.2" width="3.4" height="3.4" rx="1.2" fill="#fff"/>
<rect x="705.9" y="211.7" width="7.8" height="7.8" fill="#8a149a"/><rect x="708.1" y="213.9" width="3.4" height="3.4" rx="1.2" fill="#fff"/>
<rect x="730.2" y="210.1" width="7.8" height="7.8" fill="#8a149a"/><rect x="732.4" y="212.3" width="3.4" height="3.4" rx="1.2" fill="#fff"/>
<rect x="721.9" y="227.8" width="7.8" height="7.8" fill="#8a149a"/><rect x="724.1" y="230.0" width="3.4" height="3.4" rx="1.2" fill="#fff"/>
<rect x="818.2" y="80.3" width="7.8" height="7.8" fill="#8a149a"/><rect x="820.4" y="82.5" width="3.4" height="3.4" rx="1.2" fill="#fff"/>
<rect x="849.9" y="86.0" width="7.8" height="7.8" fill="#8a149a"/><rect x="852.1" y="88.2" width="3.4" height="3.4" rx="1.2" fill="#fff"/>
<rect x="827.9" y="132.0" width="7.8" height="7.8" fill="#8a149a"/><rect x="830.1" y="134.2" width="3.4" height="3.4" rx="1.2" fill="#fff"/>
<rect x="801.6" y="204.1" width="7.8" height="7.8" fill="#8a149a"/><rect x="803.8" y="206.3" width="3.4" height="3.4" rx="1.2" fill="#fff"/>
<rect x="785.9" y="253.7" width="7.8" height="7.8" fill="#8a149a"/><rect x="788.1" y="255.9" width="3.4" height="3.4" rx="1.2" fill="#fff"/>
<rect x="823.7" y="273.7" width="7.8" height="7.8" fill="#8a149a"/><rect x="825.9" y="275.9" width="3.4" height="3.4" rx="1.2" fill="#fff"/>
<rect x="861.8" y="275.5" width="7.8" height="7.8" fill="#8a149a"/><rect x="864.0" y="277.7" width="3.4" height="3.4" rx="1.2" fill="#fff"/>
<rect x="828.0" y="301.8" width="7.8" height="7.8" fill="#8a149a"/><rect x="830.2" y="304.0" width="3.4" height="3.4" rx="1.2" fill="#fff"/>
<rect x="116.4" y="539.9" width="7.8" height="7.8" fill="#8a149a"/><rect x="118.6" y="542.1" width="3.4" height="3.4" rx="1.2" fill="#fff"/>
<rect x="103.8" y="591.8" width="7.8" height="7.8" fill="#8a149a"/><rect x="106.0" y="594.0" width="3.4" height="3.4" rx="1.2" fill="#fff"/>
<rect x="80.1" y="686.1" width="7.8" height="7.8" fill="#8a149a"/><rect x="82.3" y="688.3" width="3.4" height="3.4" rx="1.2" fill="#fff"/>
<rect x="142.0" y="785.9" width="7.8" height="7.8" fill="#8a149a"/><rect x="144.2" y="788.1" width="3.4" height="3.4" rx="1.2" fill="#fff"/>
<rect x="351.9" y="770.0" width="7.8" height="7.8" fill="#8a149a"/><rect x="354.1" y="772.2" width="3.4" height="3.4" rx="1.2" fill="#fff"/>
<rect x="516.0" y="860.0" width="7.8" height="7.8" fill="#8a149a"/><rect x="518.2" y="862.2" width="3.4" height="3.4" rx="1.2" fill="#fff"/>
<rect x="597.9" y="884.0" width="7.8" height="7.8" fill="#8a149a"/><rect x="600.1" y="886.2" width="3.4" height="3.4" rx="1.2" fill="#fff"/>
<rect x="686.1" y="542.1" width="7.8" height="7.8" fill="#8a149a"/><rect x="688.3" y="544.3" width="3.4" height="3.4" rx="1.2" fill="#fff"/>
<rect x="684.1" y="638.1" width="7.8" height="7.8" fill="#8a149a"/><rect x="686.3" y="640.3" width="3.4" height="3.4" rx="1.2" fill="#fff"/>
<rect x="682.1" y="658.1" width="7.8" height="7.8" fill="#8a149a"/><rect x="684.3" y="660.3" width="3.4" height="3.4" rx="1.2" fill="#fff"/>
<rect x="822.1" y="1151.1" width="7.8" height="7.8" fill="#8a149a"/><rect x="824.3" y="1153.3" width="3.4" height="3.4" rx="1.2" fill="#fff"/>
<rect x="959.1" y="1172.1" width="7.8" height="7.8" fill="#8a149a"/><rect x="961.3" y="1174.3" width="3.4" height="3.4" rx="1.2" fill="#fff"/>
<rect x="277.8" y="966.5" width="7.8" height="7.8" fill="#8a149a"/><rect x="280.0" y="968.7" width="3.4" height="3.4" rx="1.2" fill="#fff"/>
<rect x="268.1" y="1052.1" width="7.8" height="7.8" fill="#8a149a"/><rect x="270.3" y="1054.3" width="3.4" height="3.4" rx="1.2" fill="#fff"/>
<rect x="62.0" y="1142.6" width="7.8" height="7.8" fill="#8a149a"/><rect x="64.2" y="1144.8" width="3.4" height="3.4" rx="1.2" fill="#fff"/>
<rect x="386.1" y="1236.1" width="7.8" height="7.8" fill="#8a149a"/><rect x="388.3" y="1238.3" width="3.4" height="3.4" rx="1.2" fill="#fff"/>
<rect x="369.4" y="1260.1" width="7.8" height="7.8" fill="#8a149a"/><rect x="371.6" y="1262.3" width="3.4" height="3.4" rx="1.2" fill="#fff"/>
<rect x="514.0" y="1170.4" width="7.8" height="7.8" fill="#8a149a"/><rect x="516.2" y="1172.6" width="3.4" height="3.4" rx="1.2" fill="#fff"/>
<rect x="491.9" y="1198.2" width="7.8" height="7.8" fill="#8a149a"/><rect x="494.1" y="1200.4" width="3.4" height="3.4" rx="1.2" fill="#fff"/>
<rect x="387.9" y="1388.1" width="7.8" height="7.8" fill="#8a149a"/><rect x="390.1" y="1390.3" width="3.4" height="3.4" rx="1.2" fill="#fff"/>
<rect x="354.1" y="1403.9" width="7.8" height="7.8" fill="#8a149a"/><rect x="356.3" y="1406.1" width="3.4" height="3.4" rx="1.2" fill="#fff"/>
<rect x="374.0" y="1408.0" width="7.8" height="7.8" fill="#8a149a"/><rect x="376.2" y="1410.2" width="3.4" height="3.4" rx="1.2" fill="#fff"/>
<rect x="360.1" y="1424.0" width="7.8" height="7.8" fill="#8a149a"/><rect x="362.3" y="1426.2" width="3.4" height="3.4" rx="1.2" fill="#fff"/>
<rect x="67.8" y="1296.3" width="7.8" height="7.8" fill="#8a149a"/><rect x="70.0" y="1298.5" width="3.4" height="3.4" rx="1.2" fill="#fff"/>
<rect x="84.0" y="1296.3" width="7.8" height="7.8" fill="#8a149a"/><rect x="86.2" y="1298.5" width="3.4" height="3.4" rx="1.2" fill="#fff"/>
<rect x="206.0" y="1164.4" width="7.8" height="7.8" fill="#8a149a"/><rect x="208.2" y="1166.6" width="3.4" height="3.4" rx="1.2" fill="#fff"/>
<rect x="1050.1" y="890.1" width="7.8" height="7.8" fill="#8a149a"/><rect x="1052.3" y="892.3" width="3.4" height="3.4" rx="1.2" fill="#fff"/>
<rect x="1174.0" y="955.8" width="7.8" height="7.8" fill="#8a149a"/><rect x="1176.2" y="958.0" width="3.4" height="3.4" rx="1.2" fill="#fff"/>
<rect x="1174.0" y="968.1" width="7.8" height="7.8" fill="#8a149a"/><rect x="1176.2" y="970.3" width="3.4" height="3.4" rx="1.2" fill="#fff"/>
<rect x="1635.8" y="788.2" width="7.8" height="7.8" fill="#8a149a"/><rect x="1638.0" y="790.4" width="3.4" height="3.4" rx="1.2" fill="#fff"/>
<rect x="1648.0" y="801.9" width="7.8" height="7.8" fill="#8a149a"/><rect x="1650.2" y="804.1" width="3.4" height="3.4" rx="1.2" fill="#fff"/>
<rect x="1630.0" y="808.2" width="7.8" height="7.8" fill="#8a149a"/><rect x="1632.2" y="810.4" width="3.4" height="3.4" rx="1.2" fill="#fff"/>
<rect x="1840.1" y="42.1" width="7.8" height="7.8" fill="#8a149a"/><rect x="1842.3" y="44.3" width="3.4" height="3.4" rx="1.2" fill="#fff"/>
<rect x="1848.1" y="88.1" width="7.8" height="7.8" fill="#8a149a"/><rect x="1850.3" y="90.3" width="3.4" height="3.4" rx="1.2" fill="#fff"/>
<rect x="1853.9" y="336.1" width="7.8" height="7.8" fill="#8a149a"/><rect x="1856.1" y="338.3" width="3.4" height="3.4" rx="1.2" fill="#fff"/>
<rect x="1853.9" y="351.9" width="7.8" height="7.8" fill="#8a149a"/><rect x="1856.1" y="354.1" width="3.4" height="3.4" rx="1.2" fill="#fff"/>
<rect x="1983.9" y="309.6" width="7.8" height="7.8" fill="#8a149a"/><rect x="1986.1" y="311.8" width="3.4" height="3.4" rx="1.2" fill="#fff"/>
<rect x="2002.0" y="318.1" width="7.8" height="7.8" fill="#8a149a"/><rect x="2004.2" y="320.3" width="3.4" height="3.4" rx="1.2" fill="#fff"/>
<rect x="1991.9" y="326.0" width="7.8" height="7.8" fill="#8a149a"/><rect x="1994.1" y="328.2" width="3.4" height="3.4" rx="1.2" fill="#fff"/>
<rect x="1973.8" y="330.0" width="7.8" height="7.8" fill="#8a149a"/><rect x="1976.0" y="332.2" width="3.4" height="3.4" rx="1.2" fill="#fff"/>
<rect x="1962.1" y="344.1" width="7.8" height="7.8" fill="#8a149a"/><rect x="1964.3" y="346.3" width="3.4" height="3.4" rx="1.2" fill="#fff"/>
<rect x="1818.0" y="402.4" width="7.8" height="7.8" fill="#8a149a"/><rect x="1820.2" y="404.6" width="3.4" height="3.4" rx="1.2" fill="#fff"/>
<rect x="1859.9" y="420.2" width="7.8" height="7.8" fill="#8a149a"/><rect x="1862.1" y="422.4" width="3.4" height="3.4" rx="1.2" fill="#fff"/>
<rect x="1725.8" y="589.9" width="7.8" height="7.8" fill="#8a149a"/><rect x="1728.0" y="592.1" width="3.4" height="3.4" rx="1.2" fill="#fff"/>
<rect x="1825.8" y="593.9" width="7.8" height="7.8" fill="#8a149a"/><rect x="1828.0" y="596.1" width="3.4" height="3.4" rx="1.2" fill="#fff"/>
<rect x="1945.9" y="581.6" width="7.8" height="7.8" fill="#8a149a"/><rect x="1948.1" y="583.8" width="3.4" height="3.4" rx="1.2" fill="#fff"/>
<rect x="1945.9" y="624.1" width="7.8" height="7.8" fill="#8a149a"/><rect x="1948.1" y="626.3" width="3.4" height="3.4" rx="1.2" fill="#fff"/>
<rect x="1829.4" y="671.8" width="7.8" height="7.8" fill="#8a149a"/><rect x="1831.6" y="674.0" width="3.4" height="3.4" rx="1.2" fill="#fff"/>
<rect x="1884.0" y="770.2" width="7.8" height="7.8" fill="#8a149a"/><rect x="1886.2" y="772.4" width="3.4" height="3.4" rx="1.2" fill="#fff"/>
<rect x="1867.8" y="793.8" width="7.8" height="7.8" fill="#8a149a"/><rect x="1870.0" y="796.0" width="3.4" height="3.4" rx="1.2" fill="#fff"/>
<rect x="1970.2" y="843.7" width="7.8" height="7.8" fill="#8a149a"/><rect x="1972.4" y="845.9" width="3.4" height="3.4" rx="1.2" fill="#fff"/>
<rect x="1976.1" y="866.3" width="7.8" height="7.8" fill="#8a149a"/><rect x="1978.3" y="868.5" width="3.4" height="3.4" rx="1.2" fill="#fff"/>
<rect x="2170.2" y="772.2" width="7.8" height="7.8" fill="#8a149a"/><rect x="2172.4" y="774.4" width="3.4" height="3.4" rx="1.2" fill="#fff"/>
<rect x="2124.1" y="784.4" width="7.8" height="7.8" fill="#8a149a"/><rect x="2126.3" y="786.6" width="3.4" height="3.4" rx="1.2" fill="#fff"/>
<rect x="2120.2" y="804.2" width="7.8" height="7.8" fill="#8a149a"/><rect x="2122.4" y="806.4" width="3.4" height="3.4" rx="1.2" fill="#fff"/>
<rect x="2215.9" y="848.0" width="7.8" height="7.8" fill="#8a149a"/><rect x="2218.1" y="850.2" width="3.4" height="3.4" rx="1.2" fill="#fff"/>
<rect x="1775.9" y="949.9" width="7.8" height="7.8" fill="#8a149a"/><rect x="1778.1" y="952.1" width="3.4" height="3.4" rx="1.2" fill="#fff"/>
<rect x="1718.0" y="976.0" width="7.8" height="7.8" fill="#8a149a"/><rect x="1720.2" y="978.2" width="3.4" height="3.4" rx="1.2" fill="#fff"/>
<rect x="1948.1" y="1031.9" width="7.8" height="7.8" fill="#8a149a"/><rect x="1950.3" y="1034.1" width="3.4" height="3.4" rx="1.2" fill="#fff"/>
<rect x="1786.1" y="1187.9" width="7.8" height="7.8" fill="#8a149a"/><rect x="1788.3" y="1190.1" width="3.4" height="3.4" rx="1.2" fill="#fff"/>
<rect x="1830.1" y="1208.0" width="7.8" height="7.8" fill="#8a149a"/><rect x="1832.3" y="1210.2" width="3.4" height="3.4" rx="1.2" fill="#fff"/>
<rect x="1740.0" y="1232.2" width="7.8" height="7.8" fill="#8a149a"/><rect x="1742.2" y="1234.4" width="3.4" height="3.4" rx="1.2" fill="#fff"/>
<rect x="1862.0" y="1172.0" width="7.8" height="7.8" fill="#8a149a"/><rect x="1864.2" y="1174.2" width="3.4" height="3.4" rx="1.2" fill="#fff"/>
<rect x="1855.9" y="1206.1" width="7.8" height="7.8" fill="#8a149a"/><rect x="1858.1" y="1208.3" width="3.4" height="3.4" rx="1.2" fill="#fff"/>
<rect x="1865.9" y="1284.1" width="7.8" height="7.8" fill="#8a149a"/><rect x="1868.1" y="1286.3" width="3.4" height="3.4" rx="1.2" fill="#fff"/>
<rect x="1104.1" y="1452.0" width="7.8" height="7.8" fill="#8a149a"/><rect x="1106.3" y="1454.2" width="3.4" height="3.4" rx="1.2" fill="#fff"/>
<rect x="1139.9" y="1456.2" width="7.8" height="7.8" fill="#8a149a"/><rect x="1142.1" y="1458.4" width="3.4" height="3.4" rx="1.2" fill="#fff"/>
<rect x="1168.2" y="1456.2" width="7.8" height="7.8" fill="#8a149a"/><rect x="1170.4" y="1458.4" width="3.4" height="3.4" rx="1.2" fill="#fff"/>
<rect x="1153.7" y="1480.2" width="7.8" height="7.8" fill="#8a149a"/><rect x="1155.9" y="1482.4" width="3.4" height="3.4" rx="1.2" fill="#fff"/>
<rect x="1235.7" y="1380.2" width="7.8" height="7.8" fill="#8a149a"/><rect x="1237.9" y="1382.4" width="3.4" height="3.4" rx="1.2" fill="#fff"/>
<rect x="1291.7" y="1386.2" width="7.8" height="7.8" fill="#8a149a"/><rect x="1293.9" y="1388.4" width="3.4" height="3.4" rx="1.2" fill="#fff"/>
<rect x="1583.9" y="1383.9" width="7.8" height="7.8" fill="#8a149a"/><rect x="1586.1" y="1386.1" width="3.4" height="3.4" rx="1.2" fill="#fff"/>
<rect x="402.1" y="159.1" width="7.8" height="7.8" fill="#008b8b"/><rect x="403.7" y="160.7" width="4.6" height="4.6" fill="#d8ffff"/>
<rect x="140.1" y="350.1" width="7.8" height="7.8" fill="#008b8b"/><rect x="141.7" y="351.7" width="4.6" height="4.6" fill="#d8ffff"/>
<rect x="796.1" y="216.1" width="7.8" height="7.8" fill="#008b8b"/><rect x="797.7" y="217.7" width="4.6" height="4.6" fill="#d8ffff"/>
<rect x="678.1" y="268.1" width="7.8" height="7.8" fill="#008b8b"/><rect x="679.7" y="269.7" width="4.6" height="4.6" fill="#d8ffff"/>
<rect x="710.1" y="358.1" width="7.8" height="7.8" fill="#008b8b"/><rect x="711.7" y="359.7" width="4.6" height="4.6" fill="#d8ffff"/>
<rect x="223.9" y="795.9" width="7.8" height="7.8" fill="#008b8b"/><rect x="225.5" y="797.5" width="4.6" height="4.6" fill="#d8ffff"/>
<rect x="619.8" y="903.9" width="7.8" height="7.8" fill="#008b8b"/><rect x="621.4" y="905.5" width="4.6" height="4.6" fill="#d8ffff"/>
<rect x="656.1" y="1024.1" width="7.8" height="7.8" fill="#008b8b"/><rect x="657.7" y="1025.7" width="4.6" height="4.6" fill="#d8ffff"/>
<rect x="912.1" y="1629.1" width="7.8" height="7.8" fill="#008b8b"/><rect x="913.7" y="1630.7" width="4.6" height="4.6" fill="#d8ffff"/>
<rect x="1324.1" y="426.1" width="7.8" height="7.8" fill="#008b8b"/><rect x="1325.7" y="427.7" width="4.6" height="4.6" fill="#d8ffff"/>
<rect x="1790.3" y="312.3" width="7.8" height="7.8" fill="#008b8b"/><rect x="1791.9" y="313.9" width="4.6" height="4.6" fill="#d8ffff"/>
<rect x="195.7" y="1029.8" width="7.8" height="7.8" fill="#008b8b"/><rect x="197.3" y="1031.4" width="4.6" height="4.6" fill="#d8ffff"/>
<rect x="208.3" y="1272.2" width="7.8" height="7.8" fill="#008b8b"/><rect x="209.9" y="1273.8" width="4.6" height="4.6" fill="#d8ffff"/>
<rect x="54.2" y="1466.1" width="7.8" height="7.8" fill="#008b8b"/><rect x="55.8" y="1467.7" width="4.6" height="4.6" fill="#d8ffff"/>
<rect x="78.2" y="1540.3" width="7.8" height="7.8" fill="#008b8b"/><rect x="79.8" y="1541.9" width="4.6" height="4.6" fill="#d8ffff"/>
<rect x="208.0" y="1570.1" width="7.8" height="7.8" fill="#008b8b"/><rect x="209.6" y="1571.7" width="4.6" height="4.6" fill="#d8ffff"/>
<rect x="1128.3" y="884.2" width="7.8" height="7.8" fill="#008b8b"/><rect x="1129.9" y="885.8" width="4.6" height="4.6" fill="#d8ffff"/>
<rect x="1412.2" y="882.1" width="7.8" height="7.8" fill="#008b8b"/><rect x="1413.8" y="883.7" width="4.6" height="4.6" fill="#d8ffff"/>
<rect x="1200.1" y="1236.3" width="7.8" height="7.8" fill="#008b8b"/><rect x="1201.7" y="1237.9" width="4.6" height="4.6" fill="#d8ffff"/>
<rect x="1836.0" y="588.4" width="7.8" height="7.8" fill="#008b8b"/><rect x="1837.6" y="590.0" width="4.6" height="4.6" fill="#d8ffff"/>
<rect x="1726.3" y="704.1" width="7.8" height="7.8" fill="#008b8b"/><rect x="1727.9" y="705.7" width="4.6" height="4.6" fill="#d8ffff"/>
<rect x="1864.0" y="772.1" width="7.8" height="7.8" fill="#008b8b"/><rect x="1865.6" y="773.7" width="4.6" height="4.6" fill="#d8ffff"/>
<rect x="1734.0" y="786.2" width="7.8" height="7.8" fill="#008b8b"/><rect x="1735.6" y="787.8" width="4.6" height="4.6" fill="#d8ffff"/>
<rect x="2018.5" y="772.2" width="7.8" height="7.8" fill="#008b8b"/><rect x="2020.1" y="773.8" width="4.6" height="4.6" fill="#d8ffff"/>
<rect x="1837.9" y="892.0" width="7.8" height="7.8" fill="#008b8b"/><rect x="1839.5" y="893.6" width="4.6" height="4.6" fill="#d8ffff"/>
<rect x="1860.0" y="955.9" width="7.8" height="7.8" fill="#008b8b"/><rect x="1861.6" y="957.5" width="4.6" height="4.6" fill="#d8ffff"/>
<rect x="1866.1" y="1128.1" width="7.8" height="7.8" fill="#008b8b"/><rect x="1867.7" y="1129.7" width="4.6" height="4.6" fill="#d8ffff"/>
<rect x="1858.1" y="1228.2" width="7.8" height="7.8" fill="#008b8b"/><rect x="1859.7" y="1229.8" width="4.6" height="4.6" fill="#d8ffff"/>
<rect x="1854.0" y="1271.9" width="7.8" height="7.8" fill="#008b8b"/><rect x="1855.6" y="1273.5" width="4.6" height="4.6" fill="#d8ffff"/>
<rect x="1690.1" y="1390.1" width="7.8" height="7.8" fill="#008b8b"/><rect x="1691.7" y="1391.7" width="4.6" height="4.6" fill="#d8ffff"/>
<g transform="translate(705,341)"><path d="M0,-9 L7,-5.5 L5,4 L1.6,7 L1.6,14 L-1.6,14 L-1.6,7 L-5,4 L-7,-5.5 Z" fill="#8b2a0a"/><path d="M-4.6,-3 L-0.8,-1.4 L-0.8,5 L-3.6,2.6 Z M4.6,-3 L0.8,-1.4 L0.8,5 L3.6,2.6 Z" fill="#ffb020"/><path d="M0,-8 L5.6,-5.2 L0,-2.6 L-5.6,-5.2 Z" fill="#a03a10"/></g>
<g transform="translate(658,1001)"><path d="M0,-9 L7,-5.5 L5,4 L1.6,7 L1.6,14 L-1.6,14 L-1.6,7 L-5,4 L-7,-5.5 Z" fill="#8b2a0a"/><path d="M-4.6,-3 L-0.8,-1.4 L-0.8,5 L-3.6,2.6 Z M4.6,-3 L0.8,-1.4 L0.8,5 L3.6,2.6 Z" fill="#ffb020"/><path d="M0,-8 L5.6,-5.2 L0,-2.6 L-5.6,-5.2 Z" fill="#a03a10"/></g>
<g transform="translate(210.7,1223.4)"><path d="M0,-9 L7,-5.5 L5,4 L1.6,7 L1.6,14 L-1.6,14 L-1.6,7 L-5,4 L-7,-5.5 Z" fill="#8b2a0a"/><path d="M-4.6,-3 L-0.8,-1.4 L-0.8,5 L-3.6,2.6 Z M4.6,-3 L0.8,-1.4 L0.8,5 L3.6,2.6 Z" fill="#ffb020"/><path d="M0,-8 L5.6,-5.2 L0,-2.6 L-5.6,-5.2 Z" fill="#a03a10"/></g>
<g transform="translate(1731,763)"><path d="M0,-9 L7,-5.5 L5,4 L1.6,7 L1.6,14 L-1.6,14 L-1.6,7 L-5,4 L-7,-5.5 Z" fill="#8b2a0a"/><path d="M-4.6,-3 L-0.8,-1.4 L-0.8,5 L-3.6,2.6 Z M4.6,-3 L0.8,-1.4 L0.8,5 L3.6,2.6 Z" fill="#ffb020"/><path d="M0,-8 L5.6,-5.2 L0,-2.6 L-5.6,-5.2 Z" fill="#a03a10"/></g>
<g transform="translate(1360,434)" fill="none" stroke="#c0983c" stroke-width="1.5"><path d="M-30,9 L-26,14 L-22,10 L-18,7 M18,10 L24,6 L30,11"/><polygon points="-18,2 -12,-12 0,-17 12,-13 18,0 12,15 -12,15" fill="#fff0b0"/><circle r="8.6" fill="#fff" stroke="#c0983c"/><circle r="3.4" fill="#000" stroke="none"/></g>
<circle cx="1268" cy="364" r="5" fill="none" stroke="#000" stroke-width="1"/><circle cx="1268" cy="374" r="5" fill="none" stroke="#000" stroke-width="1"/>
<polygon fill="#2fae4f" points="916.0,1606.5 918.9,1615.0 927.9,1615.1 920.8,1620.5 923.3,1629.1 916.0,1624.0 908.7,1629.1 911.2,1620.5 904.1,1615.1 913.1,1615.0"/>
<!-- 90_labels.svg -->
<text x="114" y="86.3" class="lb">萨满的骨刃x6</text>
<text x="429" y="101.3" class="lb">猎人</text>
<text x="243" y="206.3" class="lb">狂人的知识</text>
<text x="240" y="324.3" class="lb">终结的眷族</text>
<text x="240" y="357.3" class="lb">之血（10）</text>
<text x="419" y="303.3" class="lb">大块血石</text>
<text x="17" y="406.3" class="lb">血石块</text>
<text x="600" y="33.3" class="lb">黄色骨干x2</text>
<text x="894" y="67.3" class="lb">蓝色灵药x2</text>
<text x="873" y="179.3" class="lb">狂人的知识</text>
<text x="905" y="216.3" class="lb">铅丹x2</text>
<text x="728" y="349.3" class="lb">怪兽血丸</text>
<text x="549" y="326.3" class="lb">狂乱的冰冷</text>
<text x="549" y="359.3" class="lb">血液（9）</text>
<text x="1917" y="402.3" class="lb">回火潮湿神血宝石（5）</text>
<text x="32" y="761.3" class="lb">血石块</text>
<text x="600" y="573.3" class="lb">符文『眼』</text>
<text x="1529" y="701.3" class="lb">狂人的知识</text>
<text x="1441" y="740.3" class="lb">血质濡血晶（5）</text>
<text x="1272" y="754.3" class="lb">神秘濡血晶（5）</text>
<text x="1249" y="797.3" class="lb">神明之智</text>
<text x="1904" y="446.3" class="lb">血石块</text>
<text x="1781" y="473.3" class="lb">终结的眷族</text>
<text x="1781" y="506.3" class="lb">之血（10）</text>
<text x="1721" y="549.3" class="lb">水银子弹x6</text>
<text x="2035" y="743.3" class="lb">镇静剂x3</text>
<text x="2166" y="741.3" class="lb">结晶</text>
<text x="1856" y="824.3" class="lb">采血瓶x8</text>
<text x="104" y="876.3" class="lb">狂乱的冰冷</text>
<text x="104" y="909.3" class="lb">血液（9）</text>
<text x="206" y="953.3" class="lb">结晶</text>
<text x="72" y="965.3" class="lb">血石块x2</text>
<text x="376" y="1040.3" class="lb">滋养潮湿神血宝石（4）</text>
<text x="738" y="959.3" class="lb">采血瓶x8</text>
<text x="810" y="1091.3" class="lb">结晶</text>
<text x="942" y="1010.3" class="lb">圣诗铃</text>
<text x="630" y="1204.3" class="lb">狂乱的冰冷</text>
<text x="630" y="1238.3" class="lb">血液（9）</text>
<text x="1478" y="926.3" class="lb">神明之智</text>
<text x="1578" y="962.3" class="lb">血石块x2</text>
<text x="1380" y="986.3" class="lb">大块血石</text>
<text x="1585" y="1156.3" class="lb">终结的眷族</text>
<text x="1585" y="1190.3" class="lb">之血（10）</text>
<text x="1758" y="854.3" class="lb">血石块</text>
<text x="2098" y="974.3" class="lb">符文『月亮』</text>
<text x="1921" y="1100.3" class="lb">狂乱的冰冷</text>
<text x="1921" y="1134.3" class="lb">血液（9）</text>
<text x="1751" y="1157.3" class="lb">铁门钥匙</text>
<text x="1913" y="1238.3" class="lb">水银子弹x6</text>
<text x="515" y="1293.3" class="lb">血石块x2</text>
<text x="466" y="1392.3" class="lb">终结的眷族</text>
<text x="466" y="1426.3" class="lb">之血（11）</text>
<text x="150" y="1626.3" class="lb">尤瑟夫卡的采血瓶</text>
<text x="1211" y="1296.3" class="lb">回火潮湿神血宝石（5）</text>
<text x="1485" y="1271.3" class="lb">终结的眷族</text>
<text x="1485" y="1305.3" class="lb">之血（11）</text>
<text x="1772" y="1356.3" class="lb">受影响的脏器</text>
<text x="284" y="503.3" class="lb">低</text>
<text x="462" y="503.3" class="lb">高</text>
<text x="793" y="396.3" class="bl">猎杀噩梦之主-米克拉什</text>
<text x="793" y="429.3" class="bl">后出现通往深渊的电梯</text>
<text x="1278" y="86.3" class="bl">这个捷径电梯上去的时候</text>
<text x="1278" y="120.3" class="bl">有个缺口可以跳进去</text>
<text x="1278" y="154.3" class="bl">一路下去有个拉杆</text>
<text x="1278" y="188.3" class="bl">可以把大眼睛丢到深渊底部</text>
<text x="1290" y="479.3" class="bl">在大眼睛正面使用</text>
<text x="1290" y="513.3" class="bl">姿势『取得联系』</text>
<text x="1290" y="547.3" class="bl">大约1分钟后可获得</text>
<text x="1290" y="581.3" class="bl">符文『月亮』</text>
<text x="1195" y="1216.3" class="bl">拉杆（大眼睛掉落）</text>
<text x="264" y="409.6" class="bb">传送点『墨戈的居所：底部』</text>
<text x="1914" y="511.6" class="bb">传送点『墨戈的居所：中部』</text>
<text x="724" y="1056.6" class="bb">传送点『月之梦魇』</text>
<text x="505" y="1498.6" class="bb">传送点『乳母的月球运行仪』</text>
<text x="10" y="44.9" class="bb" style="font-size:29px">月之梦魇</text>
<text x="914" y="701.6" class="rd" style="font-size:24px">大眼睛疯狂照射范围</text>
<text x="1444" y="392.3" class="rd">杀死大眼睛可获得</text>
<text x="1444" y="426.3" class="rd">活着的线</text>
<text x="1731" y="640.3" class="rd">Boss：噩梦之主-米克拉什</text>
<text x="136" y="1209.3" class="rd">Boss：墨戈的乳母</text>
<text x="1820" y="925.3" class="rd">跳下</text>
<text x="1855" y="1088.3" class="rd">跳下</text>
<text x="947" y="1644" style="fill:#2fae4f;font-size:28px">起点</text>
<g fill="#000">
<text x="1275" y="317.8" style="font-size:37px;font-weight:bold" fill="#000">『深渊』</text>
<text x="880" y="288.3" style="font-size:19px;font-weight:bold" fill="#000">电梯</text>
<text x="655" y="265.8" style="font-size:16px;font-weight:bold" fill="#000">电梯</text>
<text x="1967" y="263.3" style="font-size:19px;font-weight:bold" fill="#000">电梯</text>
<text x="2" y="1499.3" style="font-size:19px;font-weight:bold" fill="#000">电梯</text>
<text x="63" y="1524.3" style="font-size:19px;font-weight:bold" fill="#000">电梯</text>
<text x="781" y="188.5" style="font-size:11px;font-weight:bold" fill="#000">电梯</text>
<text x="781" y="207.5" style="font-size:11px;font-weight:bold" fill="#000">电梯</text>
<text x="690" y="379.5" style="font-size:11px;font-weight:bold" fill="#000">电梯</text>
<text x="1258" y="361.5" style="font-size:11px;font-weight:bold" fill="#000">电梯</text>
<text x="1258" y="381.5" style="font-size:11px;font-weight:bold" fill="#000">电梯</text>
<text x="1770" y="309.5" style="font-size:11px;font-weight:bold" fill="#000">电梯</text>
<text x="1770" y="333.5" style="font-size:11px;font-weight:bold" fill="#000">电梯</text>
</g>
<text x="225" y="647" style="font-family:'Liberation Mono',monospace;font-style:italic;font-weight:bold;font-size:40px" fill="#808080" textLength="171" lengthAdjust="spacingAndGlyphs">GameGene</text>
<text x="1267" y="1508" style="font-family:'Liberation Mono',monospace;font-style:italic;font-weight:bold;font-size:40px" fill="#808080" textLength="171" lengthAdjust="spacingAndGlyphs">GameGene</text>
<text x="1981" y="1407" style="font-family:'Liberation Mono',monospace;font-style:italic;font-weight:bold;font-size:40px" fill="#808080" textLength="171" lengthAdjust="spacingAndGlyphs">GameGene</text>
</svg>
</body></html>
